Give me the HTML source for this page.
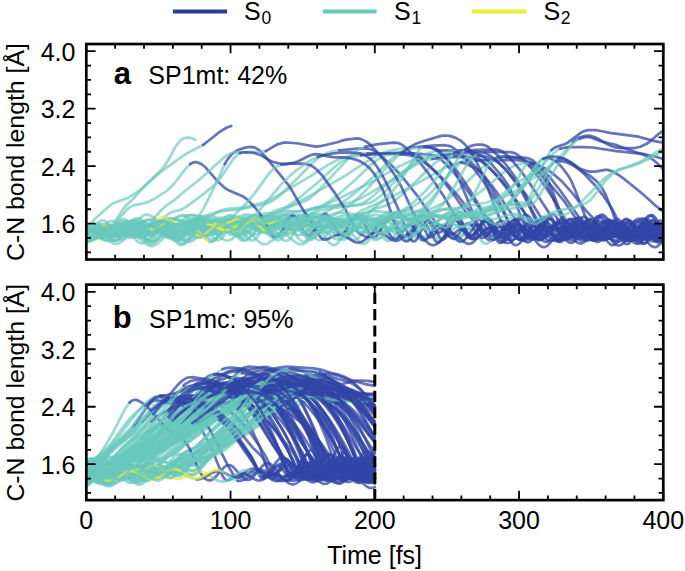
<!DOCTYPE html>
<html><head><meta charset="utf-8"><style>
html,body{margin:0;padding:0;background:#fff}
body{width:685px;height:571px;overflow:hidden}
svg{display:block}
text{font-family:"Liberation Sans",sans-serif;fill:#000}
.tl{font-size:25px}
.c0,.c1,.c2{fill:none;stroke-width:2.7;stroke-opacity:0.75;stroke-linejoin:round;stroke-linecap:round}
.c0{stroke:#3246a6}.c1{stroke:#68c8bc;stroke-opacity:.68}.c2{stroke:#e6ec3c}
</style></head><body>
<svg width="685" height="571" viewBox="0 0 685 571">
<defs>
<clipPath id="ca"><rect x="86.30" y="44.02" width="577.00" height="215.49"/></clipPath>
<clipPath id="cb"><rect x="86.30" y="284.62" width="577.00" height="215.49"/></clipPath>
</defs>
<g clip-path="url(#ca)">
<path class="c1" d="M86.3 237.2l2.2-1.2 2.1-1.9 6.5-7.2 2.2-1.5 2.1-.7 2.2 .4 2.2 1.4 6.5 7 2.1 2 2.2 1.3 2.2 .4 2.1-.6 2.2-1.5 6.5-6.1 2.1-1.3 2.2-.4 2.2 .6 2.1 1.5 6.5 7.7 2.2 2.2 2.1 1.5 2.2 .5 2.2-.4 2.1-1.4 6.5-6.1 2.2-1.4 2.2-.6 2.1 .4 2.2 1.3 8.6 9 2.2 1.3 2.2 .3 2.1-.7 2.2-1.7 8.7-11.2 2.1-2.1 2.2-1.1 2.1-.1 2.2 .8 6.5 4.2 2.2 .6 2.1-.2 2.2-1.1 2.2-1.9 6.4-7.5 2.2-2 2.2-1.2 2.1-.3 2.2 .6 8.7 6.1 2.1 .9 2.2 .1 2.1-.6 2.2-1.4 6.5-6 2.2-1.6 2.1-.9 2.2 0 2.2 .8 8.6 6.9 2.2 1.3 2.1 .5 2.2-.3 2.2-.9 6.5-4.9 2.1-1.3 2.2-.7 2.1 .1 2.2 .9 8.7 7 2.1 1.2 2.2 .6 2.2-.2 2.1-.9 6.5-4.8 4.3-2.2 2.2-.2 2.2 .5 8.6 4.3 2.2 .4 2.1-.4 4.4-2.8 6.5-6.2 4.3-3.3 17.3-7.7 17.3-8.5 21.7-11.3 25.9-14.7 6.5-2.8 8.7-2.6 8.6-1.9 8.7-.9"/>
<path class="c0" d="M475.8 160.4l41.1-.2 4.3 .5 2.2 .7 4.3 2.4 4.3 3.3 10.9 9.7 8.6 9.2 13 15.7 10.8 15.7 2.2 2.6 2.1 1.9 6.5 3.2 2.2 2.1 4.3 6 2.2 1.2 2.1-1.1 8.7-11 2.2-1.4 2.1-.3 2.2 .8 2.2 1.9 8.6 12.6 2.2 2.4 2.1 1.5 2.2 .4 2.2-.8 2.1-1.8 2.2-2.5 6.5-8.4 2.1-1.9 2.2-.8 2.2 .1 2.1 1.1 2.2 1.9 6.5 7.3 3.6 2.8"/>
<path class="c1" d="M86.3 237.7l8.7-10.7 2.1-1.4 2.2-.1 2.1 1 2.2 2.1 6.5 8.8 2.2 2.2 2.1 1.1 2.2-.1 2.2-1.3 2.1-2.3 6.5-8.8 2.2-2.1 2.1-1 2.2 .2 2.2 1.5 2.1 2.4 6.5 8.9 2.2 2 2.1 .9 2.2-.3 2.2-1.6 8.6-11.3 2.2-1.9 2.2-.7 2.1 .5 2.2 1.6 8.6 11.2 2.2 1.7 2.2 .5 2.1-.7 2.2-1.8 8.7-11.5 2.1-1.7 2.2-.5 2.1 .7 2.2 1.9 8.7 11.2 2.1 1.5 2.2 .3 2.2-.9 2.1-2.1 6.5-8.8 2.2-2.3 2.1-1.4 2.2-.1 2.2 1.1 2.1 2.2 6.5 9 2.2 2.3 2.1 1.3 2.2 .1 2.2-1.2 2.1-2.2 6.5-8.8 2.2-2.1 2.2-1 2.1 .1 2.2 1.4 2.1 2.3 6.5 8.9 2.2 2.1 2.2 .9 2.1-.3 2.2-1.5 8.6-11.4 2.2-2 2.2-.8 2.1 .3 2.2 1.6 8.7 11.1 2.1 1.8 2.2 .6 2.1-.6 2.2-1.7 8.7-11.5 2.1-1.7 2.2-.5 2.2 .7 2.1 1.8 8.7 11.4 2.1 1.6 2.2 .4 2.2-.8 2.1-1.9 6.5-8.7 2.2-2.4 2.2-1.4 2.1-.2 2.2 1 2.1 2.1 6.5 9.1 2.2 2.3 2.2 1.4 2.1 .1 2.2-1.1 2.2-2.1 6.4-8.9 2.2-2.3 2.2-1.2 2.1 .1 2.2 1.2 2.2 2.2 6.5 8.8 2.1 2.1 2.2 1 2.1-.2 2.2-1.4 2.2-2.5 6.5-9 2.1-2 2.2-1 2.2 .3 2.1 1.5 8.7 11.2 2.1 1.8 2.2 .8 2.2-.5 2.1-1.6 8.7-11.3 2.1-1.7"/>
<path class="c0" d="M471.4 225l2.2-.6 2.2 .6 2.1 1.8 8.7 11.6 2.2 1.7 2.1 .5 2.2-.7 2.1-1.8 8.7-11.2 2.2-1.5 2.1-.3 2.2 .9 2.2 2 6.4 8.9 2.2 2.4 2.2 1.4 2.1 .2 2.2-1.1 2.2-2.1 6.5-9 2.1-2.3 2.2-1.4 2.2-.1 2.1 1.2 2.2 2.1 6.5 8.8 2.1 2.1 2.2 1.1 2.2-.1 2.1-1.4 2.2-2.3 6.5-9 2.1-2.1 2.2-1 2.2 .3 2.1 1.4 2.2 2.4 6.5 8.9 2.2 2 2.1 .9 2.2-.3 2.1-1.6 8.7-11.1 2.2-1.8 2.1-.7 2.2 .6 2.2 1.7 8.6 11.5 2.2 1.8 2.1 .6 2.2-.6 2.2-1.8 8.6-11.3 2.2-1.6 2.1-.5 2.2 .8 2.2 1.9 8.6 11.2 2.2 1.6 3.6 1"/>
<path class="c1" d="M86.3 238.1l8.7-8.8 2.1-1.2 2.2-.1 2.1 1 2.2 1.9 6.5 7.5 2.2 1.6 2.1 .6 2.2-.4 2.2-1.5 8.6-9.6 2.2-1.3 2.1-.2 2.2 .9 2.2 1.8 6.5 7.4 2.1 1.7 2.2 .7 2.1-.3 2.2-1.4 8.7-9.7 2.1-1.4 2.2-.3 2.2 .8 2.1 1.8 6.5 7.5 2.2 1.7 2.1 .9 2.2-.3 2.2-1.3 8.6-9.5 2.2-1.4 2.2-.3 2.1 .7 2.2 1.7 6.5 7.6 2.1 1.9 2.2 1 2.2-.1 2.1-1.2 2.2-2 6.5-7.4 2.1-1.5 2.2-.4 2.2 .7 2.1 1.6 6.5 7.6 2.2 2 2.2 1.1 2.1-.1 2.2-1 2.1-2 6.5-7.5 2.2-1.5 2.2-.6 2.1 .5 2.2 1.6 8.6 9.4 2.2 1.2 2.2 0 2.1-1 2.2-2 6.5-7.5 2.2-1.7 2.1-.7 2.2 .4 2.1 1.4 8.7 9.4 2.2 1.2 2.1 .1 2.2-.9 2.2-1.9 6.4-7.6 2.2-1.7 2.2-.8 2.1 .3 2.2 1.3 8.7 9.6 2.1 1.3 2.2 .3 2.1-.9 2.2-1.7 6.5-7.5 2.2-1.8 2.1-.8 2.2 .2 2.2 1.3 8.6 9.7 2.2 1.4 2.1 .4 2.2-.7 2.2-1.7 6.5-7.4 2.1-1.8 2.2-1 2.2 .2 2.1 1.2 8.7 9.6 2.1 1.5 2.2 .5 2.2-.6 2.1-1.7 6.5-7.5 2.2-1.9 2.1-1.1 2.2 0 2.2 1.1 2.1 2 6.5 7.4 2.2 1.6 2.2 .5 2.1-.5 2.2-1.6 8.6-9.6 2.2-1.2 2.2-.1 2.1 1 2.2 1.8 6.5 7.5 2.1 1.6 2.2 .7 2.2-.5 2.1-1.4 8.7-9.6 2.2-1.2 2.1-.2 2.2 .9"/>
<path class="c0" d="M493.1 227.8l2.1 1.8 6.5 7.6 2.2 1.7 2.2 .8 2.1-.3 2.2-1.3 8.6-9.4 2.2-1.3 2.2-.3 2.1 .8 2.2 1.8 6.5 7.7 2.2 1.8 2.1 .9 2.2-.2 2.2-1.2 8.6-9.5 2.2-1.4 2.1-.3 2.2 .7 2.2 1.7 6.5 7.5 2.1 1.9 2.2 1 2.1-.1 2.2-1.2 8.7-9.6 2.1-1.5 2.2-.5 2.2 .6 2.1 1.5 6.5 7.5 2.2 1.9 2.1 1 2.2 0 2.2-1.1 2.1-2 6.5-7.6 2.2-1.6 2.1-.7 2.2 .5 2.2 1.5 6.5 7.4 2.1 2.1 2.2 1.1 2.2 .1 2.1-1 2.2-1.9 6.5-7.5 2.1-1.7 2.2-.7 2.2 .5 2.1 1.4 5.8 5.7"/>
<path class="c1" d="M86.3 237.2l2.2-1.7 2.1-2.6 6.5-9.3 2.2-2.1 2.1-1.1 2.2 .1 2.2 1.1 8.6 8.8 2.2 1 2.2 .1 2.1-1 2.2-1.8 6.5-6.6 2.1-1.2 2.2-.2 2.2 .8 2.1 1.7 6.5 7.3 2.2 1.8"/>
<path class="c2" d="M146.9 232.3l2.1 .9 2.2-.2 2.2-1 6.5-6.4 2.1-1.8 2.2-1.1"/>
<path class="c1" d="M164.2 222.7l2.2-.2 2.1 .7 2.2 1.5 6.5 6.1 2.1 1.2 2.2 .3 2.2-.7 2.1-1.6 6.5-7.4 2.2-2 2.2-1.2 2.1-.3 2.2 .5 8.6 6.3 2.2 .8 2.2-.1 2.1-.9 2.2-1.7 6.5-6.6 2.1-1.6 2.2-.7 2.2 .1 2.1 1 8.7 7 2.2 .8 2.1 .2 2.2-.7 8.6-5.1 2.2-.5 2.2 .4 2.1 1.2 2.2 2.1 6.5 8.4 2.1 2.1 2.2 1.1 2.2 .2 2.1-.9 8.7-8.1 2.2-1.2 2.1-.1 2.2 .8 2.1 1.7 6.5 6.6 2.2 1.3 2.2 .5 2.1-.7 2.2-1.5 6.5-7.5 2.1-2 2.2-1.3 2.2-.4 2.1 .4 8.7 5.7 2.2 .7 2.1-.2 2.2-1.1 2.1-1.7 6.5-6.9 2.2-1.7 2.2-1 2.1-.2 2.2 .6 6.5 3.7 2.2 1 2.1 .4 2.2-.2 2.1-.8 8.7-6 2.2-1 2.1-.5 4.4 .7 8.6 3.3 4.3-.2 13-5.4 8.7-1 4.3-.9 8.7-4.2 4.3-2.8 6.5-5.3 28.1-26.5 6.5-5.3 4.3-2.6 4.3-1.8 6.5-1.8 4.4-.4"/>
<path class="c0" d="M506.1 157.6l17.3-.1 4.3 .5 4.3 1.9 6.5 5.4 10.8 11.3 10.9 13.9 21.6 30.8 6.5 13.8 2.2 3.1 2.1 1.1 2.2-.4 2.1-.9 10.9-5.8 4.3-.9 4.3 .7 10.8 6.1 4.4 1.2 2.1-.2 4.4-1.6 8.6-6.3 4.3-2.1 2.2-.2 2.2 .3 2.1 .9 5.8 3.5"/>
<path class="c1" d="M86.3 232.3l8.7 6.1"/>
<path class="c2" d="M95 238.4l2.1 .7 2.2-.2 2.1-.9 2.2-1.7 8.7-9.1 2.1-1.4 2.2-.7 2.2 .2 2.1 1 8.7 7.9"/>
<path class="c1" d="M129.6 234.2l2.1 1.5 2.2 .7 2.2 0 2.1-.9 2.2-1.7 8.6-10.1 2.2-1.7 2.2-.9 2.1-.1 2.2 .8 8.7 5.6 2.1 .8 2.2 0 2.1-.6 2.2-1.3 10.8-9.6 4.4-1.8 4.3 .1 8.6 2.1 4.4-.2 4.3-1.6 8.7-4.5 4.3-1.5 4.3-.7 13-.7 19.5-4.8 8.6-3.5 8.7-4.6 30.3-18.1 19.4-12.4 8.7-4.5 6.5-2.5 8.6-2.2 8.7-1.6 6.5-.4"/>
<path class="c0" d="M367.6 153.3l21.6 .4 19.5 1.5 6.5 1.6 6.5 3.6 13 10.6 8.6 8.3 15.2 17.2 12.9 16.9 2.2 2.1 6.5 4.7 2.2 2.1 2.1 3 4.4 7.5 2.1 2.7 2.2 1 2.1-.6 6.5-5.2 2.2-1 2.2-.2 2.1 .7 2.2 1.6 6.5 6.4 2.1 1.5 2.2 .7 2.2-.2 2.1-1.1 6.5-5.1 2.2-1.1 2.2-.3 2.1 .5 2.2 1.4 6.5 5.5 2.1 .9 2.2 0 2.2-1.2 2.1-2.1 6.5-8.5 2.2-2.1 2.2-1 2.1 .2 2.2 1.2 6.5 7 2.1 1.8 2.2 1 2.2-.1 2.1-1.1 6.5-5.6 2.2-1.1 2.1-.1 2.2 1.2 2.2 2.2 6.5 9.3 2.1 2.2 2.2 1.1 2.2-.3 2.1-1.6 6.5-8.8 2.2-2.6 2.1-1.5 2.2-.4 2.2 .9 6.5 6 2.1 1.4 2.2 .5 2.1-.8 2.2-2 6.5-9.2 2.2-2.3 2.1-1.1 2.2 .1 3.6 2"/>
<path class="c1" d="M86.3 242l4.3-.5 2.2-1.1 2.2-1.8 10.8-14.4 2.1-2 2.2-1.1 2.2-.3 2.1 .5 8.7 5 2.1 .7 2.2 .1 2.2-.5 2.1-1.3 10.9-9.4 2.1-1 2.2-.3 2.1 .3 2.2 1 8.7 6.1 2.1 1 2.2 .4 2.2-.2 2.1-.7 8.7-5.6 2.1-1 2.2-.4 2.2 .2 2.1 .9 2.2 1.7 8.7 10.4 2.1 2.1 2.2 1.3 2.1 .3 2.2-.7 2.2-1.3 6.5-5.3 2.1-1.2 2.2-.4 2.2 .3 2.1 1 8.7 7.7 2.1 1.5 2.2 .7 2.2 0 2.1-.9 2.2-1.5 8.6-8.5 2.2-1.4 2.2-.8 2.1-.1 2.2 .5 8.7 4.4 2.1 .6 2.2-.1 2.1-.6 2.2-1.3 8.7-7.8 4.3-2.8 4.3-.7 10.8 2.2 2.2-.3 4.3-1.9 8.7-6.2 8.6-5.5 8.7-6.6 17.3-15 15.2-14.5 6.4-5.4 4.4-2.7 6.5-2.6 6.5-1.6 4.3-.3"/>
<path class="c0" d="M397.9 153.3l17.3 .3 15.1 1.1 4.4 1 2.1 1 4.4 3 4.3 4.1 8.6 9.1 8.7 11 17.3 25.1 4.3 7.6 6.5 13 2.2 3.4 2.1 2.5 2.2 1.2 2.2-.2 2.1-1.7 8.7-12.8 2.2-1.6 2.1-.2 2.2 1.4 2.1 2.7 6.5 10.3 2.2 2.2 2.2 .8 2.1-.8 2.2-2.3 8.7-14.9 2.1-2.2 2.2-.6 2.1 1 2.2 2.3 6.5 10.5 2.2 2.7 2.1 1.2 2.2-.2 2.2-1.7 8.6-13 2.2-1.8 2.1-.3 2.2 1.3 2.2 2.8 6.5 12.2 2.1 3.3 2.2 1.9 2.1 .4 2.2-1.2 2.2-2.6 6.5-10.1 2.1-2.1 2.2-.8 2.2 .8 2.1 2.2 6.5 10.8 2.2 2.8 2.1 1.6 2.2 0 2.2-1.7 2.1-3.1 6.5-12.3 2.2-3 2.1-1.6 2.2 0 2.2 1.5 8.6 12.4 2.2 1.9 3.6 1"/>
<path class="c1" d="M86.3 237.1l2.2-1.5 6.5-6 2.1-1.2 2.2-.5 2.1 .2 2.2 1 6.5 4.7 2.2 1.2 2.1 .6 2.2-.1 2.2-.9 2.1-1.5"/>
<path class="c2" d="M120.9 233.1l6.5-5.6 2.2-1.3 2.1-.6 2.2 .2 2.2 .9 6.5 5"/>
<path class="c1" d="M142.6 231.7l4.3 2.4 2.1 .2 2.2-.6 4.3-3 6.5-6.1 2.2-1.2 2.2-.4 2.1 .4 2.2 1 6.5 4.3 2.1 .9 2.2 .3 2.2-.4 2.1-1.1 8.7-6.7 2.2-.9 2.1-.4 2.2 .3 2.1 1 6.5 4.3 4.4 1.6 2.1-.1 2.2-.7 8.6-5.8 2.2-1.1 2.2-.5 2.1 0 2.2 .7 8.7 4.7 2.1 .5 2.2 .1 2.1-.6 2.2-1.1 6.5-4.6 4.3-2.3 4.4-.8 6.4-.3 4.4-1.4 15.1-10.1 21.7-11.6 28.1-15.9 26-17.1 8.6-4.9 6.5-2.6 6.5-1.7 8.6-1.6 10.9-1.3"/>
<path class="c0" d="M410.9 147.5l21.6-1.9 13-.4 4.3 .9 2.2 .9 4.3 3.1 4.3 4.1 10.8 11.6 6.5 8.1 6.5 9 17.3 26.2 4.4 8.2 6.5 14.5 2.1 3.9 2.2 2.6 2.1 .8 2.2-.8 2.2-2.1 8.6-10.9 2.2-1.7 2.2-.7 2.1 .5 2.2 1.7 2.2 2.5 6.4 9.5 2.2 2.3 2.2 1.3 2.1 .1 2.2-1.1 2.2-2.1 6.5-8.8 2.1-2.3 2.2-1.3 2.1-.2 2.2 1 2.2 2 6.5 8.6 2.1 2.3 2.2 1.2 2.2 0 2.1-1.2 2.2-2.5 8.6-13.8 2.2-2.2 2.2-.9 2.1 .3 2.2 1.6 8.6 11.5 2.2 1.9 2.2 .8 2.1-.5 2.2-1.6 8.7-12.2 2.1-2 2.2-.9 2.1 .6 2.2 1.8 2.2 3 6.5 11.4 2.1 3 2.2 2 3.6 1.4"/>
<path class="c1" d="M86.3 238.2l4.3-.5 2.2-.7 4.3-2.6 6.5-4.7 4.3-1.9 4.4-.3 10.8 2.7 4.3 0 4.3-1.8 10.9-7.3 4.3-1.4 4.3 .1 8.7 2.2 4.3 .3 4.3-.9 10.8-4.9 4.4-1.2 4.3-.1 10.8 1.2 4.3-.2 17.4-5.1 17.3-1.4 23.8-4.8 6.5-1.9 4.3-2 6.5-4.7 21.6-21.1 10.8-11.1 6.5-5.8 4.3-2.9 4.4-2 6.5-2 6.5-1.1"/>
<path class="c0" d="M339.5 150.3l17.3-1.6 10.8-.1 4.3 1 6.5 3.9 13 11.8 8.6 8.9 17.4 21.6 17.3 25.3 12.9 14.5 2.2 .7 2.2-.9 6.5-5.4 2.1-.6 2.2 .4 2.2 1.4 6.4 6.2 2.2 1.2 2.2 .1 2.1-1.1 8.7-8.6 2.2-.9 2.1 .2 2.2 1.3 6.5 6.2 2.1 1.2 2.2 .2 2.2-1 6.5-6.3 2.1-1.6 2.2-.5 2.1 .6 2.2 1.7 6.5 7.7 2.2 1.5 2.1 .4 2.2-.9 6.5-6.5 2.2-1.7 2.1-.8 2.2 .4 2.1 1.5 6.5 6.7 2.2 1.1 2.2-.1 2.1-1.4 6.5-7.9 2.2-2.1 2.1-1 2.2 .3 2.2 1.4 6.5 7.1 2.1 1.3 2.2 .2 2.2-1 6.4-6.8 2.2-1.6 2.2-.5 2.1 .8 2.2 2 6.5 8.3 2.2 1.6 2.1 .3 2.2-.9 6.5-7.3 2.1-1.9 2.2-.8 2.2 .5 2.1 1.6 6.5 7 2.2 1.1 2.1-.2 2.2-1.5 6.5-8.5 2.2-2.2 2.1-1 2.2 .1 3.6 2"/>
<path class="c1" d="M86.3 242.9l4.3-2.7 8.7-8.6 4.3-2.7 2.2-.5 2.1 .2 10.9 4.4 2.1 .3 2.2-.3 4.3-2.2 8.7-7.2 2.1-1.2 2.2-.6 2.2 .1 2.1 .7 2.2 1.4 8.6 7.7 4.4 2.3 2.1 .2 2.2-.3 10.8-5.3 2.2-.5 2.1 .1 4.4 1.8 8.6 6.4 2.2 1 2.2 .3 2.1-.3 2.2-.9 2.1-1.6 8.7-8.9 4.3-3 2.2-.7 2.2 0 10.8 3.5 4.3-.3 4.3-2.3 8.7-6.3 4.3-1.6 4.3 .1 10.9 3.6 4.3 .1 4.3-1.2 10.8-4.9 4.4-1.2 15.1-1.3 13-2.9 6.5-1.1 25.9-1 6.5-.9 4.4-1.6 6.5-4.3 12.9-11 19.5-15.6 8.7-6.2 4.3-2.3 4.3-1.7 6.5-1.8 6.5-1.1"/>
<path class="c0" d="M432.5 159l15.1-1.6 10.9-.4 4.3 .5 2.2 .7 4.3 2.7 4.3 3.8 8.7 9.1 8.6 10.5 8.7 11.9 17.3 25.6 6.5 11.3 2.1 2.9 2.2 1.1 2.2-.6 2.1-1.7 6.5-7.3 2.2-1.5 2.2-.7 2.1 .5 2.2 1.4 8.6 10 2.2 1.6 2.2 .8 2.1-.4 2.2-1.4 8.6-9.7 2.2-1.7 2.2-.6 2.1 .3 2.2 1.3 8.7 8.7 2.1 1.2 2.2 .2 2.1-.8 2.2-1.8 8.7-10.4 2.1-1.4 2.2-.4 2.2 .6 2.1 1.7 8.7 9.8 2.1 1.3 2.2 .4 2.2-.7 2.1-1.5 6.5-6.9 2.2-1.7 2.1-.8 2.2 .2 2.2 1.2 2.1 2.1 6.5 8.4 2.2 2.1 3.6 2.3"/>
<path class="c1" d="M86.3 229.9l6.5-1.8 4.3 .2 4.3 1.8 8.7 4.4 4.3 .8 2.2-.2 4.3-1.5 8.7-5 4.3-1.5 4.3-.2 10.8 2.4 4.4 0 2.1-.5 4.4-2 8.6-5.6 4.3-1.7 2.2-.3 4.3 .7 10.9 5.4 4.3 1.3 4.3 0 10.8-2.9 4.4-.3 4.3 .8 10.8 4.8 4.3 1 2.2-.1 4.3-1.2 10.8-6 4.4-1.6 4.3-.5 6.5 1"/>
<path class="c2" d="M265.9 221.6l4.3 .8 4.3 .1 4.4-.9 6.5-2.5"/>
<path class="c1" d="M285.4 219.1l4.3-1.2 2.2-.1 4.3 .9 4.3 2.2 8.7 6.1 4.3 2 2.2 .4 2.1 0 4.3-1.2 8.7-4.4 4.3-1.7 4.4-.9 8.6-.7 6.5-1.7 15.2-8 4.3-1.7 10.8-3.1 6.5-3 4.3-3 6.5-5.6 15.2-14.4 12.9-13 4.4-3.8 4.3-2.9 4.3-2.1 6.5-2.1 4.3-.6"/>
<path class="c0" d="M454.1 155.5l4.4 .1 6.5 .8 10.8 2.4 6.5 3.3 6.5 5.3 8.6 8.6 6.5 7.6 10.8 14.6 23.8 35.1 2.2 2.3 2.2 .8 2.1-.9 6.5-6.5 2.2-1.2 2.1-.1 2.2 1.1 6.5 6.5 2.2 1.5 2.1 .5 2.2-.6 2.1-1.8 6.5-6.9 2.2-1.2 2.2 .1 2.1 1.4 6.5 7.6 2.2 2 2.1 .8 2.2-.4 2.2-1.5 6.5-6.7 2.1-1.2 2.2 .1 2.2 1.3 6.4 7.1 2.2 1.7 2.2 .4 2.1-.8 2.2-2 6.5-8.2 2.2-1.5 2.1-.3 2.2 1 6.5 7 2.1 1.7 2.2 .6 2.2-.7 2.1-1.8 5.8-6.4"/>
<path class="c1" d="M86.3 229.9l4.3-2 2.2-.4 2.2 .5 2.1 1.2 6.5 5 2.2 1 2.1 .1 2.2-.7 2.2-1.4 6.5-5.8 2.1-1.2 2.2-.4 2.1 .4 2.2 1.3 6.5 5.6 2.2 1.3 2.1 .6 2.2-.4 2.2-1.2 6.4-5.7 2.2-1.5 2.2-.7 2.1 .1 2.2 1 6.5 5.3 2.2 1.4 2.1 .7 2.2-.2 2.1-1.1 8.7-7.6 2.2-1 2.1-.3 2.2 .7 2.2 1.3 6.5 5.1 2.1 .9 2.2 .1 2.1-.8 2.2-1.5 6.5-6 2.2-1.2 2.1-.4 2.2 .5 2.2 1.2 6.4 5.6 2.2 1.3 2.2 .4 2.1-.4 2.2-1.2 6.5-5.6 2.2-1.3 2.1-.6 2.2 .2 2.1 .9 6.5 4.9 2.2 1.2 2.2 .4 2.1-.3 2.2-1.1 6.5-5.4 4.3-2.6 2.2-.3 2.1 .3 8.7 3.5 2.2 .1 2.1-.4 2.2-1 6.5-4.9 4.3-2.6 4.3-.9 6.5 .4 4.3-.5 4.4-2 15.1-9 6.5-4.4 8.7-7 17.3-15.4 15.1-15 6.5-5.6 4.3-2.8 6.5-2.7 6.5-1.7 6.5-.7"/>
<path class="c0" d="M419.5 147.5l10.8 0 4.4 .8 4.3 2.4 6.5 6.3 8.6 10.1 6.5 8.8 10.8 16.6 13 22.1 6.5 8.1 6.5 10 2.2 2.2 2.1 .4 2.2-1.3 6.5-7.3 2.2-1.8 2.1-1.1 2.2 0 2.1 .8 2.2 1.8 8.7 10 2.1 1.6 2.2 .8 2.2-.2 2.1-1 2.2-1.9 6.5-6.8 2.1-1.6 2.2-.7 2.2 .2 2.1 1.2 2.2 2 8.7 10.8 2.1 1.6 2.2 .6 2.1-.5 2.2-1.5 2.2-2.4 6.5-9 2.1-2.3 2.2-1.5 2.2-.5 2.1 .6 2.2 1.5 8.6 9.2 2.2 1.3 2.2 .3 2.1-.9 2.2-1.8 8.6-12.1 2.2-2.3 2.2-1.3 2.1-.2 2.2 .9 2.2 2.1 8.6 11.9 2.2 2 2.1 1.1 2.2-.1 2.2-1.2 2.1-2 6.5-7.7 2.2-1.9 3.6-1.7"/>
<path class="c1" d="M86.3 236.4l4.3 .3 2.2-1 2.2-1.9 6.4-7.4 2.2-1.4 2.2-.2 2.1 1.1 2.2 2.2 6.5 8.7 2.2 1.9 2.1 .7 2.2-.5 2.1-1.6 6.5-6.8 2.2-1.3 2.2-.1 2.1 1.1 2.2 2.3 6.5 8.7 2.1 2 2.2 .7 2.2-.5 2.1-1.6 6.5-7.4 2.2-1.5 2.2-.4 2.1 .8 2.2 1.9 6.5 7.8 2.1 1.7 2.2 .4 2.2-.8 2.1-1.9 6.5-8.4 2.2-2 2.2-.8 2.1 .4 2.2 1.4 6.5 7 2.1 1.4 2.2 .3 2.2-.9 2.1-2.1 6.5-8.9 2.2-2.1 2.1-1 2.2 .3 2.2 1.4 6.5 7.1 2.1 1.6 2.2 .5 2.2-.7 2.1-1.8 6.5-8.2 2.2-1.9 2.1-.7 2.2 .5 2.2 1.7 6.5 8.1 2.1 2 2.2 1 2.1-.3 2.2-1.4 6.5-7.1 2.2-1.6 2.1-.6 2.2 .8 2.2 1.9 6.4 8.8 2.2 2.3 2.2 1.2 2.1-.1 2.2-1.2 6.5-6.9 2.2-1.7 2.1-.6 2.2 .6 2.1 1.8 6.5 8.4 2.2 2.1 2.2 1.1 2.1-.2 2.2-1.5 6.5-7.7 2.1-2.1 2.2-1 2.2 .2 2.1 1.3 6.5 7.3 2.2 1.8 2.2 .8 2.1-.5 2.2-1.7 8.6-11.1 2.2-1.4 2.2-.1 2.1 1.1 6.5 6.7 2.2 1.8 2.2 .7 2.1-.4 2.2-1.7 8.6-10.9 2.2-1.3 2.2-.1 2.1 1.2 6.5 7.4 2.2 2 2.1 1.1 2.2-.1 2.2-1.2 8.6-9.6 2.2-1 2.2 .2 2.1 1.5 2.2 2.4 6.5 8.5 2.1 1.5 2.2 .2 2.2-.9 2.1-1.8 4.4-4.8 2.1-1.9 2.2-.9 2.1 .3 2.2 1.5 2.2 2.5 6.5 8.7 2.1 1.5 2.2 .3 2.2-.9 2.1-1.9 6.5-7.2 2.2-1.1 2.1 0"/>
<path class="c0" d="M501.7 232.6l2.2 1.2 2.2 2.2 6.5 7.7 2.1 1.3 2.2 .1 2.1-1.2 2.2-2.2 6.5-8.3 2.2-1.6 2.1-.5 2.2 .8 2.2 1.8 6.5 6.9 2.1 1.1 2.2-.1 2.1-1.4 2.2-2.4 6.5-8.8 2.2-1.7 2.1-.6 2.2 .7 2.2 1.7 6.4 7 2.2 1.3 2.2 0 2.1-1.1 2.2-2.1 6.5-8.2 2.2-1.5 2.1-.4 2.2 .9 2.1 2 6.5 8.1 2.2 1.7 2.2 .5 2.1-.7 2.2-1.7 6.5-7.2 2.1-1.2 2.2-.2 2.2 1.2 2.1 2.2 6.5 8.9 2.2 1.9 2.2 .8 2.1-.5 2.2-1.5 6.5-6.9 2.1-1.4 2.2-.2 2.2 1 2.1 2.1 5.8 7"/>
<path class="c1" d="M86.3 240.4l2.2-1.8 6.5-7.6 2.1-1.7 2.2-.8 2.1 .3"/>
<path class="c2" d="M101.4 228.8l2.2 1.2 6.5 5 2.2 .8 2.1-.2 2.2-1.2 6.5-7"/>
<path class="c1" d="M123.1 227.4l2.1-2.1 2.2-1.3 2.2-.2 2.1 .7 8.7 6.9 2.2 .6 2.1-.3 2.2-1.4 6.5-6.6 2.1-1.7 2.2-.8 2.2 .3 2.1 1.2 6.5 6.2 2.2 1.4 2.1 .6 2.2-.5 2.2-1.4 6.5-6 2.1-1.2 2.2-.3 2.2 .7 2.1 1.6 6.5 6.5 2.2 1.3 2.1 .3 2.2-.7 2.2-1.5 6.5-5.8 2.1-1 2.2 .1 2.2 1 8.6 8 2.2 .9 2.1-.1 2.2-1.1 6.5-6 2.2-1.5 2.1-.8 2.2 .2 2.1 1.1 6.5 5.6 2.2 1.3 2.2 .4 2.1-.5 2.2-1.4 6.5-6.4 2.1-1.4 2.2-.6 2.2 .4 2.1 1.1 6.5 5.1 2.2 .9 2.2 .1 2.1-.9 8.7-7.7 2.1-1.2 2.2-.2 2.2 .6 6.5 4.9 2.1 1.5 2.2 .7 2.1-.1 2.2-1 6.5-5.4 2.2-1.2 2.1-.5 2.2 .5 2.2 1.4 6.4 6.7 2.2 1.7 2.2 .7 2.1-.3 2.2-1.3 6.5-6.3 2.2-1.6 2.1-.7 2.2 .1 6.5 2.9 2.1 .7 2.2 .1 2.2-.5 2.1-1.3 6.5-5.6 4.4-2.8 4.3-1.3 6.5-1 6.5-3 10.8-7 6.5-5.5 17.3-17 13-13.9 6.5-5.8 4.3-2.8 4.3-1.9 6.5-1.8 4.3-.4"/>
<path class="c0" d="M484.4 151.8l26 .3 4.3 1 2.2 1.1 4.3 3.4 10.8 11.5 8.7 10.9 10.8 15.9 13 22 6.5 8.2 6.5 9.8 2.1 1.3 2.2-.1 2.2-1 8.6-5.3 2.2-.6 2.1 0 2.2 .5 2.2 1.1 10.8 8.7 2.2 1 2.1 .4 2.2-.2 2.1-.8 10.9-7.9 2.1-.9 2.2-.3 2.2 .3 2.1 .9 8.7 6.6 2.1 1.2 2.2 .6 2.2 0 2.1-.8 5.8-4"/>
<path class="c1" d="M86.3 231.9l8.7-6.5 2.1-1 2.2-.5 2.1 0 2.2 .6 8.7 4.4 4.3 1.3 4.3-.5 10.8-5.2 4.4-1 4.3 .5 10.8 4 4.3 .2 4.4-1.3 8.6-5 4.3-1.7 4.4-.4 10.8 2.9 4.3 .3 4.4-1.1 10.8-5.2 4.3-.7 2.2 .5 2.1 .9 10.8 8.4 2.2 1 2.2 .5 4.3-.6 8.7-3.8 4.3-.7 4.3 .8 10.8 5 4.4 .2 4.3-1.4 8.6-5.2 4.4-2 4.3-1 8.6-.1 4.4-.5 4.3-1.3 10.8-5.2 4.3-1.5 4.4-1 36.8-4.7 4.3-.9 4.3-1.5 4.3-2.5 4.4-3.5 32.4-32.5 6.5-5.7 4.3-2.7 4.4-1.9 8.6-2.4"/>
<path class="c0" d="M436.8 150.7l6.5-.3 10.8 .2 23.8 1.3 6.5 1.1 2.2 .7 4.3 2.5 4.3 3.4 8.7 8.3 10.8 12 15.2 20.2 10.8 16.9 10.8 15.7 2.2 2.5 2.1 1 2.2-1 2.2-2.9 4.3-8 2.2-3.2 2.1-1.6 2.2 .4 2.1 2.1 6.5 10.9 2.2 2.3 2.2 .5 2.1-1.5 2.2-3.2 6.5-12.3 2.1-2.2 2.2-.2 2.2 1.7 2.1 3.3 4.4 8 2.1 3.1 2.2 1.4 2.2-.5 2.1-2.2 6.5-10.3 2.2-1.8 2.1-.1 2.2 2 8.7 16.2 2.1 2.1 2.2 .2 2.1-1.7 6.5-10.6 2.2-2.6 2.2-1 2.1 .9 2.2 2.2 3.6 5"/>
<path class="c1" d="M86.3 228.5l4.3 .6 2.2 .9 8.6 4.8 4.4 1.1 4.3-1 10.8-6.5 4.3-1.1 4.4 1.1 10.8 6.2 2.2 .6 2.1 .1 4.3-1.5 8.7-6.1 4.3-1.9 2.2-.3 2.2 .3 2.1 .7 8.7 4.6 4.3 .9 2.2-.3 2.1-.8 10.9-7.8 4.3-1.7 2.1 0 2.2 .4 10.8 5.7 4.4 .8 4.3-1.1 8.6-5.3 4.4-1.7 4.3-.1 8.6 2.6 2.2 .3 4.3-.6 4.4-2.4 8.6-6.6 4.3-2.5 4.4-1.7 19.4-5.2 6.5-2.7 4.4-2.7 4.3-3.4 6.5-6.4 32.4-34.7 6.5-4.8 6.5-2.6"/>
<path class="c0" d="M365.4 146.7l6.5-1.6 6.5-1 15.2-1.5 4.3 .4 2.1 .8 2.2 1.1 4.3 3.3 13 13.9 8.7 11 15.1 22.4 15.2 26.6 8.6 12 2.2 1.9 2.1 .2 2.2-1.5 8.7-12.4 2.1-2.1 2.2-1.1 2.2 .1 2.1 1.4 2.2 2.4 8.6 12.8 2.2 1.8 2.2 .6 2.1-.8 2.2-2 2.2-3.1 6.4-11.6 2.2-3.1 2.2-2.1 2.1-.7 2.2 .6 2.2 1.9 2.1 3 6.5 11.4 2.2 3.1 2.2 2 2.1 .8 2.2-.5 2.1-1.7 8.7-11.9 2.2-2.1 2.1-1.1 2.2 .3 2.2 1.4 2.1 2.6 8.7 13.4 2.1 1.9 2.2 .7 2.2-.8 2.1-2.1 2.2-3.3 8.6-16.1 2.2-2.5 2.2-1.2 2.1 .3 2.2 1.6 2.2 2.7 6.5 10.9 2.1 3 2.2 2 2.1 .7 2.2-.5 2.2-1.7 8.6-11.9 2.2-2 2.2-.9 2.1 .4 2.2 1.7 2.1 2.8 6.5 11.7 2.2 3.4 2.2 2.3 2.1 1.2 2.2-.1 3.6-1.9"/>
<path class="c1" d="M86.3 238l4.3 1.1 2.2-.4 2.2-1.5 8.6-9.7 2.2-1.2 2.1 0 2.2 1 6.5 6.5 2.2 1.7 2.1 .6 2.2-.4 2.1-1.5 6.5-7.2 2.2-1.7 2.2-.7 2.1 .4 2.2 1.5 6.5 6.9 2.1 1.4 2.2 .4 2.2-.7 2.1-1.7 6.5-7.1 2.2-1.4 2.2-.3 2.1 .9 2.2 1.8 6.5 6.8 2.1 1.2 2.2 .1 2.2-1.1 6.5-6.9 2.1-2 2.2-1.1 2.2 .1 2.1 1.1 6.5 6.8 2.2 1.7 2.1 .7 2.2-.5 2.2-1.6 6.5-7.8 2.1-1.9 2.2-1 2.1 .2 2.2 1.2 6.5 5.6 2.2 1.1 2.1 .1 2.2-.9 2.2-1.7 6.4-6.7 2.2-1.4 2.2-.5 2.1 .3 2.2 1.1 6.5 4.1 2.2 .5 2.1-.3 2.2-1.1 8.6-7 2.2-1 2.2-.4 2.1 .2 6.5 1.9 4.3-.2 4.4-2 8.6-5.3 13-4.1 10.8-4.5 39-19.8 23.8-13.7 10.8-5.3 6.5-2.2 6.5-1.5 19.5-2.8"/>
<path class="c0" d="M441.2 155.2l17.3-2.1 8.6-.3 4.3 .7 2.2 .9 6.5 4.6 10.8 10.5 6.5 7 8.7 10.9 15.1 20.3 4.3 6.6 8.7 19.4 2.2 3.7 2.1 2.2 2.2 .4 2.2-1.1 2.1-2 8.7-10.6 2.1-2.1 2.2-1.3 2.2-.3 2.1 .7 2.2 1.6 8.6 10.6 2.2 2 2.2 1.2 2.1 .2 2.2-.8 2.2-1.8 8.6-11.5 2.2-2.2 2.1-1.4 2.2-.3 2.2 .8 2.1 1.7 8.7 10.8 2.2 1.9 2.1 1.1 2.2 .1 2.1-.9 2.2-1.9 8.7-10.7 2.1-1.7 2.2-.8 2.2 .3 2.1 1.3 2.2 2.3 8.6 12.1 2.2 1.9 2.2 1 2.1 0 2.2-.9 3.6-2.6"/>
<path class="c1" d="M86.3 235.5l6.5-8.6 2.2-2.1 2.1-.9 2.2 .4 2.1 1.5 6.5 6.6 2.2 1.1 2.2-.2 2.1-1.3 6.5-7.8 2.2-2.1 2.1-1 2.2 .3 2.2 1.5 6.5 8.2 2.1 2 2.2 1 2.2-.4 2.1-1.4 6.5-7.1 2.2-1.5 2.1-.2 2.2 1 2.2 2 6.5 8.1 2.1 1.5 2.2 .3 2.1-1.1 8.7-9.7 2.2-1.2 2.1 0 2.2 1.2 6.5 7.1 2.2 1.7 2.1 .6 2.2-.7 2.1-1.9 6.5-8.6 2.2-2 2.2-.9 2.1 .4 2.2 1.5 6.5 7 2.1 1.2 2.2 .1 2.2-1.2 2.1-2.2 6.5-7.9 2.2-1.3 2.2 0 2.1 1.3 8.7 9.7 2.1 1.1 2.2-.1 2.2-1.3 6.5-7 2.1-1.6 2.2-.4 2.1 .8 2.2 1.9 6.5 8.3 2.2 1.8 2.1 .6"/>
<path class="c2" d="M287.5 233.6l2.2-.7 2.2-1.7 6.4-6.9 2.2-1.2 2.2 0 2.1 1.2 8.7 9.3 2.2 .9 2.1-.2"/>
<path class="c1" d="M317.8 234.3l2.2-1.5 6.5-7.7 2.1-2 2.2-.9 2.2 .2 2.1 1.4 6.5 6.7 2.2 1.4 2.1 .2 2.2-1 2.2-2.1 6.5-8.3 2.1-1.6 2.2-.5 2.2 .7 8.6 8.1 2.2 .9 2.1-.2 2.2-1.4 6.5-7.1 2.2-1.8 2.1-.8 2.2 .2 2.2 1.3 6.4 6.3 2.2 1.3 2.2 .4 2.1-.6 2.2-1.4 6.5-6 2.2-1.2 2.1-.3 2.2 .5 8.6 5.3 2.2 .4 2.2-.4 2.1-1.1 8.7-7.4 2.1-1.4 10.9-4.6 8.6-6 19.5-15.4 15.1-13 6.5-4.9 4.4-2.4 6.4-2.5 4.4-1.1 4.3-.2"/>
<path class="c0" d="M527.7 162.8l4.3 .6 4.4 1.2 8.6 3.6 8.7 6 8.6 7.6 10.8 12.1 13 17 8.7 8.8 2.1 3.3 6.5 13.8 2.2 2.2 2.2-.4 8.6-10.4 2.2-1.6 2.1-.5 2.2 .7 2.2 1.8 6.5 7.4 2.1 1.4 2.2 .2 2.2-1 2.1-2.2 6.5-8.2 2.2-1.6 2.1-.3 2.2 1 2.2 2.1 4.3 5.5 3.6 3.8"/>
<path class="c1" d="M86.3 229.9l4.3 .7 2.2 1.2 8.6 7.2 2.2 1.1 2.2 .3 2.1-.6 2.2-1.3 8.7-8.6 2.1-1.6 2.2-.8 2.1 0 2.2 .9 2.2 1.5 6.5 5.8 2.1 1.4 2.2 .7 2.2-.2 2.1-.9 2.2-1.6 6.5-6.1 2.1-1.5 2.2-.7 2.2 0 2.1 .9 2.2 1.6 8.6 8.5 2.2 1.1 2.2 .2 2.1-.8 2.2-1.8 8.7-11 2.1-1.7 2.2-.9 2.2 .1 2.1 .8 6.5 4.5 2.2 1.2 2.1 .7 2.2-.1 2.2-.7 2.1-1.3 8.7-7.4 2.1-1.2 2.2-.7 2.2 0 2.1 .5 6.5 3.3 4.4 1.5 2.1-.1 2.2-.5 4.3-2.7 6.5-5.1 4.3-2.1 4.4-.6 6.4-.1 2.2-.4 4.3-2 13-8.8 8.7-6.7 17.3-14.5 13-12.1 6.5-5.4 4.3-2.7 4.3-1.9 6.5-1.9 6.5-1.2"/>
<path class="c0" d="M361.1 155.3l23.8-1.9 21.6-.7 6.5 .7 4.4 1.9 4.3 3.1 4.3 4 8.7 8.6 6.5 7.3 12.9 16.8 10.9 15.7 8.6 9.6 2.2 2.9 6.5 10.9 2.1 1.8 2.2-.2 2.2-1.8 6.4-8.9 2.2-2.3 2.2-1.5 2.1-.3 2.2 .8 2.2 1.9 8.6 12.3 2.2 2.2 2.1 1.3 2.2 0 2.2-1 2.1-2.1 8.7-11.7 2.2-1.8 2.1-.7 2.2 .4 2.2 1.5 8.6 10.7 2.2 1.9 2.1 1 2.2-.1 2.2-1.3 2.1-2.3 8.7-12.7 2.1-2 2.2-.9 2.2 .3 2.1 1.4 2.2 2.3 6.5 9.2 2.2 2.5 2.1 1.5 2.2 .4 2.1-.7 2.2-1.7 8.7-10.6 2.1-1.7 2.2-.6 2.2 .6 2.1 1.6 2.2 2.6 6.5 10 2.1 2.7 2.2 1.8 2.2 .6 2.1-.6 2.2-1.7 8.6-11.7 2.2-2.2 2.2-1.2 2.1-.1 2.2 1 2.2 2 7.9 9.5"/>
<path class="c1" d="M86.3 232.1l6.5-2.5 2.2-.2 2.1 .4 4.3 2.6 8.7 7.1 2.2 1 2.1 .3 2.2-.2 2.2-.9 8.6-5.9 2.2-1.1 2.1-.5 2.2 .1 4.3 1.9 8.7 6.5 2.1 1 2.2 .4 2.2-.2 2.1-.8 10.9-8 2.1-.9 2.2-.4 2.1 .3 2.2 .9 8.7 5.9 2.1 1 2.2 .4 2.2-.6 2.1-1.5 2.2-2.4 8.6-11.6 2.2-2 2.2-1.3 2.1-.5 2.2 .1 8.7 3.2 4.3 .6 4.3-1.1 10.8-6.8 4.4-1.7 4.3-.2 10.8 2.4 4.3 .1 4.4-.9 8.6-3.5 4.3-1.2 4.4-.4 10.8 .5 4.3-.3 15.2-3.6 23.8-2.9 6.4-1.2 6.5-1.8 6.5-2.6 8.7-4.5 32.4-19.6 19.5-12.5 8.7-4.7 6.5-2.6 8.6-2.3 10.8-1.9 8.7-.7"/>
<path class="c0" d="M462.8 150.3l32.4-.9 4.4 .8 2.1 1 4.4 3.1 4.3 4.4 8.6 9.9 8.7 11.7 21.6 32.9 4.4 8.3 6.5 14.8 2.1 2.9 2.2 .9 2.2-.4 2.1-.9 8.7-4.7 4.3-1.2 2.2 0 4.3 1.3 6.5 3.8 4.3 2 4.3 .4 4.4-1.6 8.6-5.6 4.3-1.3 2.2 .2 2.2 .7 4.3 3 6.5 5.5 4.3 2.1 2.2 .2 2.1-.5 2.2-1.1 10.8-8.9 2.2-1 3.6-.8"/>
<path class="c1" d="M86.3 237.2l2.2-1.3 6.5-5.9 4.3-3.3 4.3-1.5 6.5-.2 2.2-.8 2.1-1.9 8.7-13.2 2.1-2.7 8.7-8.2 13-14.6 13-12.3 4.3-5 4.3-6.6 6.5-12.1 4.3-6.2 2.2-1.9 2.2-1.2 2.1-.6 4.4 .1 4.3 1.4 .6 .6"/>
<path class="c1" d="M86.3 229.1l2.2-2.2 6.5-8.2 15.1-13.3 4.3-2.7 13-4.7 6.5-3.6 8.7-6.3 17.3-15.4 21.6-15.9 6.5-4.1 15.1-7.7"/>
<path class="c0" d="M203.1 145l17.4-13.7 6.4-3.8 4.4-1.6"/>
<path class="c1" d="M86.3 233.7l4.3 .1 2.2 .6 8.6 3.8 2.2 0 2.2-.8 2.1-1.8 2.2-2.7 6.5-10.4 4.3-6 6.5-7.3 2.2-1.8 4.3-2.2 8.7-1.6 6.4-2.1 6.5-3.4 8.7-5.4 4.3-3.4 4.3-4.2 4.4-5.2 8.6-11.5 4.4-4.3"/>
<path class="c0" d="M190.2 164.1l2.1-1.2 2.2-.7 2.2 0 4.3 1.6 4.3 3.4 13 14.9 6.5 5.9 4.3 2.6 13 5.3 4.3 2.9 6.5 6.4 6.5 7.7 4.3 7.1 6.5 12 2.2 2.9 2.1 1.8 2.2 .3 2.2-1.3 2.1-2.8 6.5-12.6 2.2-3.2 2.2-1.5 2.1 .2 2.2 2 8.6 15.3 2.2 2.2 2.2 .5 2.1-1.4 2.2-3 6.5-12.7 2.1-3.1 2.2-1.6 2.2 .2 2.1 1.9 8.7 15.2 2.2 2.3 2.1 .7 2.2-1 2.1-2.6 6.5-11.2 2.2-2.7 2.2-1.2 2.1 .6 2.2 2.2 2.2 3.5 6.5 12.3 2.1 2.4 2.2 .8 2.1-1 2.2-2.5 6.5-11.3 2.2-2.8 2.1-1.4 2.2 .3 2.2 1.8 8.6 13.9 2.2 1.9 2.1 .3 2.2-1.4 2.2-2.9 6.5-12.3 2.1-3 2.2-1.6 2.1 0 2.2 1.7 8.7 13.5 2.1 1.9 2.2 .4 2.2-1.2 2.1-2.6 6.5-11.1 2.2-2.6 2.1-1.1 2.2 .5 2.2 2.1 8.6 15.2 2.2 2.3 2.1 .8 2.2-.9 2.2-2.3 6.5-10.3 2.1-2.4 2.2-1 2.2 .5 2.1 2.1 6.5 11.1 2.2 3.2 2.1 2 2.2 .4 2.2-1.3 2.1-2.7 6.5-11.5 2.2-2.9 2.1-1.5 2.2 .1 2.2 1.7 8.6 12.6 2.2 1.7 2.2 .1 2.1-1.4 2.2-2.8 6.5-11.6 2.1-2.7 2.2-1.3 2.2 .3 2.1 1.9 8.7 14.1 2.2 2.1 2.1 .6 2.2-1 2.1-2.4 6.5-10.1 2.2-2.2 2.2-.9 2.1 .7 2.2 2.3 6.5 11.4 2.1 3.4 2.2 2.1 2.2 .6 2.1-1.1 2.2-2.4 6.5-10.7 2.2-2.5 2.1-1.2 2.2 .3 2.1 1.9 8.7 12.9 2.2 1.6 2.1 .1 2.2-1.5 2.2-2.9 6.4-11.7 2.2-2.8 2.2-1.5 2.1 .2 2.2 1.7 6.5 10 3.6 4.7"/>
<path class="c1" d="M86.3 232.7l4.3 .8 6.5 1.9 4.3 .3 4.4-1.4 10.8-7.8 4.3-1.9 4.3-.1 10.9 3.9 4.3 .6 4.3-1 8.7-3.9 4.3-.8 4.3 .9 8.7 5.1 4.3 1.9 2.2 .4 2.1-.2 2.2-.7 4.3-2.7 8.7-7 4.3-4.6 4.3-7.3 10.9-21.4 10.8-23.6"/>
<path class="c0" d="M224.8 164.1l2.1-3.8 4.4-5.6 4.3-3.4 4.3-2.1 6.5-1.8 4.3-.5 4.4 .8 4.3 2.6 6.5 6.8 21.6 26.7 4.4 6.5 10.8 19 8.6 12.7 8.7 14.5 2.1 2.2 2.2 1 2.2-.2 8.6-4 4.4-.9 4.3 1 10.8 6.4 2.2 .5 2.1 .1 2.2-.6 2.2-1.1 8.6-6.8 2.2-1.3 2.1-.7 2.2-.1 2.2 .5 2.1 1.1 8.7 6.2 2.2 .8 2.1 .3 2.2-.4 2.1-1 8.7-6.6 2.2-1.1 2.1-.4 2.2 .3 2.2 1.1 2.1 1.7 8.7 8.7 2.1 1.4 2.2 .6 2.2-.2 2.1-1 10.8-9.5 2.2-1 2.2-.2 2.1 .6 2.2 1.3 8.7 7.4 2.1 1 2.2 .3 2.1-.6 2.2-1.4 8.7-9.8 2.1-1.9 2.2-1.2 2.2-.3 2.1 .6 2.2 1.5 8.6 9.5 2.2 1.7 2.2 .9 2.1 .1 2.2-.8 2.2-1.6 6.4-6.5 2.2-1.6 2.2-.9 2.1-.1 2.2 .9 2.2 1.7 8.6 10.3 2.2 1.8 2.2 .9 2.1-.1 2.2-1.1 2.1-1.9 8.7-10.7 2.2-1.6 2.1-.8 2.2 .2 2.2 1.1 8.6 8.8 2.2 1.6 2.1 .8 2.2-.1 2.2-1.1 2.1-2 8.7-10.4 2.1-1.5 2.2-.6 2.2 .5 2.1 1.6 10.9 13.6 2.1 1.6 2.2 .5 2.1-.5 2.2-1.4 8.7-9.5 2.1-1.6 2.2-.7 2.2 .3 2.1 1.3 2.2 2.2 6.5 8.1 2.1 2.1 2.2 1.2 2.2 .2 2.1-.9 5.8-5.1"/>
<path class="c1" d="M86.3 231.2l2.2 1.3"/>
<path class="c2" d="M88.5 232.5l4.3 3.1 2.2 .9 2.1 0 2.2-.9 2.1-1.6"/>
<path class="c1" d="M101.4 234l6.5-6.6 2.2-1.5 2.2-.5 2.1 .4 2.2 1.3 6.5 6.3 2.1 1.5 2.2 .7 2.2-.3 2.1-1.2 2.2-2 6.5-7.8 2.2-1.9 2.1-1.2 6.5-1.5 2.2-1.2 10.8-11.3 10.8-7.6 10.8-9.4 13-9.9 26-23.5 4.3-2.9 2.2-.9 4.3-.6 17.3-.5 8.7 .1 4.3-.8"/>
<path class="c0" d="M265.9 151.2l10.8-6.6 6.5-1.9 4.3-.2 10.8 1 17.4 3.1 4.3-.4 17.3-4 6.5-2.1 4.3-.8 8.7-.9 2.1 .2 2.2 .5 4.3 2 4.4 3.1 6.4 6.7 8.7 10.4 8.7 12.1 4.3 7 4.3 8 10.8 23.8 2.2 3.9 6.5 8.6 6.5 11.4 2.1 1.4 2.2-.9 6.5-8 2.2-2 2.1-1 2.2 .3 2.1 1.5 8.7 11.7 2.2 2 2.1 .7 2.2-.5 2.2-1.7 2.1-2.7 6.5-9.2 2.2-1.8 2.1-.5 2.2 .7 2.2 1.9 6.5 8.6 2.1 2.2 2.2 1 2.1-.3 2.2-1.5 2.2-2.6 6.5-9.5 2.1-2 2.2-.7 2.2 .7 2.1 2 6.5 10.5 2.2 3.1 2.1 2.1 2.2 .8 2.2-.7 2.1-2 6.5-9.5 2.2-2.5 2.2-1.4 2.1-.1 2.2 1.3 2.1 2.5 6.5 9.4 2.2 2 2.2 .7 2.1-.8 2.2-2.2 8.6-14.2 2.2-2.1 2.2-.8 2.1 .8 2.2 2.3 6.5 10.6 2.2 3 2.1 1.8 2.2 .4 2.1-1 2.2-2.3 6.5-9.6 2.2-2.2 2.1-.8 2.2 .6 2.2 2 8.6 13.9 2.2 2.1 2.1 .6 2.2-1 2.2-2.5 8.6-14.9 2.2-2.1 2.1-.6 2.2 1 2.2 2.3 6.5 10.2 2.1 2.6 2.2 1.5 3.6 .3"/>
<path class="c1" d="M86.3 242.6l2.2-1.7 2.1-2.4 6.5-8.8 2.2-2.2 2.1-1.5"/>
<path class="c2" d="M101.4 226l2.2-.5 2.2 .3 2.1 1.1 6.5 4.8 2.2 .9"/>
<path class="c1" d="M116.6 232.6l2.2 .1 2.1-.7 2.2-1.5 8.6-9.5 2.2-1.7 2.2-.9 2.1-.1 2.2 .7 8.6 6.8 2.2 1.1 2.2 .3 2.1-.6 2.2-1.7 6.5-7.4 4.3-3.8 4.3-1.9 8.7-2.2 4.3-2.5 15.2-11.2 10.8-8.7 4.3-4 4.4-5.2 12.9-19 4.4-4.7 2.1-1.2"/>
<path class="c0" d="M239.9 153.1l2.2-.6 4.3-.2 4.3 .2 4.4 .7 6.5 2.4 6.5 4 4.3 2.1 6.5 1.7 4.3 .5 4.3-.1 6.5-1 4.3-1.6 10.9-5.4 4.3-1.5 2.2-.2 4.3 .4 6.5 1.6 6.5 1.1 12.9 .5 4.4 .5 6.5 1.7 4.3 1.9 4.3 2.8 4.4 3.8 4.3 5.2 2.1 3.4 6.5 12.7 4.4 10.6 8.6 26.7 2.2 5.6 2.1 4 2.2 2.6 2.2 1.7 2.1 .5 2.2-.9 2.2-2.7 6.5-12.5 2.1-3.1 2.2-1.3 2.1 .5 2.2 2.4 8.7 16.2 2.1 2.1 2.2 .3 2.2-1.6 2.1-3.2 6.5-13 2.2-3 2.1-1.4 2.2 .5 2.2 2.1 6.5 10.9 2.1 2.9 2.2 1.5 2.1-.2 2.2-1.8 8.7-13.8 2.1-1.9 2.2-.1 2.2 1.6 2.1 3.1 6.5 12.6 2.2 3 2.1 1.5 2.2-.2 2.2-1.8 8.6-13.8 2.2-1.8 2.1-.4 2.2 1.2 2.2 2.5 6.5 9.5 2.1 1.7 2.2 .2 2.2-1.4 2.1-2.7 6.5-11.8 2.2-2.8 2.1-1.5 2.2 .3 2.2 1.8 8.6 14.2 2.2 2.3 2.2 .7 2.1-.8 2.2-2 6.5-8.9 2.1-1.8 2.2-.5 2.2 1 2.1 2.4 6.5 10.4 2.2 2.6 2.1 1.3 2.2-.3 2.2-1.9 2.1-3.1 6.5-11.5 2.2-2.4 2.2-1 2.1 .5 2.2 1.9 6.5 8.9 2.1 2.1 2.2 .9 2.2-.5 2.1-1.8 6.5-9.3 2.2-2.3 2.1-1.2 2.2 .4 2.2 1.8 2.1 3.1 6.5 11.4 2.2 2.6 3.6 2.2"/>
<path class="c1" d="M86.3 234.3l6.5-5 2.2-.7 2.1 .3 2.2 1.3 6.5 5.9 2.1 1.3 2.2 .5 2.2-.6 2.1-1.4 6.5-6.5 2.2-1.5 2.1-.6 2.2 .5 2.2 1.3 6.5 6.5 2.1 1.6 2.2 .6 2.2-.3 2.1-1.3 6.5-6.1 2.2-1.4 2.1-.6 2.2 .5 2.2 1.3 6.5 6.5 2.1 1.6 2.2 .6 2.1-.3 2.2-1.3 6.5-6.4 2.2-1.6 2.1-.8 2.2 .3 2.2 1.2 6.5 6 2.1 1.5 2.2 .6 2.1-.4 2.2-1.4 2.2-2.1 6.5-7.4 4.3-3.7 2.2-.9 6.4-1.3 2.2-1.1 4.3-3.6 13-12.8 4.3-4.9 6.5-8.3 8.7-12.3 4.3-5.5 4.3-4.2 2.2-1.4 4.3-1.8"/>
<path class="c0" d="M281 164.7l10.9-1.3 12.9 .5 4.4 .9 2.1 .9 4.4 2.9 6.4 6.8 13 18 10.8 17 8.7 17.4 2.2 3.2 2.1 2.1 2.2 1.2 4.3 2.3 2.2 .6 2.2-1 2.1-2.6 4.3-6.8 2.2-2.3 2.2-.9 2.1 .8 2.2 2.3 6.5 10 2.2 2 2.1 .5 2.2-1.2 2.1-2.4 6.5-9.3 2.2-1.4 2.2 .1 2.1 1.8 6.5 9.8 2.2 2.6 2.1 1.1 2.2-.5 2.2-1.9 6.5-9.9 2.1-2.2 2.2-.9 2.2 .8 2.1 2.1 6.5 9.1 2.2 1.6 2.1 .1 2.2-1.4 2.2-2.7 4.3-7 2.2-2.7 2.1-1.5 2.2 0 2.1 1.7 6.5 9.4 2.2 2.5 2.2 1 2.1-.4 2.2-1.9 6.5-8.9 2.1-1.9 2.2-.4 2.2 1.2 2.1 2.5 6.5 9.8 2.2 1.9 2.2 .3 2.1-1.3 2.2-2.5 4.3-6.5 2.2-2.5 2.1-1.3 2.2 .2 2.2 1.6 6.5 8.9 2.1 2.1 2.2 .7 2.2-.8 2.1-2.2 6.5-9.9 2.2-2.1 2.1-.7 2.2 .9 2.2 2.2 6.5 8.9 2.1 1.5 2.2 0 2.1-1.4 6.5-8.9 2.2-2.3 2.2-1.1 2.1 .5 2.2 1.9 6.5 9.8 2.1 2.4 2.2 1 2.2-.6 2.1-1.9 6.5-8.7 2.2-1.7 2.2-.3 2.1 1.2 2.2 2.4 6.5 9 2.1 1.4 2.2-.1 2.2-1.6 6.5-9.5 2.1-2.5 2.2-1.3 2.1 .2 2.2 1.6 6.5 8.6 2.2 1.9 2.1 .6 2.2-.6 3.6-2.8"/>
<path class="c1" d="M86.3 229.2l4.3-.8 4.4 .5 10.8 6.1 4.3 1 4.3-1 10.8-6.8 4.4-1 4.3 .8 8.7 4.5 4.3 .9 2.1-.2 2.2-.8 2.2-1.3 8.6-6.8 4.4-1.9"/>
<path class="c2" d="M166.4 222.4l2.1-.2 4.3 1.1 8.7 4.7"/>
<path class="c1" d="M181.5 228l4.3 1 2.2-.2 4.3-1.9 8.7-5.1 2.1-.6 2.2-.1 4.3 1.4 8.7 6 4.3 1.9 2.2 .3 2.1-.3 4.4-1.7 10.8-7.6 8.6-3.9 4.4-2.7 4.3-4.2 21.6-25.6 8.7-8.6 6.5-5.6 8.6-6.5 6.5-4.2 6.5-2.9"/>
<path class="c0" d="M317.8 156.9l6.5-1.9 8.7-1.5 8.6-.9 8.7-.2 10.8 1.3 4.3 1.7 4.4 2.9 4.3 4.3 2.1 2.9 4.4 6.8 4.3 7.8 4.3 8.7 8.7 19.3 10.8 27.8 2.2 3.8 2.1 1.8 2.2-.5 2.2-2.5 6.4-13.2 2.2-3.4 2.2-1.6 2.1 .5 2.2 2.7 6.5 12.8 2.2 2.7 2.1 .5 2.2-1.8 2.1-3.7 6.5-14.1 2.2-2.5 2.2-.1 2.1 2.2 2.2 3.9 4.3 9.8 2.2 3.8 2.1 1.9 2.2-.3 2.2-2.4 6.5-12 2.1-2.3 2.2-.3 2.2 1.9 2.1 3.8 4.3 9.7 2.2 3.9 2.2 2 2.1-.3 2.2-2.6 6.5-14.8 2.2-3.9 2.1-2 2.2 .4 2.1 2.4 6.5 12 2.2 2.3 2.2 .3 2.1-1.8 2.2-3.6 4.3-9.2 2.2-3.4 2.2-1.6 2.1 .8 2.2 3 6.5 15.3 2.1 3.9 2.2 1.7 2.2-.5 2.1-2.6 6.5-12.7 2.2-2.5 2.1-.5 2.2 1.7 2.2 3.4 4.3 8.6 2.2 3.1 2.1 1.2 2.2-1 2.2-3.3 6.4-15.3 2.2-3.6 2.2-1.5 2.1 1 2.2 3 6.5 13.5 2.2 2.7 2.1 .6 2.2-1.5 2.1-3.3 4.4-8.2 2.1-2.9 2.2-1 2.2 1.2 2.1 3.3 6.5 14.9 2.2 3.2 2.1 1 2.2-1.4 2.2-3.5 6.5-14.4 2.1-2.9 2.2-1 2.2 .4 1.4 .9"/>
<path class="c1" d="M86.3 225.5l4.3 .6 8.7 4.6 2.1 .7 2.2 .3 2.2-.3 2.1-1 10.9-9.3 2.1-1.1 2.2-.6 2.1 .2 2.2 .9 2.2 1.5 8.6 7.7 2.2 1.2 2.2 .6 2.1-.1 2.2-.7 8.6-5.9 2.2-1.1 2.2-.5 2.1 .1 2.2 .8 2.2 1.4 6.4 5.8 4.4 3.2 2.1 .7 2.2 .1 2.2-.7 2.1-1.2 8.7-7 2.2-1.2 2.1-.6 2.2 .1 2.1 .6 10.9 6.5 2.1 .5 2.2 0 2.2-.8 2.1-1.3 8.7-7.9 4.3-2.6 2.2-.4 2.1 .2 4.4 1.9 6.4 4 2.2 .8 2.2 .2 2.1-.3 2.2-.9 10.8-7.9 2.2-.9 2.1-.4 2.2 .3 2.2 .8 10.8 7.6 2.2 .9 2.1 .3 2.2-.2 2.1-.8 8.7-5.1 4.3-2 4.4-.6 8.6 .7 2.2-.1 4.3-1.1 4.3-2.1 13-7.9 6.5-5.4 13-12.7 23.8-26.5 8.6-8.3"/>
<path class="c0" d="M400 153.8l8.7-6.2 6.5-3.5 8.6-3.1 17.4-5.1 4.3-.4 4.3 .4 6.5 2.2 4.3 2.5 4.4 3.9 4.3 5.3 6.5 10.4 6.5 13.9 12.9 33.7 4.4 10.3 4.3 7.9 2.2 2.3 2.1 .8 2.2-.6 4.3-2.3 2.2-.7 2.1 0 2.2 .8 6.5 4.8 2.2 .9 2.1 .1 2.2-.9 8.7-7.8 2.1-.8 2.2 .3 2.1 1.1 4.4 3.4 2.1 1.2 2.2 .3 2.2-.9 2.1-1.8 4.4-4.8 2.1-1.8 2.2-.7 2.1 .5 2.2 1.7 6.5 7.6 2.2 1.4 2.1 .1 2.2-1.1 6.5-5.7 2.1-.7 2.2 .7 2.2 2.1 6.5 9.1 2.1 1.8 2.2 .3 2.2-1.1 6.4-7.6 2.2-1.7 2.2-.2 2.1 1.1 6.5 7.5 2.2 1.5 2.2-.1 2.1-1.6 6.5-10.3 2.2-2.7 2.1-1.3 2.2 .4 2.2 1.9 4.3 5.4 3.6 3.5"/>
<path class="c1" d="M86.3 230.8l4.3-2.6 2.2-.9 2.2-.1 2.1 .7 2.2 1.3 6.5 4.9 2.1 1 2.2 .3 2.2-.6 2.1-1.3 8.7-8.8 2.1-1.8 2.2-1 2.2-.4 2.1 .4 2.2 .9 6.5 4.1 2.2 .9 2.1 .4 2.2-.2"/>
<path class="c2" d="M146.9 228l4.3-2.4 8.7-7.4 2.1-1.1 2.2-.3 2.2 .3 2.1 .9 8.7 6.2 2.1 1 2.2 .4"/>
<path class="c1" d="M181.5 225.6l2.2-.1 2.1-.8 8.7-5.5 2.2-.8 2.1-.3 2.2 .4 2.1 1 8.7 6.8 2.2 1.3 2.1 .7 2.2 0 2.2-.6 10.8-6.9 2.1-.8 2.2-.1 4.3 1.4 8.7 5.1 2.1 .5 2.2-.1 2.2-.7 2.1-1.2 8.7-6.8 2.2-1.1 2.1-.5 2.2 .1 2.1 .7 8.7 5.4 4.3 1.2 2.2-.2 2.2-.7 8.6-5.4 2.2-.9 2.1-.3 2.2 .2 2.2 .9 8.6 6.4 4.3 2.1 2.2 .2 2.2-.4 2.1-.9 6.5-4.1 4.4-1.7 2.1-.1 2.2 .4 8.6 4 2.2 .5 2.2-.1 2.1-.7 4.4-3.3 8.6-9.9 10.8-9 10.9-11.2 4.3-5.3 4.3-6.2 15.2-25.9 2.1-2.9 2.2-2 2.1-.8"/>
<path class="c0" d="M423.8 146.6l2.2-.1 4.3 1.1 6.5 3 6.5 4.9 6.5 7.3 4.3 6.9 4.4 8.6 8.6 20.1 6.5 16.3 4.3 9.2 4.4 6.7 2.1 2.2 2.2 1 2.2-.5 8.6-5.5 2.2-.8 2.1-.2 2.2 .4 2.2 1 10.8 9.6 2.1 1.2 2.2 .6 2.2-.1 2.1-.8 2.2-1.5 8.7-7.5 2.1-1.1 2.2-.5 2.2 .3 2.1 1 8.7 7.1 2.1 1.4 2.2 .6 2.2-.2 2.1-1 2.2-1.9 8.6-10.7 2.2-2.1 2.2-1.3 2.1-.5 2.2 .6 2.2 1.4 8.6 9.7 2.2 1.9 2.1 1.1 2.2 .3 2.2-.6 2.1-1.4 6.5-6.6 2.2-2 2.2-1.3 2.1-.4 2.2 .5 2.1 1.5 2.2 2.4 8.7 12.4 2.1 2.2 2.2 1.1 2.2 .1 2.1-1 2.2-1.9 6.5-8.5 4.3-4.5 2.2-1 2.1 0 2.2 .7 3.6 2.3"/>
<path class="c1" d="M86.3 231.1l4.3-.6 2.2 .2 6.5 2.3 4.3 .5 2.2-.6 2.1-1.2 6.5-4.9 2.2-1.2 2.2-.7 2.1-.1 2.2 .5 6.5 3.6 4.3 1.3 2.2-.2 2.1-.7 8.7-4.8 2.1-.4 2.2 .2 2.2 .8 8.6 5.3 2.2 .6 2.2 0 2.1-.6 8.7-4.6 2.1-.5 2.2 .1 2.2 .8 6.5 3.7 2.1 1 2.2 .4 2.2-.3 2.1-.8 6.5-4.3 4.3-1.9 2.2-.2 2.2 .5 6.5 3 4.3 1.1 2.1-.3 2.2-.8 6.5-4.2 4.3-1.8 2.2 0 2.2 .4 6.4 3.2 4.4 1.2 2.1 0 2.2-.7 8.7-4.3 2.1-.4 2.2 0 2.1 .6 8.7 4.2 2.2 .6 2.1 0 4.4-1.4 6.4-3.1 2.2-.5 4.3 .5 6.5 2.9 4.4 1.1 4.3-.7 6.5-3.3 4.3-1.6 4.3 .1 6.5 2.3 4.3 .9 4.4-.8 6.5-3.2 4.3-1.5 4.3 .1 8.7 2.6 4.3-.2 4.3-1.7 8.7-4.6 10.8-3.5 4.3-2.6 8.7-7.2 10.8-10.3 8.7-9.9 8.6-11.7 6.5-10.4 2.2-3.1 2.1-2.2"/>
<path class="c0" d="M454.1 153.1l2.2-1.4 4.3-1.4 4.4-.3 4.3 .7 6.5 2.3 6.5 3.3 4.3 3.1 4.3 4.1 10.8 12.6 6.5 9.1 4.4 8.7 8.6 23.9 4.3 10.8 2.2 3.6 2.2 1.8 2.1 .3 2.2-.6 10.8-5.6 4.3-.8 4.4 .8 8.6 4.8 4.4 1.9 4.3 .5 4.3-1.3 8.7-4.7 4.3-1 2.2 .1 4.3 1.9 8.6 6.5 2.2 1.2 2.2 .6 2.1 .1 2.2-.6 4.3-3 6.5-6.9 4.3-3.8 2.2-1 2.2-.4 2.1 .5 2.2 1.2 2.2 1.7 8.6 9.4 2.2 1.7 2.1 1.1 2.2 .4 2.2-.3 2.1-.9 5.8-3.9"/>
<path class="c1" d="M86.3 233.7l8.7-6.5 2.1-.7 2.2 0 2.1 .8 6.5 4.8 2.2 1.4 2.2 .9 2.1 .2 2.2-.6 6.5-4 2.1-1.2 2.2-.6 2.2 .1 2.1 .7 8.7 5.7 2.2 .5 2.1-.1 2.2-1 8.6-7.1 2.2-1.2 2.2-.4 2.1 .2 8.7 4.3 2.1 .5 2.2-.2 4.3-2.4 6.5-5.1 2.2-1 2.2-.2 2.1 .6 2.2 1.2 6.5 4.9 2.1 1 2.2 .4 2.2-.3 2.1-.9 6.5-3.8 2.2-.6 2.2 .1 2.1 .8 2.2 1.4 6.5 5.1 2.1 1 2.2 .3 2.2-.5 2.1-1.1 6.5-4.8 2.2-1.1 2.1-.5 2.2 .2 2.2 .7 6.5 3.2 2.1 .5 2.2-.1 2.2-.9 2.1-1.4 6.5-5.3 2.2-1.3 2.1-.6 2.2 0 2.2 .7 6.5 3.6 2.1 .8 2.2 .2 2.1-.3 2.2-.8 6.5-3.7 2.2-.7 2.1-.2 2.2 .5 2.2 1.1 6.4 4.5 2.2 1.1 2.2 .6 2.1 0 2.2-.7 6.5-3.3 4.3-1.2 4.3 .9 6.5 3.2 2.2 .7 2.2 .2 2.1-.5 2.2-1 6.5-4.4 4.3-2 2.2-.2 2.1 .3 6.5 2 4.4 .1 4.3-1.8 8.6-5.1 4.4-.8 8.6 .9 2.2-.5 4.3-2.5 10.8-11.1 8.7-10.4 4.3-6.8 6.5-11.5 4.3-6.1 2.2-1.9 2.2-1.1 2.1-.2"/>
<path class="c0" d="M460.6 162.3l4.4 1.1 10.8 5.2 4.3 3.1 4.3 4.8 15.2 25.5 4.3 9.1 6.5 15.3 2.2 3.5 2.1 1.7 2.2 0 2.1-1.2 6.5-5.9 2.2-1.1 2.2-.2 2.1 .9 2.2 1.8 6.5 7.3 2.2 1.4 2.1 .3 2.2-1 2.1-2.2 6.5-9.2 2.2-2.3 2.2-1 2.1 .3 2.2 1.5 6.5 7.9 2.1 1.9 2.2 .8 2.2-.5 2.1-1.7 6.5-7.8 2.2-1.6 2.2-.2 2.1 1.1 2.2 2.6 6.5 11 2.1 2.8 2.2 1.3 2.2-.2 2.1-1.8 8.7-12.7 2.1-1.5 2.2-.1 2.2 1.4 6.5 8 2.1 2 2.2 .6 2.2-.9 2.1-2.4 6.5-11.4 2.2-2.9 2.1-1.5 2.2 .2 2.2 2 7.9 13.2"/>
<path class="c1" d="M86.3 232.8l8.7 3.8 4.3 .8 4.3-1.1 8.7-4.8 2.1-.8 4.4-.3 4.3 1.4 6.5 3.4 4.3 1 4.3-.6 10.8-5.3 4.4-.4 4.3 1.5 8.7 4.5 4.3 .6 4.3-1.2 8.7-4.3 4.3-.6 4.3 1.1 8.7 4.3 4.3 .6 4.3-1.1 8.7-4.8 4.3-1 4.3 .7 8.7 4.2 4.3 .9 4.4-1 8.6-4.6 2.2-.7 4.3-.3 4.3 1.5 6.5 3.5 4.3 1.2 4.4-.6 10.8-5.2 4.3-.4 4.3 1.2 8.7 4.3 4.3 .5 4.4-1.3 6.4-3.7 4.4-1.7 4.3 .1 2.2 .7 8.6 4.1 4.3 .7 4.4-1.1 8.6-4.7 4.4-1 4.3 .9 8.6 4.4 2.2 .7 4.3 .2 2.2-.6 4.3-2.2 10.8-7.2 10.9-3.4 4.3-2.1 4.3-2.9 6.5-5.8 4.3-4.9 4.4-6.1 23.8-40.1 4.3-6 2.2-2.1"/>
<path class="c0" d="M465 149.6l4.3-2.9 4.3-1.6 4.3-.6 4.4 .1 4.3 1.4 2.2 1.4 8.6 7.6 8.7 9.7 8.6 11.8 8.7 15.3 8.6 18.4 4.4 8.2 6.5 10.5 2.1 1.8 2.2 .2 2.1-1.2 6.5-5.5 2.2-.9 2.2 0 2.1 .9 8.7 7.2 2.1 .7 2.2-.2 2.2-1.2 2.1-2.2 6.5-7.6 2.2-1.5 2.2-.3 2.1 .8 2.2 1.9 6.5 8.4 2.1 2.2 2.2 1.2 2.2 0 2.1-1.1 6.5-6.3 2.2-1.6 2.1-.6 2.2 .6 2.2 1.7 6.5 8.6 2.1 2.3 2.2 1.3 2.2-.1 2.1-1.5 2.2-2.6 6.5-10.1 2.1-2.3 2.2-1.1 2.2 .2 2.1 1.5 5.8 6"/>
<path class="c1" d="M86.3 231.7l6.5-2.6 2.2-.1 2.1 .5 4.3 3.1 8.7 9 2.2 1.5 2.1 .8 2.2 0 2.2-.6 10.8-7.4 2.1-.7 2.2 0 2.2 .6 2.1 1.3 8.7 7.3 2.1 1.2 2.2 .5 2.2-.2 2.1-1 2.2-1.5 8.7-8.2 2.1-1.2 2.2-.7 2.1 .1 2.2 .8 8.7 6.1 2.1 1.2 2.2 .5 2.2-.2 2.1-.8 2.2-1.5 8.6-8.1 2.2-1.3 2.2-.7 2.1 .1 2.2 .8 2.2 1.4 8.6 7.3 2.2 1.1 2.1 .4 2.2-.2 2.2-1 8.6-6.4 2.2-1.1 2.2-.6 2.1 .2 2.2 1 2.1 1.5 8.7 8.3 2.2 1.3 2.1 .8 2.2-.1 2.2-.7 10.8-8.1 2.1-.8 2.2-.3 2.2 .5 2.1 1.1 8.7 6.9 2.1 1.1 2.2 .6 2.2-.3 2.1-.9 2.2-1.6 8.7-8.4 2.1-1.4 2.2-.8 2.1 0 2.2 .6 10.8 7.1 2.2 .7 2.2-.1 2.1-.8 2.2-1.4 8.6-8 2.2-1.4 2.2-.7 2.1 0 2.2 .7 2.2 1.4 8.6 7.5 2.2 1.2 2.1 .5 2.2-.1 2.2-.9 8.6-6.3 2.2-1.2 2.2-.6 2.1 .1 2.2 .8 8.6 6.8 2.2 .7 2.2-.5 2.1-1.4 2.2-2.4 8.6-13 4.4-4.9 10.8-7 4.3-4.6 4.3-6.1 6.5-10.5 13-23.3 4.3-5.4 2.2-1.8 2.2-1 2.1-.4"/>
<path class="c0" d="M477.9 155.4l6.5 .9 4.4 1.3 4.3 1.8 6.5 4.1 6.5 6.3 10.8 14.6 6.5 10.4 4.3 8.3 10.8 23.2 2.2 4.1 2.2 2.6 2.1 .8 2.2-.3 10.8-4.6 4.3-.4 4.4 1.2 10.8 7 4.3 1.2 2.2-.3 2.1-.8 2.2-1.4 10.8-10.7 2.2-1.6 2.1-.9 2.2-.2 2.2 .6 2.1 1.2 2.2 1.8 8.6 9 2.2 1.6 2.2 1.1 2.1 .3 2.2-.3 2.2-1 10.8-8.4 2.1-.9 2.2-.2 2.2 .5 2.1 1.2 2.2 1.8 6.5 6.9 3.6 3.1"/>
<path class="c1" d="M86.3 227.7l4.3-.6 2.2 .6 2.2 1.4 2.1 2.1 6.5 7.6 2.2 1.6 2.1 .8 2.2-.1 2.2-1.1 8.6-7.9 2.2-1.1 2.1-.3 2.2 .7 2.2 1.6 8.6 9 2.2 1.1 2.2 .3 2.1-.8 2.2-1.6 6.5-7.4 2.1-2 2.2-1.2 2.2-.4 2.1 .7 2.2 1.5 6.5 6.4 2.1 1.7 2.2 .8 2.2 0 2.1-1 2.2-1.8 6.5-6.9 2.2-1.6 2.1-.8 2.2 .1 2.2 1.2"/>
<path class="c2" d="M196.7 230.3l2.1 1.9 6.5 7.2 2.2 1.6 2.1 .8"/>
<path class="c1" d="M209.6 241.8l2.2-.2 2.2-1.1 8.6-8.7 2.2-1.4 2.1-.7 2.2 .3 2.2 1.2 8.6 8.2 2.2 1.1 2.2 .2 2.1-.8 2.2-1.7 8.6-9.9 2.2-1.5 2.2-.6 2.1 .4 2.2 1.3 8.6 8.2 2.2 1 2.2 .1 2.1-.8 2.2-1.7 6.5-6.8 2.2-1.7 2.1-.9 2.2 0 2.1 1 2.2 1.8 6.5 7.2 2.2 1.8 2.1 .9 2.2-.1 2.2-1.1 2.1-1.8 6.5-7.2 2.2-1.7 2.1-.9 2.2 .1 2.2 .9 8.6 7.8 2.2 1.2 2.1 .3 2.2-.6 2.2-1.6 2.1-2.2 6.5-7.6 2.2-1.5 2.2-.7 2.1 .4 2.2 1.3 8.6 8.5 2.2 1.3 2.2 .4 2.1-.6 2.2-1.4 6.5-6.7 2.2-1.8 2.1-1 2.2-.1 2.1 .8 2.2 1.7 6.5 6.8 2.2 1.7 2.1 1 2.2-.1 2.2-1 2.1-1.7 6.5-7.2 2.2-1.8 2.1-1 2.2-.2 2.2 .7 8.6 6 2.2 .4 2.1-.6 2.2-1.5 2.2-2.3 8.6-11.1 6.5-7 4.3-6 6.5-12.2 8.7-19.2 2.2-3.9 2.1-2.9 2.2-1.9"/>
<path class="c0" d="M493.1 159.1l4.3-1.8 6.5-.9 6.5 .2 6.5 .8 4.3 1.1 4.3 1.7 4.4 2.3 4.3 3.4 4.3 4.6 2.2 2.9 4.3 7.1 4.3 8.8 10.9 25.8 6.5 13.6 2.1 2.7 2.2 .6 6.5-3.3 2.1-.5 2.2 .2 2.2 .8 6.5 4 2.1 .9 2.2 .1 2.1-.7 2.2-1.2 6.5-4.9 2.2-.8 2.1 0 2.2 .9 8.6 6.7 2.2 .8 2.2-.1 2.1-1 6.5-4.8 2.2-1 2.2-.2 2.1 .8 2.2 1.7 6.5 6.1 2.1 1.2 2.2 .1 2.2-.8 2.1-1.6 5.8-5.2"/>
<path class="c1" d="M86.3 233.1l6.5-3.1 2.2-.4 2.1 .2 4.3 1.9 6.5 3.9 2.2 .8 2.2 .2 2.1-.4 2.2-.9 8.6-5.9 2.2-1 2.2-.5 2.1 .2 2.2 .7 10.8 6.7 2.2 .6 2.1 0 4.4-1.7 8.6-5.5 2.2-.7 2.2 0 4.3 1.5 8.6 5.6 2.2 .7 2.2 .1 2.1-.4 2.2-1.1 8.7-6 2.1-.9 2.2-.4 2.1 .3 2.2 .7 8.7 5.4 2.1 .8 2.2 .4 2.2-.2 2.1-.8 8.7-5.8 4.3-1.5 2.2 .1 2.1 .6 10.8 6.6 2.2 .7 2.2 0 4.3-1.7 8.7-5.7 2.1-.8 2.2-.2 4.3 1.3 8.7 5.3 2.1 .8 2.2 .1 2.2-.4 2.1-.9 8.7-6 2.1-1 2.2-.5 2.2 .2 2.1 .7 8.7 5.4 4.3 1.4 2.2-.1 2.1-.7 10.9-6.7 2.1-.6 2.2 0 4.3 1.6 8.7 5.6 2.1 .6 2.2 .1 4.3-1.5 8.7-5.9 2.1-.8 2.2-.4 2.2 .3 2.1 .8 6.5 4.1 4.4 2 2.1 .3 2.2-.3 4.3-2.2 6.5-4.6 4.3-1.5 2.2 0 2.2 .7 8.6 5.4 4.3 1.5 2.2 0 2.2-.6 8.6-5.3 4.3-1.8 2.2-.1 2.2 .5 6.5 3.1 2.1 .7 2.2 .2 2.2-.4 4.3-2.4 10.8-9.7 13-7.7 8.6-7.6 6.5-6.8 6.5-8.3 8.7-15.6 2.1-3.2 2.2-2 2.2-.8"/>
<path class="c0" d="M529.9 162.5l2.1 .1 4.4 2 4.3 4.1 4.3 6.2 4.3 8.3 2.2 5 13 35.6 2.2 3.8 2.1 1.8 2.2 .2 2.1-.7 8.7-5 4.3-1.5 4.4 .2 4.3 1.7 8.6 4.4 4.4 .6 4.3-1.1 8.6-4.5 4.4-.9 2.1 .3 2.2 .8 4.3 2.9 8.7 7.2 2.1 1 2.2 .5 2.2-.1 2.1-.6 12.3-7.9"/>
<path class="c1" d="M86.3 234.1l6.5-5.4 2.2-1.1 2.1-.2 2.2 .5 2.1 1.2 6.5 4.5 2.2 .8 2.2 0 2.1-.7 2.2-1.5 8.6-7.8 2.2-1 2.2-.2 2.1 .7 2.2 1.3 6.5 5.3 2.2 1.3 2.1 .5 2.2-.3 2.1-1 8.7-7.2 2.2-1.1 2.1-.3 2.2 .6 2.2 1.2 8.6 7.1 2.2 .8 2.1 0 2.2-.8 2.2-1.4 6.5-5.7 2.1-1.4 2.2-.6 2.2 .2 2.1 .9 8.7 6.3 2.1 .8 2.2 .1 2.2-.7 2.1-1.3 6.5-5.6 2.2-1.4 2.1-.8 2.2-.1 2.2 .6 8.6 5.9 2.2 1 2.2 .3 2.1-.4 2.2-1 8.6-6.4 2.2-.9 2.2-.2 2.1 .4 2.2 1 6.5 4.5 2.1 1 2.2 .5 2.2-.1 2.1-.8 8.7-5.9 2.2-1 2.1-.4 2.2 .2 2.1 .8 8.7 4.9 2.2 .6 2.1 0 4.4-1.7 6.4-4.4 4.4-1.7 2.1 0 2.2 .5 8.7 4.4 4.3 .9 4.3-1.3 6.5-3.9 4.3-1.8 2.2-.1 2.2 .3 8.6 4.1 4.3 1 4.4-.8 8.6-4.5 4.4-.9 4.3 .7 8.6 3.6 4.4 .3 4.3-1.3 6.5-3.3 4.3-1.2 4.3 .4 8.7 3 4.3 .5 4.3-1.1 8.7-3.6 4.3-.5 2.2 .2 4.3 1.3 8.7 4.1 2.1 .6 2.2 0 2.2-.5 8.6-3.8 8.7-3.2 2.1-1.2 4.4-3.3 8.6-8.9 10.8-13.2 4.4-6.2 8.6-14.9 2.2-2.7 2.2-1.9 2.1-.9"/>
<path class="c0" d="M545 158.3l4.3 .2 4.4 1.6 2.1 1.3 2.2 1.7 4.3 4.6 6.5 8.8 2.2 3.9 4.3 9.9 15.2 40.3 2.1 3.5 2.2 1 2.1-.7 6.5-4.1 2.2-.8 2.2-.3 2.1 .5 2.2 1.1 8.6 6.8 2.2 1 2.2 .2 2.1-.5 2.2-1.3 6.5-5.8 2.2-1.5 2.1-.7 2.2 .1 2.1 1.1 2.2 1.8 6.5 7 2.2 1.5 2.1 .7 2.2-.1 3.6-1.6"/>
<path class="c1" d="M86.3 228.7l4.3-1.7 4.4-.6 10.8 3.3 4.3-.1 4.3-1.8 8.7-4.6 4.3-.7 4.3 .9 6.5 2.8 4.4 1 4.3-.3 10.8-5 4.3-1 4.4 .4 8.6 2.7 4.3 .4 4.4-1 10.8-5.2 4.3-.7 4.3 .6 6.5 2 4.4 .7 4.3-.6 10.8-3.9 4.3-.4 4.4 .8 6.5 2.3 4.3 1.1 4.3 0 10.8-3 4.4-.5 4.3 .5 8.6 2.4 4.4 .4 4.3-.6 8.6-2.8 4.4-1 4.3-.1 8.7 1.4 4.3 .3 4.3-.6 13-3.8 4.3-.2 10.8 1.4 4.4 .2 4.3-.6 8.7-1.9 4.3-.5 4.3 .2 13 1.7 4.3-.2 13-1.9 17.3 1 4.3-.3 13-1.9 8.7-.2 4.3 .7 2.2 1 6.5 4.7 2.1 .9 4.3 .2 6.5-2.3 6.5-4 6.5-5.2 13-12.5 8.7-7.1 6.4-4.4 15.2-8.5 4.3-2.9 2.2-2.3 2.2-3.1 6.4-11.9 2.2-2.7"/>
<path class="c0" d="M551.5 150.1l2.2-1.9 2.1-1.1 8.7-2.8 2.2-1 15.1-11.1 2.2-1.1 4.3-1 8.6 .1 13 2.7 28.2 3.7 15.1 4.2 10.1 1.9"/>
<path class="c1" d="M86.3 238.5l4.3 1.3 2.2 0 2.2-.9 2.1-1.5 6.5-6.1 2.2-1.3 2.1-.4 2.2 .3 2.2 1.1 6.5 4.3 2.1 .7 2.2-.2 2.1-1.2 2.2-1.9 6.5-7.4 2.2-1.8 2.1-.9 2.2 0 2.2 .8 6.4 4.7 2.2 1.1"/>
<path class="c2" d="M151.2 229.2l2.2 .4 2.1-.5 2.2-1.2 6.5-5.3 2.2-1.1 2.1-.3 2.2 .6"/>
<path class="c1" d="M170.7 221.8l2.1 1.5 6.5 7 2.2 1.9 2.2 1.2 2.1 .2 2.2-.6 6.5-4.7 2.2-1.4 2.1-.6 2.2 .2 2.1 .9 6.5 5.2 2.2 1.4 2.2 .5 2.1-.3 2.2-1.3 8.6-9 2.2-1.5 2.2-.6 2.1 .2 2.2 1 6.5 4.1 2.2 .7 2.1-.1 2.2-.9 2.1-1.5 6.5-5.5 2.2-1 2.2-.2 2.1 .8 2.2 1.5 6.5 6.2 2.1 1.4 2.2 .8 2.2-.1 2.1-.8 6.5-4.2 2.2-.8 2.2-.2 2.1 .5 2.2 1.2 6.5 5.1 2.1 1.1 2.2 .4 2.2-.5 2.1-1.2 6.5-6 2.2-1.6 2.1-1 2.2-.3 2.2 .4 6.5 3.4 2.1 .9 2.2 .2 2.2-.4 2.1-1.2 6.5-5.3 2.2-1.4 2.1-.8 2.2 0 2.2 .8 8.6 6.4 2.2 1 2.2 .3 2.1-.3 8.7-4.4 2.1-.5 2.2 .1 4.3 2.1 6.5 4.8 2.2 .8 2.1 .2 2.2-.5 2.2-1.3 8.6-7.7 4.4-2 10.8-.6 4.3-1.5 8.7-4.4 4.3-1.3 15.1-.8 23.8-4.9 15.2-4.3 10.8-4.6 6.5-3.9 10.8-8.5 13-8.1 8.6-6.5 8.7-8 15.1-17.2"/>
<path class="c0" d="M573.1 141.9l2.2-1.9 4.3-2.5 4.4-1.5 4.3-.4 2.2 .2 4.3 1.4 4.3 2.1 8.7 5.3 6.5 2.6 6.4 1 13 0 6.5-1.4 6.5-3 4.3-3.2 8.7-7.5 3.6-2.4"/>
<path class="c1" d="M86.3 230.5l4.3-1.1 4.4 0 10.8 4.1 4.3 .5 4.3-1.1 10.8-5.9 4.4-.9 4.3 .9 10.8 5.3 4.3 .5 4.4-1.1 10.8-5.8 4.3-.6 4.3 1 8.7 4.4 4.3 1 4.4-.7 10.8-5.9 2.1-.9 4.4-.4"/>
<path class="c2" d="M207.5 223.8l4.3 1.3 8.7 4.4 4.3 .9 4.3-.8 8.7-4.5"/>
<path class="c1" d="M237.8 225.1l4.3-1.6 4.3-.1 4.3 1.5 8.7 3.9 4.3 .4 4.4-1.1 10.8-5.6 4.3-.7 4.3 .7 8.7 3.6 4.3 .9 4.3-.6 10.9-5 4.3-1.1 4.3 .4 10.8 4.3 4.4 .7 4.3-.6 10.8-4.5 4.3-.8 4.4 .5 8.6 3 4.3 1 2.2 0 4.3-.9 10.9-4.5 4.3-.7 4.3 .5 10.8 3.3 4.4 .1 4.3-1.1 8.6-3.7 4.4-1.2 4.3-.2 10.8 1.7 4.3 0 4.4-.8 12.9-4.2 4.4-.6 10.8-.5 4.3-.8 13-4.6 4.3-2.4 2.2-1.7 4.3-4.7 17.3-21.3 21.7-22.9 4.3-3.4 2.2-1"/>
<path class="c0" d="M560.2 148.7l4.3-1 6.5-.6 13 0 8.6 .4 23.8 3.6 28.1 3.1 8.7 1.8 10.1 3"/>
<path class="c1" d="M86.3 235.2l8.7-6.8 2.1-1.1 2.2-.5 2.1 .2 8.7 3.6 2.2 .3 2.1-.2 4.4-2 6.4-4 4.4-1.1 4.3 .8 6.5 2.7 4.3 .5 4.3-1.5 6.5-3.7 4.4-1.3 4.3 .5 6.5 2.4 4.3 .6 4.3-1.2 6.5-3.5 4.4-1.4 4.3 .4 6.5 2.6 4.3 .9 4.3-.7 6.5-2.9 4.4-1.2 4.3 .5 8.6 3.7 4.4 .6 2.1-.3 8.7-3 2.1-.4"/>
<path class="c2" d="M250.7 218.7l4.4 .4 8.6 3.5 4.4 .7 4.3-.8 6.5-2.6 4.3-.8"/>
<path class="c1" d="M283.2 219.1l4.3 .6 6.5 2.2 4.3 .6 4.4-1 6.5-2.8 4.3-1.2 4.3 .2 6.5 1.8 4.3 .6 4.4-.8 6.5-2.7 4.3-1.2 4.3 .1 8.7 2.5 4.3 .2 4.3-.9 6.5-2.2 4.3-.4 4.4 .9 6.5 2.2 4.3 .6 4.3-.6 6.5-1.9 4.3-.5 4.4 .7 6.5 2 4.3 .7 4.3-.6 6.5-2 4.3-.6 4.4 .7 8.6 3.6 4.3 .4 4.4-1.2 8.6-3.6 4.3-.7 6.5-.3 4.4-.9 12.9-5.5 17.4-4.4 8.6-1.1 2.2 .3 4.3 1.8 2.2 .5 2.1-.6 2.2-1.8 2.2-2.6 23.8-39.3 8.6-12.4 4.3-5.1 2.2-2 4.3-2.6"/>
<path class="c0" d="M579.6 138.8l6.5-1.8 4.4 .2 10.8 4.2 15.1 3.6 10.8 4.3 15.2 4.9 6.5 2.9 4.3 2.7 4.3 3.7 5.8 5.9"/>
<path class="c1" d="M86.3 238.2l4.3 1.2 2.2-.3 2.2-1.5 8.6-10.2 2.2-1.3 2.1-.1 2.2 1.1 6.5 6.3 2.2 1.5 2.1 .4 2.2-.8 2.1-1.8 6.5-7.6 2.2-1.6 2.2-.4 2.1 .7 8.7 8.4 2.1 1 2.2-.2 2.2-1.3 6.5-7.2 2.1-1.8 2.2-.7 2.2 .4 2.1 1.5 6.5 7.2 2.2 1.5 2.1 .5 2.2-.8 2.2-1.7 6.5-7 2.1-1.1 2.2 0 2.2 1.1 6.4 7 2.2 1.9 2.2 .8 2.1-.3 2.2-1.4 6.5-7.2 2.2-1.6 2.1-.6 2.2 .6 2.1 1.7 6.5 6.7"/>
<path class="c2" d="M233.4 231.2l2.2 1.1 2.2 .1 2.1-1.1 6.5-7 2.2-2 2.1-1.1 2.2 .1 2.2 1.1 6.5 6.4 2.1 1.5 2.2 .5"/>
<path class="c1" d="M265.9 230.8l2.2-.7 2.1-1.6 6.5-6.9 2.2-1.4 2.1-.3 2.2 .8 8.7 7.9 2.1 1 2.2-.1 2.1-1.2 6.5-6.3 2.2-1.6 2.2-.7 2.1 .4 2.2 1.4 6.5 6.3 2.1 1.4 2.2 .3 2.2-.7 2.1-1.5 6.5-6.1 2.2-1.1 2.2 0 2.1 .9 8.7 7.4 2.1 .6 2.2-.3 2.2-1.3 6.5-6.2 2.1-1.4 2.2-.5 2.2 .4 2.1 1.3 6.5 5.4 2.2 .7 2.1-.5 2.2-1.5 6.5-7.1 2.2-1.8 2.1-1.2 2.2-.3 2.1 .4 6.5 2.8 2.2 .5 2.2 0 4.3-1.5 6.5-3.7 4.3-1 2.2 .3 6.5 2.5 4.3 1 4.3-.7 6.5-2.8 4.3-1.1 4.4 .5 6.5 2 4.3 .2 2.1-.4 10.9-3.9 4.3-.3 6.5 .2 4.3-.5 4.3-1.5 2.2-1.3 2.2-1.6 4.3-4.4 8.6-10.9 17.4-25 4.3-4.5 2.2-1.3"/>
<path class="c0" d="M542.9 158.7l4.3-1.5 4.3-.7 6.5 .4 4.3 1.2 4.4 1.9 12.9 8.5 6.5 2.3 4.4 .8 4.3 .1 10.8-1.9 2.2 .1 4.3 1.3 6.5 3.8 6.5 4.7 17.3 14 13 11.8 7.9 6.1"/>
<path class="c1" d="M86.3 228.6l4.3 2.3 6.5 5.1 2.2 1.1 2.1 .3 2.2-.4 2.2-1.1 8.6-6.8 2.2-.8 2.2 0 2.1 .7 2.2 1.3 6.5 5.1 2.1 1.1 2.2 .3 2.2-.4 2.1-1.2 6.5-5.9 4.3-2.9 2.2-.5 2.2 .4 2.1 1.1 6.5 5 2.2 1.2 2.2 .7 2.1-.1 2.2-.8 8.6-6.6 2.2-1 2.2-.3 2.1 .6 2.2 1.2 8.7 7.4"/>
<path class="c2" d="M196.7 234.7l2.1 1 2.2 .3 2.1-.6 2.2-1.3 6.5-5.3 2.2-1.3 2.1-.6 2.2 .1 2.2 .9 4.3 3.1"/>
<path class="c1" d="M224.8 231l4.3 3.1 2.2 .8 2.1 .1 2.2-.7 2.2-1.4 8.6-7.5 2.2-.9 2.1-.1 2.2 .6 2.2 1.4 6.5 5.3 2.1 1.2 2.2 .5 2.2-.2 2.1-.9 8.7-6.3 2.1-.8 2.2 0 2.2 .7 2.1 1.4 6.5 5.8 2.2 1.4 2.1 .6 2.2-.1 2.2-.8 2.1-1.6 6.5-5.6 2.2-1.2 2.2-.5 2.1 .2 2.2 1 8.6 6 2.2 .6 2.2-.1 2.1-.9 2.2-1.5 6.5-5.7 2.1-1.3 2.2-.6 2.2 .2 2.1 1 8.7 7.2 2.2 1.1 2.1 .4 2.2-.4 2.2-1 6.4-5 2.2-1.2 2.2-.6 2.1 .1 2.2 .9 8.7 6.9 2.1 1.1 2.2 .3 2.1-.4 2.2-1.3 8.7-7.5 2.1-1.1 2.2-.3 2.2 .4 2.1 1.1 6.5 4.6 2.2 .7 2.1-.5 2.2-1.5 2.2-2.2 6.5-7.7 2.1-1.9 2.2-1.3 2.1-.8 4.4-.2 6.5 .7 4.3-.4 15.1-5.7 4.4-.9 19.4-2.3 10.9-.6 4.3 .5 6.5 1.6 2.1-.8 2.2-3 6.5-17.2 2.2-4.1 2.1-3 6.5-7 8.7-11 2.1-1.8 2.2-.8"/>
<path class="c0" d="M558 158.3l2.2-.1 4.3 1 6.5 3.2 4.3 3.4 8.7 8 10.8 11.2 8.6 10.9 8.7 12.9 4.3 8.6 4.3 10.8 2.2 3.1 2.2 .7 2.1-.9 4.4-2.6 2.1-.8 2.2-.3 2.2 .3 2.1 1 6.5 3.9 2.2 .8 2.1 0 2.2-.6 2.2-1.3 7.9-6.1"/>
<path class="c1" d="M86.3 233.7l6.5-5.3 2.2-1.3 2.1-.8 2.2-.2 2.1 .4 6.5 2.7 4.4 1.1 4.3-.7 4.3-2.5 8.7-6 4.3-1.2 4.3 .6 8.7 3.8 4.3 .9 4.3-.7 10.9-5.4 4.3-1 4.3 .7 10.8 5 4.4 .5 4.3-1 8.6-4.2 4.4-1.1 4.3 .4 10.8 4.5 4.3 .6 4.4-.9 8.6-4.1 4.4-1.3 4.3 .1 10.8 3.8 4.3 .6 4.4-.7 10.8-4.6 4.3-.7 4.3 .6 8.7 3.1 4.3 .8 4.3-.4 10.9-4 4.3-.7 4.3 .5 10.8 3.5 4.4 .4 4.3-.8 8.6-3.2 4.4-.8 4.3 .2 10.8 2.9 4.3 .3 4.4-.7 8.6-3 4.4-.8 4.3 .5 10.8 4.9 4.3 .9 4.4-.5 10.8-3.9 4.3-.6 4.3 .5 8.7 2.7 4.3 .6 4.3-.5 10.9-4 4.3-.9 4.3 0 10.8 1.3 4.4-.3 15.1-4.5 13-2.2 6.5-2.7 4.3-2.6 4.3-4 2.2-2.9 4.3-7 13-23.2 2.2-2.6 2.1-1.4"/>
<path class="c0" d="M555.8 161.2l2.2-.4 4.3 .5 4.4 1.2 4.3 1.8 19.5 11.8 6.4 5.4 4.4 5.3 4.3 7.7 6.5 16.2 6.5 19.9 2.1 3.9 2.2 1 2.2-.7 4.3-2.4 2.2-.6 2.1 .2 2.2 1 6.5 4.8 2.1 1.1 2.2 .3 2.2-.6 2.1-1.5 6.5-5.9 2.2-1.2 3.6-.6"/>
<path class="c1" d="M86.3 231l13 1.8 4.3-.7 4.3-2.1 8.7-6.1 4.3-1.8 2.2-.3 4.3 .7 8.7 3.5 4.3 1 4.3-.4 13-5.5 4.3-.6 4.4 .8 8.6 3.6 4.3 1.2 2.2 .1 4.3-.8 10.9-4.7 4.3-.9 4.3 .5 8.7 3.3"/>
<path class="c2" d="M214 223.6l4.3 1.1 4.3-.1 4.3-1.4 8.7-3.7 4.3-.8"/>
<path class="c1" d="M239.9 218.7l4.4 .5 10.8 4 4.3 .7 4.3-.4 10.8-4.1 4.4-.8 4.3 .4 10.8 3.7 4.3 .8 4.4-.5 10.8-4.1 4.3-.9 4.3 .1 10.9 3.3 4.3 .8 4.3-.4 10.8-3.8 4.4-.9 2.1-.1 4.4 .7 8.6 2.9 4.3 .8 4.4-.2 13-3.9 4.3-.5 4.3 .6 10.8 3.2 4.4 .3 4.3-.7 10.8-3.5 4.3-.6 4.4 .3 10.8 2.9 4.3 .4 4.3-.6 10.8-3.2 4.4-.5 4.3 .5 8.7 2.7 4.3 .6 4.3-.9 10.8-3.5 6.5-.9 4.3 .8 10.9 4.6 2.1 .5 4.4-.3 4.3-1.5 13-6.1 4.3-1.3 15.1-2.9 8.7-2.8 4.3-1.8 4.4-3.1 2.1-2.4 13-17 6.5-6.4 4.3-2.8 4.3-2.2 17.4-6.5 4.3-2.1 15.1-9.2 5.8-2.8"/>
<path class="c1" d="M86.3 236.6l4.3 2 2.2 .6 2.2-.1 2.1-.9 2.2-1.5 8.6-8.2 2.2-1.2 2.2-.6 2.1 .3 2.2 1.1 8.6 7.7 2.2 1.4 2.2 .8 2.1 0 2.2-.7 2.2-1.5 8.6-8 2.2-1.2 2.1-.5 2.2 .3 2.2 1.1 8.6 7.6 2.2 1.4 2.2 .7 2.1 0 2.2-.8 2.1-1.6 8.7-8.1 2.2-1.2 2.1-.4 2.2 .3 2.2 1 8.6 7.4 2.2 1.3 2.1 .6 2.2-.1 2.2-.9 2.1-1.6 8.7-8.1 2.2-1.2 2.1-.4 2.2 .4 2.1 1.1 8.7 7.7 2.2 1.3 2.1 .7 2.2-.1 2.2-.8 2.1-1.6 8.7-7.9 2.1-1 2.2-.4 2.2 .5 2.1 1.2 8.7 7.8 2.1 1.3 2.2 .7 2.2-.1 2.1-1 2.2-1.5 8.7-8 2.1-1.1 2.2-.4 2.1 .5 2.2 1.1 8.7 7.5 2.1 1.2 2.2 .5 2.2-.3 2.1-1 2.2-1.6 6.5-6.3 2.1-1.7 2.2-1.1 2.2-.3 2.1 .4 4.4 2.7 6.4 5.3 2.2 1.1 2.2 .4 2.1-.3 2.2-1 10.8-9 2.2-.9 2.2-.3 2.1 .5 2.2 1.1 8.6 6.7 2.2 1 2.2 .5 2.1-.3 2.2-.9 10.8-8.1 2.2-.8 2.1-.2 2.2 .6 2.2 1.1 8.6 6.3 2.2 1 2.1 .4 2.2-.2 2.2-.9 10.8-7.6 2.2-.8 2.1-.1 2.2 .5 2.1 1 8.7 5.7 2.2 .9 2.1 .2 2.2-.3 2.2-.9 10.8-7.4 2.1-.7 2.2-.1 4.3 1.3 6.5 4 4.3 1.8 2.2 .2 2.2-.4 4.3-2.1 6.5-4.3 2.2-1.1 2.1-.6 2.2 0 4.3 1.4 8.7 5.3 4.3 1.1 2.2-.3 4.3-2.1 6.5-4.7 4.3-2 4.3-.4 6.5 .5 4.4-.9 2.1-1 4.3-3.2 6.5-6 23.8-24.4 8.7-6.9 6.5-2.9 13-3.3 8.6-3.2 8.7-4 14.4-8.1"/>
</g>
<g clip-path="url(#cb)">
<path class="c1" d="M86.3 479.2l2.2-1.7 6.5-7.1 2.1-1.8 2.2-1 2.1-.3 2.2 .4 8.7 4.4 2.1 .5 2.2-.1 4.3-1.8 6.5-4.6 2.2-1 4.3-.7 6.5 1 2.2 0 2.1-.6 2.2-1.2 4.3-4.4 17.3-22.1 8.7-9.7 4.3-3.9 4.3-3.1 8.7-4.6"/>
<path class="c0" d="M194.5 415.8l8.6-2.5 4.4-1.7 10.8-6.1 6.5-2.7 4.3-.6 4.3 .3 8.7 2.2 8.6 4 8.7 5.9 8.7 7.6 6.4 6.9 21.7 27.5 2.1 3.7 6.5 13.8 2.2 3.1 2.2 1.2 2.1-.6 6.5-5.3 2.2-1.4 2.1-.7 2.2 .2 2.2 1.2 6.5 6.3 2.1 1.7 2.2 .8 2.2-.1 2.1-1.1 6.5-6.4 2.2-1.8 2.1-.8 2.2 .2 2.2 1.3 6.5 6.8 2.1 1.8 2.2 .7 2.2-.3 2.1-1.1 2.2-1.5 .7-1.2"/>
<path class="c1" d="M86.3 474.4l6.5-4 2.2-.6 2.1 .1 4.3 2 6.5 4.6 2.2 .9 2.2 .4 2.1-.3 2.2-.8 8.6-5.4 2.2-.7 2.2 0 2.1 .7 2.2 1.2 8.7 7.1 2.1 1 2.2 .3 2.1-.4 2.2-1.1 2.2-1.9 6.5-7 4.3-2.9 2.2-.6 2.1 0 6.5 1.1 2.2-.2 2.1-.6 2.2-1.3 13-12.4 4.3-2.7 6.5-3.2 4.3-3 21.7-17.8 23.8-17.5 6.5-5.5 8.6-8.1"/>
<path class="c0" d="M270.2 395.8l6.5-5.6 8.7-5.2 4.3-1.7 4.3-1.1 6.5-.2 19.5 5.4 6.5 1.2 13 1.3 8.6 2.3 6.5 2.7 6.5 3.6 13 8.9 .7 .9"/>
<path class="c1" d="M86.3 472.3l4.3-1 2.2 0 8.6 3.4 2.2 .1 2.2-.5 2.1-1.4 2.2-2.1 6.5-7.8 4.3-4.1 2.2-1.1 2.1-.5 8.7 .2 2.2-.3 4.3-1.7 10.8-6.5 8.7-3.5 4.3-2.2 19.5-13.8 17.3-9.2 6.5-4.5 10.8-9.2 4.3-3 6.5-3.1 13-3.3"/>
<path class="c0" d="M242.1 397.2l19.5-6.5 6.5-.7 4.3 .6 8.6 3.2 4.4 1.1 4.3 .4 10.8-1 4.3 .1 10.9 1.1 8.6 2.2 6.5 2.7 6.5 3.6 10.8 8.1 10.8 10.7 13 15.6 2.2 2.1 .7 1.4"/>
<path class="c1" d="M86.3 469.9l2.2 1.2 2.1 1.8 6.5 6.6 2.2 1.4 2.1 .3 2.2-.6 2.2-1.7 2.1-2.6 6.5-9.7 4.4-4.8 2.1-1.2 2.2-.5 6.5 0 2.1-.5 2.2-1 4.3-3.8 8.7-9.3 8.6-7.7 6.5-6.4 19.5-23.5 6.5-6.9 17.3-15.6 13-13.6 4.3-2.7"/>
<path class="c0" d="M222.6 369.1l4.3-1.2 4.4-.4 4.3 .3 10.8 1.6 4.3 .1 4.4-.6 6.5-1.7 4.3-.3 2.2 .3 4.3 1.4 6.5 3.9 6.5 5.9 6.5 7.9 6.4 9.9 4.4 7.7 8.6 18.1 4.4 10.4 8.6 23 6.5 15 2.2 3.8 2.1 1.7 2.2-.7 2.2-2.4 6.4-9.5 2.2-2.5 2.2-1.6 2.1-.6 2.2 .5 2.2 1.5 2.1 2.4 6.5 9.3 4.4 4.7 2.1 1.2 2.9 .7"/>
<path class="c1" d="M86.3 483.3l4.3-1.8 8.7-5.1 4.3-1.1 4.3 .6 10.9 4.1 4.3 0 4.3-1.7 10.8-7 4.4-1.1 4.3 .8 10.8 5.7 4.3 1 2.2-.2 4.3-1.3 8.7-4.2 4.3-1.7 4.3-.5 8.7 1 2.2-.4 2.1-.8 2.2-1.4 4.3-4.2 8.7-10.3 10.8-11.4 17.3-19.7 17.3-18 15.1-16.8 4.4-3.9 4.3-3.2 4.3-2 2.2-.3"/>
<path class="c0" d="M289.7 378.4l4.3 .8 13 4.1 21.6 2.7 10.9 3.5 10.8 2.9 4.3 2.1 6.5 4.5 13 12.8 .7 1.2"/>
<path class="c1" d="M86.3 473.1l6.5-.8 4.3 .9 8.7 2.8 4.3 0 4.3-1.4 10.8-5.9 4.4-.9 4.3 .7 10.8 4.5 4.3 0 4.4-2 2.1-1.8 10.9-11.1 12.9-10.3 8.7-9 10.8-12.8 19.5-26.2 8.6-10.2 4.4-4.2 4.3-3.6 4.3-2.3 2.2-.5"/>
<path class="c0" d="M242.1 379l17.3 .1 15.1-2.2 8.7-.3 6.5 1 6.5 2.9 6.5 5.2 6.5 7.2 6.5 9.5 4.3 7.4 6.5 13 4.3 9.9 6.5 16.9 6.5 19.8 2.1 4.9 2.2 2.6 2.2 .1 2.1-1.7 8.7-13 2.2-2.5 2.1-1.5 2.2-.3 2.2 .7 4.3 3.3 .7 1.3"/>
<path class="c1" d="M86.3 477.3l6.5-13.2 4.3-6.4 13-13 13-17.8 6.5-8.1 6.5-6.5 8.6-7.1"/>
<path class="c0" d="M144.7 405.2l6.5-5 4.3-2.8 2.2-.9 4.3-.6 4.4 .8 6.4 2.6 6.5 4.2 4.4 3.6 8.6 9.5 4.4 5.8 6.4 10 8.7 16 10.8 27.5 2.2 3.2 2.1 1.2 2.2-.3 8.7-5.2 4.3-1.4 2.2 .2 2.1 .7 8.7 5.2 2.1 .8 2.2 .2 2.2-.4 2.1-.8 6.5-4 2.2-.9 2.1-.4 2.2 .3 2.2 .9 8.6 7.2 2.2 1.3 2.2 .6 2.1 0 2.2-.8 8.6-6.4 2.2-1 2.2-.4 2.1 .4 2.2 1.1 6.5 5 2.1 1.2 2.2 .6 2.2-.3 2.1-1 2.2-1.8 6.5-6.8 2.2-1.7 2.1-1 2.2-.1 2.1 .8 8.7 6.8 2.2 1.1 2.1 .3 2.2-.5 2.2-1.3 6.5-6.1 5-3.4"/>
<path class="c1" d="M86.3 480.5l6.5-3.8 2.2-1 2.1-.4 2.2 .2 2.1 .7 6.5 3.5 2.2 .7 2.2 0 2.1-.6 2.2-1.2 8.6-7.8 2.2-1.4 4.3-1 6.5-.3 2.2-.8 4.3-3.3 8.7-8.4 8.6-5.4 4.4-3.5 6.4-7.5 13-17.3"/>
<path class="c0" d="M185.8 421.9l6.5-7.5 4.4-3.9 6.4-4.3 10.9-6 8.6-3.5 10.8-6.1 4.4-1.8 2.1-.4 4.4 .1 6.4 1.3 6.5 2.3 4.4 2.1 8.6 5.4 8.7 7.2 8.6 8.9 6.5 7.8 8.7 11.9 8.6 13.8 10.8 19.4 4.4 6 2.1 1.9 2.2 .3 2.2-1.2 4.3-4.3 2.2-1.6 2.1-.6 2.2 .6 2.1 1.6 6.5 7.1 2.2 1.3 2.2 .1 2.1-1.1 6.5-6.9 2.2-1.7 2.2-.8 2.1 .2 2.2 .7 .7 .7"/>
<path class="c1" d="M86.3 479.4l4.3-3.1 8.7-8.9 4.3-2.9 4.3-.9 6.5-.1 2.2-.3 4.3-1.9 13-10.5 15.1-9 6.5-4.3 6.5-5.6 15.2-14.7 4.3-3.4 8.7-5.5"/>
<path class="c0" d="M190.2 408.3l8.6-6.2 15.2-15.1 4.3-3.2 4.3-1.1 6.5 .3 6.5 1 6.5 1.9 6.5 2.8 4.3 2.3 8.7 5.7 8.6 7.3 8.7 8.8 8.6 10.3 6.5 8.7 19.5 29.1 6.5 12.2 2.1 3.2 2.2 1.5 2.2-.1 2.1-1.2 8.7-7.4 2.2-1.3 2.1-.7 2.2 0 2.1 .6 2.2 1.2 8.7 6.6 2.1 1.1 2.2 .5 2.2 0 2.1-.7 8.7-5.8 .7-.8"/>
<path class="c1" d="M86.3 472.8l6.5-2.8 4.3 .1 6.5 1.3 2.2-.1 2.1-.5 2.2-1.2 4.3-3.6 8.7-9.3 4.3-3.5 13-6.3 17.3-12.3 19.5-11.5 6.5-4.5 6.5-5.5 15.1-14.8 4.3-3.3 2.2-1.2 4.3-.9 6.5 .7"/>
<path class="c0" d="M222.6 393.6l10.8 2.2 13 .4 4.3 .8 6.5 2.9 4.4 3 4.3 3.8 4.3 4.8 4.3 5.5 8.7 13.7 10.8 20.2 4.3 10.1 4.4 11.9 2.1 4.5 2.2 2.4 2.2 .4 2.1-.9 6.5-4.5 2.2-.9 2.1-.2 2.2 .5 2.2 1.1 8.6 7 2.2 1 2.2 .3 2.1-.5 2.2-1.2 6.5-4.5 2.1-.8 2.2-.1 2.2 .8 2.1 1.6 6.5 6.6 2.2 1.6 2.2 .9 2.1 0 2.2-.4 .7-.5"/>
<path class="c1" d="M86.3 475.5l2.2-1.6 6.5-6.2 4.3-2.7 4.3-1 6.5 0 2.2-.4 2.1-.8 4.4-2.6 17.3-15 15.1-15.2 4.3-3.5 13-9.3 6.5-6.2"/>
<path class="c0" d="M175 411l15.2-18.1 4.3-3.3 2.2-.8 4.3 0 8.6 1.7 10.9 .2 8.6 1.8 6.5 2.4 4.3 2.2 8.7 5.6 10.8 9.5 8.7 9.4 8.6 11.2 8.7 12.9 6.5 11.9 6.4 14.5 2.2 3.9 2.2 2.5 2.1 1 2.2 0 2.2-.6 12.9-7.3 4.4-.9 4.3 .9 10.8 6 4.3 1.2 2.2-.2 4.3-1.6 8.7-6.1 4.3-1.9 2.2-.2 2.2 .3 4.3 1.6 .7 .6"/>
<path class="c1" d="M86.3 474.9l4.3-.1 13 1.7 4.3-.6 4.4-2.4 10.8-10.1 4.3-3 4.3-1.5 10.9-1.2 6.4-2.3 10.9-5.9 12.9-6.5 23.9-15.6 28.1-16.7 23.8-17.2 6.5-3.7 6.5-2.9"/>
<path class="c0" d="M261.6 386.9l10.8-3.8 13-3.3 10.8-.8 10.8 .8 8.7 2.3 12.9 6.1 6.5 2.5 6.5 1.7 10.8 1.8 4.4 1.4 4.3 2.2 4.3 2.8 8.7 6.7 .7 1"/>
<path class="c1" d="M86.3 477l8.7-9.6 2.1-1.5 2.2-.8 2.1 .1 2.2 .8 6.5 3.8 2.2 .8 2.1 .2 2.2-.5 2.2-1.1 8.6-7.8 4.3-2.9 4.4-1.4 10.8-.8 4.3-1.5 19.5-10.4 19.5-11.8 17.3-7.6 6.5-3.3 6.5-4.3 12.9-10 6.5-4.3 6.5-3.1 13-3.7 4.3-1.6 4.4-2.3 12.9-8.1 6.5-3.2 4.4-1.3 6.4-.2 6.5 1.6 8.7 3.7"/>
<path class="c0" d="M313.5 384.9l4.3 1.3 4.3 .9 17.4 .1 6.4 .8 6.5 1.7 4.4 2 6.5 4.2 10.8 9.3 .7 1.1"/>
<path class="c1" d="M86.3 470.4l4.3-.6 2.2 .5 2.2 1.1 6.4 5 2.2 .7 2.2-.2 2.1-1.1 2.2-1.8 8.7-11.2 2.1-2.1 2.2-1.4 2.1-.5 2.2 .2 8.7 3.1 2.1 .1 2.2-.5 2.2-1 2.1-1.6 8.7-8.1 19.4-16.7 6.5-4.5 10.9-6.5 4.3-3.3 6.5-6.5 10.8-12.7 4.3-3.9 2.2-1.5 4.3-2 4.3-1 13-1.7 6.5-2.5"/>
<path class="c0" d="M246.4 388.2l6.5-3.5 4.3-1.8 2.2-.6 4.3-.1 4.4 .9 10.8 4.7 4.3 1.2 4.3 0 6.5-.9 4.3 .2 4.4 1.5 6.5 4.2 6.5 6.5 4.3 5.7 6.5 10.3 4.3 8.2 4.3 9.2 4.4 10.8 8.6 27.5 2.2 4.5 2.1 1.8 2.2-.3 2.2-1.7 2.1-2.5 6.5-9.6 4.4-5 2.1-1.3 2.9-.8"/>
<path class="c1" d="M86.3 473l4.3-.1 2.2 .8 6.5 3.9 2.1 .5 2.2-.4 2.2-1.3 6.5-7 2.1-2.1 2.2-1.3 2.2-.4 2.1 .4 6.5 4.1 2.2 .8 2.1-.1 2.2-1.3 2.2-2.1 6.5-8.4 4.3-4 2.1-1.1 6.5-2.2 4.4-2.3 12.9-10 6.5-6.4 13-15.1 4.4-4.5 6.4-5.3 13-9.1 4.4-3.9 10.8-10.9"/>
<path class="c0" d="M231.3 384.2l4.3-2.7 4.3-.8 4.4 .3 12.9 3.3 4.4-.1 8.6-1.9 4.3 .1 8.7 2 6.5 2.8 4.3 2.4 8.7 6.3 6.5 5.9 6.5 6.9 6.4 8 8.7 12.3 15.1 25.3 6.5 9.2 6.5 12 2.2 2 2.2 .2 2.1-1.1 9.4-6.7"/>
<path class="c1" d="M86.3 479.3l2.2-1.8 2.1-2.8 6.5-10.2 2.2-2.6 2.1-1.6 2.2-.5 2.2 .5 6.5 3.4 2.1 .5 2.2-.2 2.2-1 2.1-1.5 6.5-5.4 2.2-1.3 4.3-1 6.5 .3 4.3-1 4.3-2.7 13-10.1 8.7-5.8 6.5-3.3 13-5.4 6.5-3.9 6.4-5.6 13-13.6 4.4-3.6 4.3-2.6 4.3-1.6 4.3-.6 6.5 0 8.7 .7 4.3-.5"/>
<path class="c0" d="M252.9 394.5l6.5-2.6 10.8-6.1 4.3-1.3 2.2-.1 4.3 .8 8.7 3.7 8.6 2.3 6.5 3 6.5 4.6 6.5 6.3 6.5 7.8 6.5 9.5 6.5 11.1 8.6 16.8 8.7 21.9 2.2 4.1 2.1 1.9 2.2 .1 2.2-1.1 10.8-10.4 .7-1.1"/>
<path class="c1" d="M86.3 477.2l6.5 .7 2.2-.2 2.1-.8 4.3-3.3 8.7-10.4 4.3-3.6 4.4-1.5 8.6-.6 4.3-1.5 4.4-2.6 28.1-19.6 13-8.1 6.5-4.5"/>
<path class="c0" d="M183.7 421.2l6.5-5.5 15.1-14.7 4.3-3.6 4.4-2.9 6.5-2.9 12.9-4.1 10.9-2.1 4.3 .3 6.5 2.1 4.3 2.4 4.3 3.2 4.4 4 4.3 4.7 6.5 8.5 8.6 13.9 6.5 12.6 4.3 9.9 8.7 24.1 2.2 4.4 2.1 2.3 2.2 0 2.2-2 2.1-3.5 6.5-12.8 2.2-3.1 2.1-1.8 2.2-.1 2.2 1.4 2.1 2.9 6.5 12.3 2.2 3.3 2.1 2.1 2.2 .5 2.2-1.1 2.1-2.7 8.7-17.1 2.2-3.1 2.1-1.7 2.2-.2 2.2 1.3 4.3 4.7 .7 1.7"/>
<path class="c1" d="M86.3 481.6l2.2-1.1 8.6-6.2"/>
<path class="c2" d="M97.1 474.3l4.3-1.5 8.7 1.3 2.2-.4 2.1-1.3 2.2-2.1"/>
<path class="c1" d="M116.6 470.3l6.5-8.6 4.3-4.5 2.2-1.5 6.5-3 4.3-2.9 10.8-10.2 8.7-10 15.1-19.8"/>
<path class="c0" d="M175 409.8l4.3-4.8 4.4-3.9 6.5-4.2 4.3-1.5 2.2-.4 8.6 0 4.3-.8 6.5-2.3 13-6.2 6.5-2.2 4.3-.7 4.4 .1 15.1 2.4 6.5 1.7 8.6 3.9 8.7 5.8 8.7 7.7 8.6 9.6 6.5 8.5 6.5 9.5 13 22.2 6.5 9.6 6.5 12.4 2.1 2.5 2.2 .4 2.1-.8 4.4-2.5 2.1-.8 2.2-.3 2.2 .4 2.1 1.1 6.5 4.9 2.2 1.2 2.2 .5 2.1-.1 2.9-1"/>
<path class="c1" d="M86.3 482.4l10.8-7.5 2.2-.8 2.1-.2 4.4 1 8.6 4.4 4.4 .7 2.1-.5 4.3-2.4 8.7-7 2.2-1.1 2.1-.6 2.2 0 2.2 .6 10.8 6.4 2.1 .6 2.2 .1 2.2-.7 2.1-1.5 10.8-10.5 2.2-1.2 2.2-.6 4.3 .5 8.7 3.1 4.3-.2 4.3-2 10.8-8.8 4.4-2.8 23.8-11.9 8.6-5 6.5-4.5 15.2-11.9 6.4-4.2 6.5-2.8 10.9-3.3 6.4-2.5 6.5-3.3 10.9-6.8 6.4-2.9 6.5-1.1 4.4 .1 4.3 .7"/>
<path class="c0" d="M337.3 392l8.6 1.9 4.4 .4 15.1-.3 9.4 .3"/>
<path class="c1" d="M86.3 471.1l6.5-5.5 2.2-1.1 2.1-.3 2.2 .3 6.5 2.2 2.1 .2 2.2-.4 2.2-1 2.1-1.6 10.8-12 8.7-7.9 10.8-10.7 6.5-5.3 10.8-7.4 6.5-5.7 4.3-4.9 10.9-14.4 4.3-5.1"/>
<path class="c0" d="M188 390.5l4.3-4 4.4-2.6 4.3-1 4.3 .1 6.5 1.3 6.5 2.7 4.3 2.8 6.5 5.7 6.5 7.5 4.3 5.9 6.5 10.5 4.3 7.9 8.7 18.6 8.7 26.3 2.1 5.1 2.2 2.1 2.1-1.1 8.7-13.8 2.2-2.3 2.1-.9 2.2 .7 2.2 2.2 6.4 10.7 2.2 2.7 2.2 1.3 2.1-.3 2.2-1.8 6.5-10.1 2.2-2.7 2.1-1.6 2.2 0 2.1 1.4 6.5 8.8 2.2 2.3 2.2 1.1 2.1-.3 2.2-1.9 6.5-10.5 2.1-3.1 2.2-1.9 2.2-.5 2.1 1.1 2.2 2.3 6.5 8.9 2.2 1.7 2.1 .3 2.2-1.2 2.2-2.2 4.3-5.2 .7-1.7"/>
<path class="c1" d="M86.3 468.7l2.2 .6 2.1 1.1 2.2 1.8 6.5 6.8 2.1 1.9 2.2 1.1 2.2 .3 2.1-.6 2.2-1.2 6.5-5.2 2.2-1.3 2.1-.5 2.2 .2 2.1 1 8.7 7.2 2.2 .6 2.1-.4 2.2-1.6 2.2-2.4 8.6-13.2 2.2-2.4 2.1-1.5 2.2-.7 2.2 .1 6.5 2.1 2.1 .3 2.2-.2 4.3-2.2 6.5-5.8 4.3-3.2 4.4-2.1 8.6-3 4.3-2.3 6.5-4.6 13-11.6 4.3-3.4 6.5-3.8 10.9-4.9 4.3-2.7 6.5-6 10.8-12.1 4.3-3.8 2.2-1.3 4.3-1.5 10.8-.3 4.4-1 4.3-2.3 10.8-9.3 4.3-3 4.4-1.2 2.1 .1 2.2 .7"/>
<path class="c0" d="M320 372l4.3 3.1 6.5 5.7 4.3 2.6 2.2 .6 4.3 .2 8.7-2.3 4.3-.6 4.3 .8 6.5 2.1 9.4 1.7"/>
<path class="c1" d="M86.3 472.2l4.3 .4 2.2 1.1 6.5 6.5 2.1 1.7 2.2 .9 2.2-.2 2.1-1.1 6.5-6.2 2.2-1.5 2.2-.6 2.1 .5 2.2 1.3 6.5 6 2.1 1.2 2.2 .1 2.2-.8 2.1-1.8 6.5-7 2.2-1.3 2.1-.4 2.2 .6 6.5 4.4 2.2 .7 2.1-.2 2.2-1.2 2.2-2.2 6.4-9.4 2.2-2.4 2.2-1.5 2.1-.5 2.2 .2 6.5 2.1 2.2-.2 2.1-.9 2.2-1.5 8.6-7.9 13-7 23.8-15.4 8.7-7.1 17.3-16.1 6.5-5 4.3-2.4 17.3-7.5 6.5-4 13-9.3 4.3-2.2 4.3-1.3"/>
<path class="c0" d="M322.1 373.8l4.4-.3 6.5 .8 6.5 1.9 8.6 3.1 4.3 1 15.2 .5 7.2 1.1"/>
<path class="c1" d="M86.3 473.8l2.2-1.7 6.5-6.6 2.1-1.5 2.2-1 2.1-.4 2.2 .1 8.7 2 4.3-.5 4.3-2.1 8.7-5.8 4.3-2 4.3-1.1 8.7-1.3 6.5-2.4 10.8-6.3 17.3-13 6.5-4.1 6.5-3.1 13-4.9 6.5-3.5 6.5-4.8 15.1-14.2 6.5-5 4.3-2.2 4.3-1.3 8.7-.8"/>
<path class="c0" d="M259.4 386.3l8.7-1.2 21.6-8.1 4.3-1.1 4.3-.3 4.4 .7 15.1 4.5 4.3 2.1 4.4 3.1 6.5 6 6.5 7.9 6.4 9.8 4.4 7.6 8.6 17.6 10.9 27.4 2.1 4.9 2.2 3.7 .7 2.4"/>
<path class="c1" d="M86.3 483.5l4.3-.9 2.2-1.3 10.8-10.4 2.2-1.3 2.1-.6 2.2 .2 2.2 .8 8.6 6.9 2.2 1.4 2.1 .7 2.2 0 2.2-.7 4.3-3.2 6.5-6.1 2.2-1.4 2.1-.7 2.2-.1 2.1 .6 10.9 6.4 2.1 .5 2.2-.3 2.2-1 2.1-1.8 8.7-10.1 2.1-2 4.4-2.6 8.6-1.7 4.4-1.9 4.3-3.5 13-11.9 6.5-5.3 6.4-4.6 13-8.4 6.5-4.8 8.7-7.9 15.1-16.4 6.5-5.2 6.5-2.7 6.5-.6 4.3 .9 8.7 3.7"/>
<path class="c0" d="M302.7 386.2l4.3 1.5 6.5 .9 17.3-.8 4.3 .2 17.3 4 6.5 2.6 4.4 2.5 10.8 8.4 .7 1"/>
<path class="c1" d="M86.3 483.6l4.3-2.7 6.5-6.1 2.2-1.6 2.1-.9 2.2-.2 2.2 .3 6.5 1.7 2.1-.4 2.2-1.3 2.2-2.2 6.4-9 4.4-5 13-9.8 10.8-9.9 8.6-8.7 8.7-9.9 21.6-26.7 6.5-7 4.3-4.1"/>
<path class="c0" d="M203.1 380.1l4.4-3.4 4.3-2 2.2-.5 4.3 0 6.5 1.2 6.5 2.4 6.5 3.6 6.5 4.7 6.4 6 6.5 7.1 6.5 8.3 6.5 9.5 6.5 10.7 10.8 20.6 8.7 22.5 2.1 4.9 2.2 2.9 2.2 .9 2.1-.6 4.4-2.9 8.6-7.6 2.2-1.1 2.1-.5 2.2 .2 2.2 .9 4.3 3.3 6.5 6.3 2.2 1.5 2.1 .9 2.2 .3 2.1-.5 2.2-1.2 10.8-9.7 2.2-1.1 2.2-.5 2.1 .4 2.2 1.1 6.5 5.4 .7 1.2"/>
<path class="c1" d="M86.3 478.1l6.5 2.7 2.2 0 2.1-.9 4.3-3.9 6.5-7.5 2.2-1.8 2.2-1 2.1 0 2.2 .8 2.2 1.5 6.4 6.1 2.2 1.4 2.2 .7 2.1-.1 2.2-1 2.2-1.7 6.5-6.9 2.1-1.9 2.2-1.1 2.1-.3 2.2 .5 2.2 1.2 6.5 5.5 2.1 1.2 2.2 .1 2.2-.8 4.3-4.2 8.6-10.6 4.4-3.2 6.5-2.8 4.3-2.6 6.5-5.9 13-14.2 6.5-6.6 6.4-5.3 13-8.8 6.5-5.4 6.5-6.9 10.8-13.5 4.4-4.8 4.3-3.7 2.1-1.2 2.2-.6"/>
<path class="c0" d="M276.7 370.6l2.2-.1 2.1 .5 13 7.4 4.3 1.6 6.5 .5 13-3.1 4.3-.1 6.5 1.6 6.5 3.4 6.5 5 4.3 4.2 8.7 10.8 8.7 13.6 8.6 16 2.2 3.2 .7 2"/>
<path class="c1" d="M86.3 473.5l4.3 1.4 8.7 4.6 2.1 .4 2.2-.1 4.3-1.6 8.7-5.2 2.2-.6 2.1-.1 4.3 1.2 8.7 5 2.2 .6 2.1 .1 2.2-.4 2.2-1.1 8.6-8.1 4.3-2.9 4.4-.8 6.5 .6 2.1-.2 4.3-1.6 4.4-3.2 8.6-7.5 10.9-7.8 12.9-13.4 6.5-5.9 4.4-2.9 10.8-6.3 4.3-3.5 6.5-7.2 10.8-14.7 4.3-4.6 2.2-1.8 2.2-1.4 4.3-1.6 8.6-.7"/>
<path class="c0" d="M274.5 382.2l4.4-.2 4.3-.9 4.3-1.3 8.7-4 4.3-.6 4.3 .8 6.5 2.8 6.5 4.6 4.3 3.9 8.7 10.3 8.7 13.3 4.3 7.8 6.5 13.2 19.5 43.9 2.1 2.5 2.9 1"/>
<path class="c1" d="M86.3 474.8l6.5-4.1 2.2-.6 2.1 .2 2.2 1 2.1 1.7 8.7 8.9 2.2 1.3 2.1 .4 2.2-.4 2.2-1.3 2.1-2 6.5-8.1 2.2-2.1 2.1-1.4 2.2-.7 2.2-.1 6.5 .8 2.1-.6 2.2-1.2 4.3-4.5 8.7-10.8 12.9-10.1 6.5-6.1 8.7-10.6 10.8-15.8 6.5-8.5 6.5-6 4.3-2.4"/>
<path class="c0" d="M216.1 391.7l2.2-.8 4.3-.5 6.5 .6 4.3-.2 4.4-1.3 6.5-2.7 4.3-.5 4.3 .4 4.3 1 8.7 3.3 8.6 4.8 8.7 6.5 8.7 8 8.6 9.8 6.5 8.3 6.5 9.3 4.3 7.1 10.8 21.8 2.2 3 4.3 4.6 2.2 1.2 2.2-.4 2.1-2.1 6.5-10.3 2.2-1.9 2.1-.3 2.2 1.6 2.2 3 6.5 11 2.1 1.8 2.2 0 2.2-1.6 4.3-5.4 .7-2"/>
<path class="c1" d="M86.3 473l6.5-2.7 4.3-.9 4.3 .1 6.5 .7 4.4-.5 4.3-2 8.6-6.5 4.4-2.6 4.3-1.5 6.5-1.5 4.3-1.6 6.5-4.3 30.3-24.2 13-9.1"/>
<path class="c0" d="M194.5 416.4l10.8-7.8 15.2-12 4.3-2.6 4.3-1.3 4.3-.4 4.4 .3 4.3 1.1 6.5 3.2 6.5 4.8 6.5 6.6 6.5 8.3 8.6 13.8 10.8 19.8 4.4 8.8 4.3 10.5 2.1 4.1 2.2 2 2.2-.2 2.1-1.5 6.5-6.1 2.2-1.2 2.2-.4 2.1 .5 2.2 1.4 8.6 9.2 2.2 1.5 2.2 .7 2.1-.2 2.2-1.1 8.6-8 2.2-1.2 2.2-.4 2.1 .6 2.2 1.4 6.5 6.6 2.2 1.8 2.1 1.1 2.2 .1 2.2-.9 4.3-3.2 .7-1.2"/>
<path class="c1" d="M86.3 477.8l4.3-8.8 2.2-3.5 2.2-2.5 2.1-1.6 2.2-.9 2.1-.3 6.5 .3 2.2-.5 2.2-1.1 4.3-3.6 8.6-8.7 6.5-5.3 8.7-5.8 13-6.3 4.3-2.5 4.3-3.3 6.5-6.4"/>
<path class="c0" d="M168.5 417l13-14.3 6.5-4.9 4.3-1.9 4.4-.4 10.8 1.5 4.3-.6 6.5-2.4 13-6.6 6.5-1.5 4.3 .3 8.6 2.1 8.7 1.4 4.3 1.1 6.5 2.4 4.3 2.1 8.7 5.5 8.7 7.1 8.6 8.8 8.7 10.5 8.6 12.1 4.3 7 8.7 16.2 2.2 3.2 6.5 7.8 2.1 2.1 2.2 .4 2.1-1.6 6.5-10.6 2.2-2.7 2.2-1.5 2.1 0 2.2 1.5 2.2 2.8 6.5 10.9 2.1 2.6 2.9 2.4"/>
<path class="c1" d="M86.3 482.6l2.2-1.8 6.5-7.4 2.1-1.9 2.2-1.2 2.1-.4 2.2 .4 2.2 1.1 6.5 5 2.1 1.1 2.2 .3 2.2-.4 2.1-1.2 4.3-4.7 8.7-12.7 4.3-4 2.2-1 2.2-.5 8.6-.5 4.3-1.7 6.5-4.4 10.8-8.7 8.7-9.2 17.3-22.8 4.3-4.9 4.4-3.9 4.3-3 4.3-2 4.4-1.2 6.4-1.3"/>
<path class="c0" d="M226.9 389.7l6.5-.8 8.7-2.6 2.2-.3 4.3 .3 4.3 1.5 4.3 2.2 4.4 3 4.3 3.8 4.3 4.6 4.3 5.3 8.7 13 13 24.2 4.3 7.3 2.2 4.3 6.5 16.3 2.1 3 2.2 .2 2.2-2.3 6.4-10.9 2.2-2.4 2.2-.9 2.1 .6 2.2 2 8.7 14.2 2.1 2.2 2.2 .7 2.1-.7 2.2-2.1 6.5-9.6 2.2-2.3 2.1-1.2 2.2 .3 2.2 1.8 2.1 2.9 4.4 7.5 5 7.1"/>
<path class="c1" d="M86.3 477.7l2.2-2 6.5-7.4 2.1-1.5 2.2-.4 2.1 .5 2.2 1.3 6.5 5.8 2.2 1.3 2.1 .5 2.2-.3 2.2-1.2 8.6-7.7 2.2-1 2.1-.2 2.2 .6 2.2 1.4 6.5 5.5 2.1 1.1 2.2 .4 2.1-.7 2.2-1.7 6.5-7.9 4.3-4.4 2.2-1.4 8.6-3.2 2.2-1.3 10.8-9.5 21.7-15.8 10.8-10.2 10.8-12.4"/>
<path class="c0" d="M229.1 405.9l10.8-12.5 6.5-5.9 6.5-4.1 6.5-2.1 4.3 .3 17.3 5 17.3 .8 4.4 .9 6.5 2.1 8.6 4.3 8.7 6 8.6 7.7 6.5 6.8 10.8 13.5 10.9 16 10.8 18.9 .7 2.4"/>
<path class="c1" d="M86.3 479.3l2.2-1.5 6.5-5.9 2.1-1.1 2.2-.3 2.1 .5 8.7 5.7 2.2 .8 2.1 0 2.2-.8 8.6-6.7 2.2-.9 2.2-.1 2.1 .7 8.7 6.1 2.2 .8 2.1 0 2.2-.9 8.6-6.8 2.2-1 2.2-.4 2.1 .4 6.5 3.1 2.2 .7 2.1-.2 2.2-1.1 2.2-1.9 6.5-7.8 4.3-4.1 8.7-4.4 4.3-2.8 32.4-27 10.9-10.6 19.4-21.6 4.4-4.1 4.3-3.5 6.5-3.3 6.5-1.9 10.8-2 8.6 .2"/>
<path class="c0" d="M304.8 375.6l13-.8 6.5 .4 6.5 1.4 6.5 2.2 8.6 2.3 4.4 1.6 4.3 2.5 6.5 5 13 13.8 .7 1.4"/>
<path class="c1" d="M86.3 481.3l4.3-1.9 8.7-6.6 4.3-1.9 2.2-.1 2.1 .5 10.9 6.1 2.1 .5 2.2 0 4.3-1.6 8.7-5.9 2.1-.8 2.2-.3 2.2 .3 2.1 .9 8.7 5.5 2.1 .9 2.2 .3 2.2-.3 2.1-1 2.2-1.7 6.5-6.2 4.3-3 2.2-.7 2.1-.1 8.7 1.4 4.3-.8 4.4-2.6 8.6-8 4.3-3.4 30.3-19.9 8.7-6.3 6.5-5.6 15.1-14.8 4.3-3.5 4.4-2.7 4.3-2 13-4.1 6.5-2.5 10.8-6.2"/>
<path class="c0" d="M313.5 383.2l4.3-2.5 4.3-1.8 4.4-.7 2.1 .2 2.2 .6 4.3 1.9 13 8 6.5 3.1 4.3 1.2 4.4 .6 11.5 .1"/>
<path class="c1" d="M86.3 478l8.7-7.9 8.6-9.5 2.2-1.5 2.1-1 2.2-.3 6.5-.2 4.3-1.4 10.8-6.9 13-6.4 36.8-22.4 6.5-4.8 13-10.6 6.5-4.7 19.4-11.1"/>
<path class="c0" d="M226.9 389.3l19.5-13.7 6.5-3.2 6.5-1.9 23.8-.9 8.7 .2 6.4 .8 4.4 .9 4.3 1.6 4.3 2.2 4.4 2.9 4.3 3.5 6.5 6.5 8.6 10.9 6.5 9.8 6.5 11.3 8.7 17.3 8.6 18.6 9.4 22.8"/>
<path class="c1" d="M86.3 475.7l6.5-6.7 2.2-1.7 2.1-.9 2.2 .1 2.1 .9 6.5 4.1 2.2 .5 2.2-.5 2.1-1.6 10.8-14.3 2.2-1.9 6.5-3.6 4.3-3 10.8-10.6 8.7-10.5 13-17.7 6.5-7.4"/>
<path class="c0" d="M177.2 400.9l4.3-3.6 4.3-1.8 4.4-.1 8.6 .7 6.5-.6 6.5-2.1 13-5.8 4.3-1.4 4.3-.8 4.4-.2 6.5 .8 6.4 1.9 4.4 1.9 8.6 5.1 6.5 5.2 6.5 6.2 6.5 7.3 8.7 11.4 6.4 9.8 13 23.6 8.7 12.7 2.1 2.7 2.2 .8 2.2-1.7 2.1-4.1 6.5-16.2 2.2-4 2.2-2.3 2.1-.3 2.2 1.7 2.1 3.4 8.7 20.1 2.2 3.3 2.1 1.4 2.2-.5 2.2-2.5 2.1-4 6.5-15.5 2.2-3.8 .7-2.3"/>
<path class="c1" d="M86.3 477.9l8.7-6.3 2.1-.7 2.2 .1 2.1 1 8.7 6.8 2.2 .6 2.1-.3 2.2-1.5 6.5-7.1 2.1-1.8 2.2-1.2 2.2-.3 2.1 .4 6.5 2.1 2.2-.1 2.2-1 4.3-3.9 6.5-7.4 4.3-3.7 17.3-12.2 13-7.2 6.5-4.6 6.5-6.8 10.8-14.1 6.5-6.8"/>
<path class="c0" d="M218.3 401.9l2.2-1.5 4.3-2 4.3-.9 8.7-.5 6.5-1 8.6-3.4 2.2-.3 6.5 .7 8.6 2.9 8.7 4.9 6.5 5 6.5 6 6.4 7.1 10.9 14.3 6.5 10.3 8.6 15.8 10.8 15.5 2.2 2.1 2.2 .6 2.1-.7 6.5-4.6 2.2-.9 2.1-.3 2.2 .3 2.2 1 6.5 4 2.1 .9 2.2 .2 2.2-.4 4.3-1.9 .7-.7"/>
<path class="c1" d="M86.3 474l6.5-5.5 2.2-.7 2.1 .2 2.2 1 6.5 4.3 2.1 .6 2.2-.3 2.2-1.1 2.1-2 6.5-8 4.3-4.2 2.2-1.2 2.2-.5 2.1 .1 6.5 1.3 2.2 0 2.2-.5 2.1-1 8.7-6.6 4.3-2.5 15.1-5 4.4-1.8 6.5-4.1 13-11.7 4.3-3.4 6.5-3.3 13-3.1 4.3-1.9 6.5-5 6.5-6.8"/>
<path class="c0" d="M237.8 401.3l6.5-6.1 4.3-2.6 2.1-.7 4.4-.4 10.8 1.4 4.3 0 6.5-1.5 10.8-4.5 4.4-.5 4.3 .9 4.3 2.4 10.8 7.9 4.4 1.7 8.6 2.2 4.3 1.9 4.4 2.7 6.5 5.2 6.4 6.9 4.4 5.5 6.5 9.5 10.8 17.6 2.2 2.8 4.3 3.9 .7 1"/>
<path class="c1" d="M86.3 479.3l2.2-1.8 6.5-7.3 4.3-3.3 2.1-.6 2.2 .1 8.7 3.1 2.1 0 2.2-.7 4.3-3.5 6.5-7.5 4.3-4.1 4.4-2.3 6.5-1.8 4.3-2.2 4.3-3.8 10.8-11.7 6.5-6.1 4.3-2.8 10.9-5.6 4.3-3.4 6.5-7.6 10.8-15.3 4.3-4.4"/>
<path class="c0" d="M209.6 386.7l2.2-1.4 2.2-.8 2.1 0 2.2 .7 8.6 4.5 4.4 .7 2.1-.3 4.4-1.9 10.8-8.1 2.1-1.1 4.4-1.2 4.3 0 6.5 .9 6.5 1.8 6.5 2.7 6.5 3.6 4.3 3 8.6 7.1 8.7 8.8 8.7 10.4 8.6 12.1 8.7 13.8 4.3 8.3 8.6 19.9 2.2 3.8 2.2 2.8 2.1 1.3 2.2 0 2.2-1.3 6.5-7.3 2.1-2 2.2-.9 2.2 .1 2.1 1 2.2 1.3 .7 1"/>
<path class="c1" d="M86.3 465.5l6.5-4 8.6-1.6 2.2-1 2.2-1.5 15.1-17.1 17.3-16.8 15.2-17.3 4.3-3.8 4.3-1.9"/>
<path class="c0" d="M162 400.5l4.4-.3 8.6 .7 6.5 1.2 6.5 3 4.3 3.1 4.4 4 6.4 7.6 6.5 9.5 6.5 11.7 6.5 14.2 4.3 8.5 6.5 11.1 2.2 1.9 2.2 .2 2.1-.9 6.5-4.6 4.3-2.4 2.2-.5 2.2 0 4.3 1.5 10.8 8.7 4.3 2.1 2.2 .3 2.2-.3 2.1-.8 10.9-7.3 4.3-1.5 2.1 0 2.2 .6 2.2 1 10.8 7.5 2.2 .7 2.1 .2 2.2-.5 2.1-1.1 2.2-1.7 10.8-10.7 2.2-1.3 2.2-.7 2.1 0 2.2 .6 2.1 1.3 10.9 9 2.1 1.1 2.2 .5 2.2-.1 2.1-.7 8.7-5.6 .7-.9"/>
<path class="c1" d="M86.3 465.8l4.3-1.7 2.2-1.7 4.3-4.9 4.3-6.1 6.5-10 4.4-7.6 12.9-25.1 4.4-6.1"/>
<path class="c0" d="M129.6 402.6l2.1-1.8 2.2-.8 2.2-.1 2.1 .7 4.4 2.6 4.3 3.5 4.3 4.1 10.8 12.8 4.4 4.4 4.3 3.5 8.6 5.3 4.4 3.4 4.3 5.6 2.2 4.1 6.5 15.4 4.3 8.7 2.1 2.9 2.2 2 2.2 1.1 2.1 .4 2.2-.5 2.2-1.4 10.8-11.8 2.1-1.2 2.2-.4 2.2 .5 2.1 1.5 8.7 9.7 2.2 1.9 2.1 1.1 2.2 .1 2.1-.8 2.2-1.6 8.7-10.7 2.1-2.1 2.2-1.2 2.2-.3 2.1 .7 2.2 1.6 8.6 10.9 2.2 2.2 2.2 1.5 2.1 .5 2.2-.4 2.2-1.4 8.6-9.5 2.2-1.8 2.1-1.2 2.2-.2 2.2 .7 2.1 1.5 8.7 9.6 2.1 1.8 2.2 .8 2.2 0 2.1-1.1 2.2-1.9 8.7-11.2 2.1-2.1 2.2-1.2 2.1-.3 2.2 .8 2.2 1.7 8.6 10.8 2.2 2.1 2.2 1.4 2.1 .4 2.2-.6 6.5-4.7 .7-1.2"/>
<path class="c1" d="M86.3 462.2l4.3-1.2 2.2-.1 2.2 .3 8.6 2.8 4.3-.2 4.4-2.1 6.5-4.4 4.3-2.2 4.3-1 8.7-.5 4.3-1.3 10.8-6.4 6.5-3.4 6.5-2.8 13-4.5 6.5-3.1 6.5-4.3 10.8-8.4 6.5-4.1 6.5-2.7 10.8-2.7 6.5-2.8 4.3-2.8 10.8-8.4 4.3-2.6 4.4-1.7 4.3-.8 4.3-.1 4.4 .7"/>
<path class="c0" d="M268.1 391.4l6.4 1.1 4.4 .3 4.3-.4 8.7-1.7 6.4-.2 10.9 2.1 6.5 3 4.3 3.1 6.5 6.4 6.5 8.4 4.3 6.7 8.6 16.2 13 31.3 2.2 4 2.2 2.6 2.1 .7 2.2-1.6 6.5-10.8 .7-2.2"/>
<path class="c1" d="M86.3 475l4.3-.8 2.2 .4 2.2 1.3 2.1 2 6.5 6.7 2.2 1.3 2.1 .3 2.2-.8 2.2-1.7 2.1-2.6 6.5-10.3 2.2-2.9 2.1-2.1 2.2-1.1 2.2-.1 8.6 3.4 2.2-.2 2.2-1 2.1-1.9 6.5-8.2 4.3-4.7 2.2-1.6 6.5-3.5 4.3-3.1 23.8-24 19.5-18.2"/>
<path class="c0" d="M211.8 401.6l15.1-13.7 4.4-3.5 4.3-2.4 6.5-2 10.8-1.6 10.8 .2 10.8 1.2 15.2 3.7 6.5 3.7 6.5 5.8 6.5 8.1 6.5 10.2 6.4 12.5 6.5 14.5 6.5 16.2 6.5 19 2.2 3.1 2.1 .3 2.2-1.7 8.7-13.6 2.1-2.3 2.2-1.1 2.2 .2 2.1 1.5 8.7 11.4 .7 1.6"/>
<path class="c1" d="M86.3 463.8l6.5-.8 4.3-1.9 2.2-1.5 10.8-10.2 19.5-14.8 6.5-6 6.5-6.8"/>
<path class="c0" d="M142.6 421.8l8.6-9.4 6.5-6.4 4.3-2.9 2.2-.8 4.3-.8 4.3-.2 19.5 2.3 4.4 0 8.6-1.1 6.5 .4 6.5 1.9 8.6 4.6 8.7 6.7 6.5 6.6 8.6 10.7 8.7 12.8 6.5 10.4 8.6 18.4 2.2 3.1 2.2 1.2 2.1-.2 2.2-1 8.7-5 2.1-.6 2.2 0 2.1 .7 2.2 1.2 8.7 6.7 2.1 1 2.2 .2 2.2-.6 2.1-1.3 8.7-8.2 2.1-1.4 2.2-.5 2.2 .3 2.1 1.1 8.7 8.3 2.1 1.5 2.2 .6 2.2-.4 2.1-1.3 2.2-2.1 6.5-7.8 2.2-1.9 2.1-1 2.2 0 2.2 1.1 4.3 3.4 .7 1.3"/>
<path class="c1" d="M86.3 475.7l8.7-7 2.1-1.2 2.2-.5 2.1 .2 2.2 .8 6.5 4 2.2 .8 2.1 .1 2.2-.6 4.3-3.4 6.5-7.6 4.3-4.3 4.4-2.6 12.9-3.1 6.5-3.6 13-9.5 19.5-17.4 8.7-6.6"/>
<path class="c0" d="M196.7 414.2l8.6-4.7 10.8-4.3 4.4-1.3 12.9-2.7 19.5-6.9 4.3-.8 6.5-.3 6.5 .5 4.3 1.1 6.5 3.1 6.5 5.3 6.5 7.2 4.3 6 6.5 10.7 4.4 8.3 8.6 19.4 8.7 18 2.1 3.8 2.2 2.1 2.2 .4 2.1-.8 6.5-3.6 4.3-1.1 4.4 .9 8.6 4.5 4.4 .9 4.3-1.1 6.5-3.6 .7-.7"/>
<path class="c1" d="M86.3 477.8l2.2-1.7 6.5-6.4 2.1-1.6 2.2-.8 2.1-.1 2.2 .8 2.2 1.5 8.6 8.6 2.2 1.5 2.2 .8 2.1 .1 2.2-.8 2.1-1.4 8.7-7.8 2.2-1.2 2.1-.6 2.2 .2 2.2 .9 8.6 7.1 2.2 1.3 2.1 .6 2.2-.2 2.2-1.1 2.1-1.9 8.7-11.4 4.3-4.4 2.2-1.1 2.1-.4 2.2 .1 6.5 1.6 4.3 .2 4.4-1.8 10.8-9.1 10.8-7.3 6.5-3.5 10.8-4.5 6.5-4 4.3-3.7 13-13.5 6.5-4.5 4.3-1.6 10.8-1.4 4.4-1.6 4.3-3 10.8-10.1 4.3-2.8 2.2-.8 2.2-.2 4.3 .7 6.5 3.3"/>
<path class="c0" d="M320 390.8l6.5 3.5 4.3 1 4.3-.5 8.7-3 4.3-.4 15.2 2 11.5 3.4"/>
<path class="c1" d="M86.3 473.7l8.7 4.4 2.1 .4 2.2-.6 2.1-1.4 2.2-2 6.5-7.9 2.2-2.1 2.1-1.5 2.2-.8 8.6-.7 2.2-1 2.2-1.5 10.8-11.4 8.6-8.3 8.7-7.4 15.1-11.9 6.5-5.9 8.7-9.8 17.3-23.1 4.3-4.3 4.4-2.3"/>
<path class="c0" d="M214 374.6l4.3-.4 4.3 .7 15.2 5.3 15.1 2.8 6.5 3.2 6.5 5.5 4.3 4.9 4.3 5.9 4.4 6.9 4.3 7.9 6.5 13.7 8.6 20.3 6.5 17 2.2 4.8 2.2 2.6 2.1-.1 2.2-2 8.6-13.8 2.2-2.7 2.2-1.8 2.1-.7 2.2 .4 2.2 1.5 4.3 5.6 6.5 10.2 2.1 2.6 2.2 1.6 2.2 .7 2.1-.4 2.2-1.5 2.2-2.2 6.5-8.9 4.3-4.5 2.2-1 2.1-.2 2.9 .7"/>
<path class="c1" d="M86.3 481.7l2.2-2.2 6.5-9 4.3-4.3 2.1-1.2 2.2-.5 8.7 .8 2.1-.2 4.4-1.6 4.3-3.4 8.6-8 13-8.1 13-10.3 6.5-4.3 15.1-8.8 4.4-3.4 4.3-4.3 15.1-17.8 6.5-5.7"/>
<path class="c0" d="M209.6 389.4l4.4-2.4 4.3-1.3 6.5-.7 8.6-.4 4.4-1.1 4.3-1.9 10.8-6.2 4.3-1.5 2.2-.4 2.2 0 4.3 .6 4.3 1.6 8.7 4.5 4.3 1.8 13 2.3 6.5 2.5 8.6 5.4 6.5 5.5 8.7 9.5 6.5 8.6 6.5 10 6.4 11.3 4.4 9.1 8.6 21 2.2 4 2.2 3 2.1 1.8 2.2 .6 2.2-.6 4.3-2.4 .7-.8"/>
<path class="c1" d="M86.3 470.3l6.5-2.8 2.2 0 2.1 .7 6.5 3.7 2.2 .6 2.1-.3 2.2-1.1 2.2-1.9 6.5-7.2 2.1-1.9 4.3-2.1 8.7-1.3 4.3-2.2 10.8-8.2 10.9-6.4 6.5-4.4 6.4-5 8.7-7.6"/>
<path class="c0" d="M181.5 422.9l10.8-9.8 6.5-5.2 4.3-2.9 4.4-1.6 6.5-.5 12.9 1 6.5-.1 6.5-.8 8.7-2 4.3-.3 4.3 .4 6.5 1.1 10.8 3.6 8.7 4.2 8.7 5.4 8.6 6.8 8.7 7.9 8.6 9.3 4.3 5.3 10.9 15.6 2.1 2.1 6.5 3.9 2.2 2.3 4.3 6.4 2.2 1.6 2.1-.4 2.2-1.8 6.5-7.3 2.2-1.8 2.1-1.1 2.2-.3 2.2 .5 4.3 2.3 .7 .9"/>
<path class="c1" d="M86.3 474.4l6.5-9.3 2.2-2.4 2.1-1.4 2.2-.1 2.1 .8 6.5 4.2 2.2 .7 2.2-.2 2.1-1 2.2-1.7 6.5-6.5 2.1-1.6 2.2-.9 2.2-.2 2.1 .3 6.5 1.8 4.4-.4 4.3-2.2 8.6-5.5 23.8-9.4 8.7-4 8.7-5.1 21.6-14.5 8.6-4.1 17.4-6.2 6.4-2.8 6.5-3.6 8.7-5.7"/>
<path class="c0" d="M265.9 393.4l6.5-4.4 6.5-2.8 6.5-1.3 4.3-.1 4.3 .4 4.3 1.2 10.9 3.9 6.5 1.6 8.6 1.4 17.3 1.4 8.7 1.9 10.8 4.5 13.7 8.1"/>
<path class="c1" d="M86.3 477.6l4.3-3 8.7-8 4.3-2.5 4.3-.9 10.9 1.2 4.3-.5 4.3-1.6 10.8-6.6 4.4-2.1 15.1-4.5 8.7-3.8 15.1-8 30.3-19.3 6.5-3.4 8.6-4"/>
<path class="c0" d="M226.9 410.6l17.4-8.2 25.9-15.7 4.3-1.9 6.5-1.1 6.5 .9 15.2 4.9 6.5 1.6 45.4 7.9 8.7 3 11.5 6.2"/>
<path class="c1" d="M86.3 475.2l6.5-4.8 2.2-1 2.1-.1 2.2 .5 2.1 1.3 8.7 7.1 2.2 1.2 2.1 .5 2.2-.2 2.2-.9 2.1-1.6 8.7-8.4 2.1-1.4 2.2-.8 2.2 0 2.1 .7 2.2 1.4 8.6 8 2.2 1.4 2.2 .7 2.1-.1 2.2-.9 2.2-1.8 8.6-10.3 4.3-3.7 2.2-.8 2.2-.1 8.6 2.1 2.2 0 2.2-.4 2.1-1.1 4.4-3.6 8.6-8.5 23.8-17.1 6.5-5.6 17.3-16.3 6.5-5.2 4.3-2.8 6.5-3.4 6.5-1.9 4.3-.3 8.7 .9"/>
<path class="c0" d="M289.7 397.9l19.5-.5 6.5 .7 4.3 1.3 4.3 2.1 4.3 2.7 4.4 3.5 8.6 9.1 6.5 8.7 6.5 10.4 8.7 15.1 10.8 17.2 .7 2.5"/>
<path class="c1" d="M86.3 465.4l15.1-5.9 6.5-4.3 17.3-14.8 6.5-6.4 15.2-16.5 6.5-5.9 4.3-3.1 6.5-3.7 6.5-2.4 4.3-.5 6.5 .1"/>
<path class="c0" d="M181.5 402l4.3-.4 6.5-2 6.5-3.4 10.8-6.4 6.5-2.8 6.5-.9 4.3 .5 4.4 1.3 4.3 2.1 4.3 2.8 6.5 5.6 6.5 7.2 6.5 9 8.7 14.6 8.6 16.9 4.3 9 6.5 16 2.2 4 2.2 2 2.1 0 2.2-1.6 8.6-10.3 2.2-1.6 2.2-.9 2.1 .1 2.2 1 2.2 1.8 8.6 9.2 2.2 1.4 2.1 .6 2.2-.3 2.2-1.1 8.6-8.5 2.2-1.6 2.1-.9 2.2 0 2.2 1 2.1 1.8 8.7 11.2 2.2 2.2 2.1 1.5 2.2 .4 2.2-.4 4.3-2.3 .7-1"/>
<path class="c1" d="M86.3 460.8l4.3-2.2 2.2-.3 6.5 1.4 2.1-.5 2.2-1.3 10.8-12 13-12 6.5-7.8"/>
<path class="c0" d="M133.9 426.1l13-19.1 4.3-4.5 2.2-1.5 2.1-.7 2.2-.1 10.8 3 4.3-.2 6.5-1.1 4.4 .2 8.6 1.9 8.7 3.5 10.8 6.5 8.7 6.9 10.8 10.8 10.8 13.2 4.3 6.2 8.7 15.1 2.1 2.5 8.7 7 2.2 .1 2.1-1.6 6.5-8.1 2.2-1.7 2.1-.4 2.2 .7 2.2 1.9 6.5 8.3 2.1 2 2.2 .9 2.1-.3 2.2-1.5 6.5-7.7 2.2-2.1 2.1-1 2.2 .2 2.2 1.4 2.1 2.5 6.5 9.1 2.2 1.9 2.1 .7 2.2-.7 2.2-1.8 6.5-8.8 2.1-2.3 2.2-1.2 2.1 0 2.2 1.2 8.7 9.7 2.1 1.2 2.2-.1 2.2-1.4 2.1-2.4 4.4-6.5 5-6.3"/>
<path class="c1" d="M86.3 462.4l13-4.2 4.3-3.3 15.2-18.6 17.3-22.7 6.5-7.5 4.3-4.1 4.3-3.4 4.3-2.3 4.4-.8"/>
<path class="c0" d="M159.9 395.5l6.5-.5 6.4-1.1 6.5-2 15.2-6 6.5-1.8 4.3-.7 6.5 0 4.3 .8 6.5 2.1 6.5 3.5 8.7 6.4 6.5 6.3 6.4 7.6 6.5 8.8 6.5 10 15.2 25.2 8.6 19.3 2.2 2.7 2.2 .1 2.1-2 8.7-15.5 2.1-2.7 2.2-1.4 2.2 .2 2.1 1.5 2.2 2.9 8.6 15 2.2 2.3 2.2 .9 2.1-.5 2.2-1.9 2.2-2.9 6.5-10.6 2.1-2.6 2.2-1.3 2.1 0 2.2 1.3 2.2 2.6 8.6 14.2 2.2 2.2 2.2 .8 2.1-.6 2.2-1.9 6.5-9.6 .7-2.1"/>
<path class="c1" d="M86.3 480.3l6.5-3.5 2.2-.7 2.1-.1 4.3 1.3 6.5 3.1 2.2 .5 2.2-.1 2.1-.7 2.2-1.2 8.6-7.1 2.2-1.1 2.2-.6 2.1 .1 2.2 .6 6.5 3.5 4.3 1.5 2.2-.1 2.1-.6 8.7-5.3 4.3-1.4 4.4 .6 8.6 3.3 4.3 .3 2.2-.7 4.3-3 8.7-7.4 4.3-2 6.5-2.2 4.3-2.6 8.7-8.5 6.5-5.7 28.1-20.7 8.7-8.2 15.1-16.6 6.5-5.4 4.3-2.6"/>
<path class="c0" d="M287.5 387l6.5-2.1 6.5-.2 4.3 1.4 10.9 5 6.4 2.1 4.4 .7 13 .5 6.4 1.9 6.5 3.4 6.5 4.9 6.5 6.4 8.7 9.6 .7 1.3"/>
<path class="c1" d="M86.3 481.4l4.3-2.1 8.7-7.5 2.1-1.2 2.2-.4 2.2 .3 2.1 1 8.7 6.2 2.2 .8 2.1 .1 2.2-.7 2.1-1.3 8.7-7.1 2.2-1.2 2.1-.6 2.2 .1 2.2 .7 6.4 2.6 2.2 .1 2.2-.6 4.3-3.3 8.7-9.3 4.3-3.2 6.5-3.6 4.3-3.4 15.2-15.1 6.4-5.8 6.5-5 13-8.8 6.5-5.3 6.5-6.7 15.1-18.4 4.4-4.2 4.3-2.7"/>
<path class="c0" d="M259.4 375.8l2.2-.6 2.1-.1 4.4 1 4.3 1.8 10.8 6.1 6.5 2 6.5-.1 13-3.8 4.3-.6 4.3 .2 4.3 .8 8.7 2.9 6.5 3.4 4.3 2.7 6.5 5 4.3 3.8 8.7 9 10.8 13.1 2.2 2.1 .7 1.4"/>
<path class="c1" d="M86.3 474.2l6.5-4.8 2.2-.5 2.1 .5 2.2 1.4 6.5 6.2 2.1 1.4 2.2 .7 2.2-.2 2.1-1.2 2.2-2.1 6.5-8 2.1-2.1 2.2-1.3 2.2-.3 2.1 .7 2.2 1.5 6.5 6.4 2.2 1.5 2.1 .8 2.2-.2 2.1-1.1 2.2-1.9 6.5-7.4 2.2-1.8 2.1-1 2.2 .1 2.2 1 2.1 1.9 6.5 7.3 2.2 1.8 2.1 .9 2.2-.2 2.2-1.2 2.1-2.2 6.5-8.7 2.2-2.2 2.2-1.4 2.1-.8 2.2-.2 6.5 .6 2.1-.3 4.4-2.3 10.8-10.2 21.6-18.7 8.7-5.9 15.1-8.5 10.8-6.8 6.5-4.9 13-11"/>
<path class="c0" d="M300.5 389.5l4.3-3 4.4-2.1 4.3-1.2 4.3 .2 4.3 1.9 15.2 10.9 6.5 2.9 6.5 1.2 4.3-.1 10.8-1.2 4.4 0 5 .7"/>
<path class="c1" d="M86.3 472.6l2.2-1.9 6.5-7.8 4.3-4.1 4.3-2 2.2-.3 8.6 .2 4.4-1.2 4.3-2.8 8.6-7 15.2-10.7 28.1-17.1"/>
<path class="c0" d="M175 417.9l6.5-4.6 6.5-5.4 17.3-16.7 6.5-5.7 4.3-3.1 6.5-3.3 4.3-1.4 4.4-.3 13 1.3 6.4-.3 6.5-1.3 15.2-5.3 4.3-.6 8.7 .4 8.6 1.5 4.3 1.5 4.4 2.1 4.3 2.7 4.3 3.4 6.5 6.2 4.3 4.9 8.7 11.8 8.7 14.3 8.6 16.8 6.5 15.2 6.5 19.7 2.2 5.3 2.1 2.8 2.2 .1 6.5-4.9 .7-1.1"/>
<path class="c1" d="M86.3 473.2l6.5-3.1 2.2-.6 10.8 .4 2.1-.7 4.4-2.8 12.9-14 13-10.1 13-12.3 8.7-9.7 15.1-18.7 6.5-7 6.5-5.8 6.5-4.4"/>
<path class="c0" d="M194.5 384.4l4.3-1.6 4.3-.3 8.7 .9 6.5 1.6 6.5 2.7 6.5 3.7 6.5 4.8 4.3 3.7 10.8 11.3 8.7 11.1 8.6 12.9 10.8 17.8 6.5 9.2 4.4 7.8 2.1 3.2 2.2 .6 2.1-2.3 6.5-14.5 2.2-4 2.2-2.3 2.1-.5 2.2 1.5 2.2 3.2 6.4 13.4 2.2 3.4 2.2 1.8 2.1 0 2.2-1.7 2.2-3.2 6.5-12.3 2.1-2.8 2.2-1.2 2.1 .6 2.2 2.3 8.7 16.5 2.1 2.8 2.2 1.3 2.2-.4 2.1-2 8.7-13.8 .7-1.9"/>
<path class="c1" d="M86.3 471l4.3-.3 8.7 .5 2.1-.6 2.2-1.3 4.3-4.6 8.7-11 8.6-7.6 26-24.7"/>
<path class="c0" d="M151.2 421.4l6.5-5.4 4.3-2.7 10.8-5.5 8.7-3.2 4.3-.9 6.5 .1 6.5 1.5 6.5 2.7 6.5 3.8 6.5 5 6.5 6.2 4.3 4.7 21.6 28.2 4.4 7.6 4.3 9.4 2.2 3.3 2.1 1.1 2.2-.8 2.2-2.3 6.4-9.8 4.4-5.3 2.1-1.4 2.2-.3 2.2 .8 2.1 1.7 10.8 13.9 2.2 1.7 2.2 .8 2.1-.2 2.2-1.2 2.2-1.9 8.6-10.1 2.2-1.7 2.1-.8 2.2 .1 2.2 1.1 2.1 1.9 8.7 11.7 2.2 2.3 2.1 1.5 2.2 .6 2.1-.5 2.2-1.5 2.2-2.3 8.6-12.9 2.2-2.5 2.2-1.7 2.1-.8 2.2 .2 2.2 1.1 4.3 3.2 .7 1.2"/>
<path class="c1" d="M86.3 482.9l8.7-6 2.1-.8 2.2-.3 2.1 .3 6.5 2.5 2.2 .4 2.2-.1 2.1-.8 2.2-1.3 6.5-5.2 2.1-1.2 2.2-.6 2.2 0 2.1 .5 6.5 2.8 2.2 .4 2.2-.1 2.1-.8 8.7-5.5 2.1-.6 2.2-.1 4.3 1.8 6.5 3.8 2.2 .6 2.1-.2 2.2-.9 6.5-4.9 4.3-2.1 2.2-.2 2.2 .3 6.5 1.7 2.1-.2 2.2-.7 4.3-2.9 8.7-7.4 10.8-7.5 21.6-19.4 8.7-7.2 15.1-11 10.8-7"/>
<path class="c0" d="M281 403l17.3-12 8.7-4.8 4.3-1.2 2.2-.1 10.8 1.3 4.3 1.2 6.5 2.5 6.5 3.5 6.5 4.4 10.8 9.4 13 14.4 2.2 1.9 .7 1.3"/>
<path class="c1" d="M86.3 476.5l2.2-1.2 6.5-5"/>
<path class="c2" d="M95 470.3l4.3-2.4 2.1-.7 4.4-.1 4.3 1.5 10.8 5.7 4.3 .9 2.2-.1 4.3-1.2 10.9-5.1 4.3-.8 2.1 .2 4.4 1.5 8.6 5.5 2.2 1 2.2 .5 2.1 0 2.2-.5 2.1-1.1"/>
<path class="c1" d="M172.8 475.1l4.4-3.8 13-14.9 17.3-14.7 32.4-31.4 6.5-5.5 6.5-3.7 6.5-2 6.5-1.2 8.6-1.3 8.7-.6 13 .4 25.9 4.1 13 1 13-.6 26.7-4.1"/>
<path class="c1" d="M86.3 459.4l4.3-.6 2.2 .2 2.2 .7 8.6 4.9 2.2 .8 2.1 .3 2.2-.2 2.2-.8 2.1-1.2 8.7-6.4 4.3-2.3 13-2.9 13-5.9 19.4-5.8 8.7-3.7 8.7-5.6 17.3-14 4.3-2.9 4.3-2.1 6.5-2 15.2-2.2 6.5-2.3 6.4-3.9 15.2-12.9 6.5-4.4 4.3-1.2 2.2 0 4.3 1.3 4.3 2.3"/>
<path class="c0" d="M287.5 386.6l10.8 6.9 6.5 3 6.5 1 10.8-.8 4.4 .4 6.5 1.9 4.3 2 4.3 2.7 8.7 7.2 6.5 7 6.5 8.5 8.6 12.8 2.2 2.6 .7 1.7"/>
<path class="c1" d="M86.3 471.6l4.3-1.3 2.2 .1 2.2 1 2.1 1.6 6.5 6.2 2.2 1.3 2.1 .4 2.2-.6 2.2-1.4 6.5-6.3 2.1-1.6 2.2-.9 2.1 .1 2.2 .9 8.7 8.1 2.1 1.3 2.2 .4 2.2-.5 2.1-1.4 6.5-6.7 2.2-1.8 2.1-1.1 2.2-.1 2.2 .7 8.6 6.6 2.2 .5 2.1-.3 2.2-1.3 2.2-2.1 6.5-8.9 2.1-2.4 2.2-1.7 2.2-.9 2.1 0 8.7 2.6 2.1 0 2.2-.7 4.3-3 8.7-8.1 13-9.6 6.5-3.8 10.8-5.1 4.3-2.9 4.3-4 10.9-12.1 4.3-3.7 4.3-1.9 2.2-.4 8.6-.2 4.4-1 4.3-2.4 10.8-9.7 4.3-2.6"/>
<path class="c0" d="M311.3 390.9l2.2-.6 2.2 .1 2.1 .7 2.2 1.4 8.6 7.7 4.4 2.3 4.3 .4 10.8-3.1 6.5 0 8.7 1.9 11.5 4.8"/>
<path class="c1" d="M86.3 476.5l6.5-5 2.2-1.3 2.1-.6 2.2-.1 2.1 .5 6.5 2.3 2.2 .2 2.2-.5 2.1-1.3 2.2-2 8.6-10 2.2-2 2.2-1.4 6.5-3 4.3-2.5 32.4-28.9"/>
<path class="c0" d="M172.8 420.9l10.9-10.4 17.3-18.8 4.3-3.8 2.2-1.3 2.1-.8 4.4-.5 10.8 .9 6.5-.1 13-2.2 6.4 .8 4.4 1.4 4.3 2 8.7 5.8 8.6 8.1 8.7 10.4 8.6 12.8 8.7 15.2 6.5 13.6 6.5 17.4 2.1 4.5 2.2 2.4 2.1 .1 2.2-1.6 4.3-5.5 6.5-9.5 2.2-2.4 2.2-1.6 2.1-.5 2.2 .6 2.1 1.5 2.2 2.4 8.7 12.4 2.1 2.3 2.2 1.4 2.2 .4 2.1-.7 2.2-1.6 6.5-7.4 .7-1.6"/>
<path class="c1" d="M86.3 479.8l2.2-1.8 6.5-7.4 2.1-1.8 2.2-1 2.1-.1 2.2 .7 2.2 1.5 6.5 6.3 2.1 1.6 2.2 .7 2.2-.1 2.1-1.1 2.2-1.8 8.6-11 2.2-2.1 2.2-1.5 2.1-.7 2.2-.1 8.6 2.9 2.2 .3 2.2-.2 2.1-.8 4.4-2.9 6.5-5.7 4.3-3.1 10.8-4.8 8.7-5.4 8.6-6.8 17.3-15.5 6.5-4.8 8.7-4.9 17.3-7.6 6.5-4 6.5-5.3 15.1-14.8 4.3-3.1 4.4-2.4 6.5-2.1 6.4 .1 4.4 1.4 10.8 6.4 6.5 2.7"/>
<path class="c0" d="M320 379.7l8.6 2.3 4.4 1.9 6.5 4.3 6.4 5.9 6.5 7.5 6.5 9.3 13 22.7 2.2 3.1 .7 2.1"/>
<path class="c1" d="M86.3 480.2l4.3-1.7 2.2-1.7 8.6-10.5 2.2-2.2 2.2-1.4 2.1-.6 2.2 .2 2.2 .9 6.5 3.7 2.1 .6 2.2-.1 2.1-.7 2.2-1.3 8.7-7.6 4.3-2.5 4.3-.8 8.7-.3 4.3-1.5 32.5-21.6 28.1-17.6 23.8-17.4 8.6-5.6 8.7-4.4 13-4.9 6.5-1.3 6.5 .5"/>
<path class="c0" d="M285.4 380.4l2.1 .7 4.4 2.3 6.4 5.3 4.4 4.8 4.3 5.9 6.5 10.9 6.5 13.1 6.5 15.7 4.3 13.1 6.5 22.6 2.2 3.9 2.1 .7 2.2-1.5 4.3-5.3 6.5-9.2 2.2-2.3 2.1-1.4 2.2-.4 2.2 .5 2.1 1.6 8.7 10.1 .7 1.5"/>
<path class="c1" d="M86.3 477.3l6.5 4.1 2.2 .9 2.1 .3 2.2-.4 2.1-1.2 2.2-1.8 8.7-9.7 2.1-1.9 2.2-1.3 2.2-.5 2.1 .3 2.2 .9 8.6 5.6 2.2 .7 2.2 0 2.1-.8 2.2-1.7 2.2-2.4 6.4-8.8 4.4-4.7 4.3-3.1 8.7-4.7 4.3-3.5 6.5-6.1 8.6-9.4 19.5-23.7 13-12.8"/>
<path class="c0" d="M218.3 391.6l8.6-8.1 13-13.4 4.4-2.6 4.3-.8 6.5 .3 10.8 1.5 6.5 2 6.5 3.9 6.5 5.8 4.3 5.1 4.3 5.9 6.5 10.5 6.5 12.5 6.5 14.5 6.5 16.1 8.6 25.5 2.2 4.7 2.2 1.7 2.1-1 6.5-10.1 2.2-2.5 2.1-.9 2.2 .9 2.2 2.4 6.5 9.8 2.1 1.4 2.2-.4 2.2-2.1 6.5-10.5 2.1-2.4 2.9-1.8"/>
<path class="c1" d="M86.3 471.5l6.5-4.6 2.2-.9 2.1-.4 6.5 0 2.2-.5 2.1-1.1 2.2-1.7 13-15.9 19.5-18 6.4-6.6 6.5-7.6 8.7-11.8"/>
<path class="c0" d="M164.2 402.4l6.5-9.1 6.5-7.8 4.3-4.2 4.3-3 2.2-.8 4.3-.3 15.2 2.1 6.5 1.7 8.6 4 8.7 5.9 8.6 7.9 8.7 9.7 8.6 11.7 15.2 24.4 8.6 12 2.2 4.1 4.3 9.9 2.2 3.5 2.2 .7 2.1-2.1 6.5-11 2.2-1.5 2.1 .5 2.2 2.4 6.5 12 2.2 2.6 2.1 .7 2.2-1.4 2.1-3.1 6.5-12 2.2-1.9 2.2 .1 2.1 2 6.5 11 2.2 2.4 2.1 .5 2.2-1.5 2.2-3.2 4.3-8.4 2.2-3.5 2.1-1.8 2.2 .1 2.2 2.2 6.5 11.9 2.1 3 2.9 2.7"/>
<path class="c1" d="M86.3 478l8.7-6.3 2.1-1.1 4.3-.6 6.5 .7 2.2-.3 2.2-.8 4.3-3.2 6.5-6.6 4.3-3.4 4.3-2 6.5-2.4 4.4-2.5 34.6-25.7 6.5-5.9 15.1-15.4 6.5-5.6 6.5-4.5 6.5-3.5"/>
<path class="c0" d="M218.3 388.9l8.6-3.4 15.2-4.3 4.3-.7 4.3 .1 6.5 1.4 6.5 2.3 4.4 2.2 8.6 5.5 6.5 5.3 8.7 8.7 6.4 7.6 6.5 8.6 6.5 9.6 10.8 17.6 6.5 9.6 6.5 12 2.2 3.4 2.2 1.3 2.1-1 6.5-8.2 2.2-1.4 2.1 .1 2.2 1.7 6.5 9.8 2.2 2.4 2.1 1 2.2-.6 2.2-2.1 4.3-5.7 .7-1.9"/>
<path class="c1" d="M86.3 481.8l4.3-2.3 8.7-6.7 4.3-1.6 2.2 0 2.1 .6 8.7 5.1 2.2 .8 2.1 .2 2.2-.3 4.3-2.4 2.2-1.9 8.6-9.7 4.4-3.3 4.3-1.5 10.8 .3 4.3-1.1 2.2-1.1 4.3-3.2 26-21.9 8.6-5.8 15.2-7.7 6.5-3.9 6.5-5.3 6.5-6.8"/>
<path class="c0" d="M237.8 402.3l8.6-9.7 6.5-6.3 6.5-4.3 4.3-1.6 4.4-.6 4.3 .3 8.6 3.4 10.9 2.6 6.4 2.7 8.7 5.6 6.5 5.7 8.6 9.5 6.5 8.7 8.7 13.6 10.8 19 4.3 8.9 6.5 15.2 2.2 2.9 2.2 1.1 2.1-.1 9.4-4.4"/>
<path class="c1" d="M86.3 472.5l8.7-2.9 4.3-.8 4.3 .3 8.7 1.8 4.3-.6 4.3-1.9 8.7-5.4 4.3-2 13-3.2 4.3-1.6 13-7.3 15.1-7.1 10.9-5.8 10.8-6.8 17.3-11.9 10.8-6.5 28.1-13.6"/>
<path class="c0" d="M257.2 397.2l19.5-10.4 6.5-2.3 6.5-1.6 6.5 0 10.8 1.5 4.3 1.1 6.5 2.5 6.5 3.6 6.5 4.6 6.5 5.7 6.5 6.7 10.8 13.5 15.2 23.2 4.3 5.1 .7 1.4"/>
<path class="c1" d="M86.3 477.4l6.5-3.3 2.2-.5 2.1 0 4.3 1.5 8.7 4.6 2.2 .4 2.1-.2 4.4-2 10.8-9 2.1-1.1 2.2-.4 2.2 .1 2.1 .8 10.8 7.1 2.2 .9 2.2 .3 4.3-1 8.7-5.4 4.3-1.5 4.3 .5 10.8 5.4 2.2 .6 2.2 .2 2.1-.6 2.2-1.3 2.2-1.8 8.6-9.8 4.3-3.8 4.4-2.5 6.5-2.9 4.3-2.7 13-10.6 21.6-18.9 10.8-8.9 6.5-4.6 10.8-6.3"/>
<path class="c0" d="M287.5 400.7l23.8-13.1 6.5-2.5 4.3-.3 6.5 1.6 17.3 7 8.7 2.2 4.3 1.7 6.5 3.9 8.7 6.8 .7 1.1"/>
<path class="c1" d="M86.3 471.2l4.3 1 8.7 3.5 4.3 .4 2.2-.6 4.3-3.1 8.7-9.3 4.3-3.3 4.3-1.3 10.8 .3 4.4-1.5 4.3-2.9 8.6-7 15.2-10.4 8.6-5.2 17.4-9.2 6.4-4.1 6.5-4.9 10.9-9.6"/>
<path class="c0" d="M220.5 404l8.6-7.6 6.5-4.9 6.5-3.7 4.3-1.4 4.3-.2 15.2 2.8 13 .9 6.5-.2 15.1-2 4.3 .3 4.4 1.2 6.5 3.7 6.4 5.7 6.5 7.8 4.4 6.3 8.6 15.5 21.7 45.4 2.1 1.6 2.2-.9 6.5-7.8 .7-1.5"/>
<path class="c1" d="M86.3 477.6l8.7-9 8.6-12.1 4.3-4.7 15.2-11 15.1-10.2 6.5-6.1 8.7-10.4"/>
<path class="c0" d="M153.4 414.1l6.5-8.2 4.3-4.6 2.2-1.6 2.1-.9 2.2-.4 2.1 0 4.4 .8 10.8 3.5 13 1.9 4.3 1.4 6.5 3.2 6.5 4.6 4.3 3.8 6.5 6.9 6.5 8.2 15.1 22.7 2.2 4.4 6.5 16 2.2 2.8 2.1 .2 2.2-1.8 6.5-8.3 2.1-2 2.2-.9 2.2 .3 2.1 1.6 8.7 11.3 2.2 1.6 2.1 .2 2.2-1.2 2.1-2.3 6.5-9.1 2.2-1.9 2.2-.6 2.1 .7 2.2 1.9 6.5 8.4 2.1 1.8 2.2 .4 2.2-1 2.1-2.2 6.5-10.3 2.2-2.6 2.2-1.3 2.1 .2 2.2 1.7 8.6 12.6 2.2 1.6 2.2 .2 2.1-1.2 2.2-2.4 6.5-8.9 2.2-1.6 2.1-.4 2.2 .4 .7 .6"/>
<path class="c1" d="M86.3 486l2.2-1.3 2.1-1.9 6.5-8.1 4.3-4.3 2.2-1 2.2-.2 6.5 2 2.1 .2 2.2-.4 2.2-1.4 4.3-5 8.6-12.4 10.9-10 8.6-8.8 6.5-7.3 10.8-13.2"/>
<path class="c0" d="M168.5 412.9l6.5-7.6 6.5-6.8 6.5-5.7 4.3-2.8 4.4-1.1 10.8-1.6 17.3-4.5 8.6-1.7 8.7-.5 6.5 1.1 6.5 2.7 4.3 2.8 4.3 3.4 4.4 4.2 4.3 5 6.5 8.8 6.5 10.5 6.5 12.1 6.4 14.2 8.7 22 2.2 4.3 2.1 3.2 2.2 1.5 2.2-.3 2.1-2.1 6.5-8.9 2.2-1.6 2.1-.2 2.2 1.2 2.2 2.6 6.5 10.5 2.1 2.3 2.2 .9 2.1-.7 2.2-2.2 6.5-10.9 2.2-2.9 2.1-1.6 2.2-.2 2.2 1.4 2.1 2.7 4.4 6.6 5 5.7"/>
<path class="c1" d="M86.3 464.5l8.7-6.7 10.8-6 19.4-16 10.9-9.7 15.1-15.6"/>
<path class="c0" d="M151.2 410.5l6.5-5.6 6.5-4.4 4.3-2.1 4.3-1.1 8.7-.6 6.5 .8 8.7 2.9 6.4 3.4 6.5 4.5 6.5 5.7 10.8 11.8 6.5 8.5 10.9 16.4 8.6 11.8 6.5 11 2.2 2.4 2.1 .6 2.2-.8 4.3-2.6 2.2-.6 2.1 .2 2.2 1 6.5 5.5 2.2 1.2 2.1 .3 2.2-.6 2.2-1.3 6.4-5 2.2-.5 2.2 .3 8.6 5.8 2.2 .4 2.2-.6 2.1-1.6 6.5-6.8 2.2-1.3 2.1-.2 2.2 .8 6.5 6 2.2 1.4 2.1 .4 2.2-.6 6.5-5.2 2.1-1.3 2.2-.2 2.2 .9 2.1 2 6.5 7.8 2.2 1.3 2.2 .2 2.1-.8 2.2-1.2 .7-1"/>
<path class="c1" d="M86.3 472.3l6.5-3.9 2.2-.4 2.1 .4 6.5 2.5 2.2 .1 2.1-.7 2.2-1.6 6.5-7 4.3-3.8 4.3-1.5 6.5-.5 4.4-1.7 4.3-3.3 26-23.4 6.4-4.6 13-8.1 6.5-5.1"/>
<path class="c0" d="M192.3 409.7l6.5-6.7 17.3-21.7 4.4-4.1 4.3-2.9 6.5-2.5 6.5-.7 8.6 .8 8.7 2.1 4.3 1.8 4.3 2.4 6.5 4.6 4.3 3.8 8.7 9.2 8.7 11.5 8.6 13.8 8.7 16 6.5 14.4 6.4 17.2 2.2 4.6 2.2 3.3 2.1 1.5 2.2 0 2.2-1.2 6.5-5.6 2.1-.9 2.2 .2 2.1 1.4 6.5 7.6 2.2 2 2.2 .8 2.1-.4 2.2-1.8 6.5-8.3 2.2-1.9 2.1-.8 2.9 .2"/>
<path class="c1" d="M86.3 486.3l2.2-1.2 2.1-2.1 8.7-13.5 2.1-2.7 2.2-1.8 2.2-.7 2.1 .3 6.5 3.1 2.2 .4 2.2-.4 2.1-1.4 2.2-2 6.5-8.4 4.3-4.6 4.3-2.8 28.2-15.8 8.6-5.9 8.7-8.1 17.3-19.1 6.5-5.5 4.3-2.6"/>
<path class="c0" d="M211.8 391.5l4.3-1.7 4.4-.9 4.3-.3 8.6 .9 6.5-.9 6.5-2.6 10.8-5.7 4.4-1.5 4.3-.3 2.2 .4 4.3 1.5 6.5 3.8 6.5 5.9 6.5 7.9 6.4 9.9 6.5 11.8 4.4 9.1 6.5 15.9 8.6 24.7 2.2 4.2 2.1 2.4 2.2 0 2.2-2.1 6.5-10.8 2.1-2.1 2.2-.3 2.1 1.4 2.2 3 6.5 11.2 2.2 2 2.1 .2 2.2-1.5 2.2-2.8 4.3-7.3 2.2-2.9 2.1-1.8 2.9-.9"/>
<path class="c1" d="M86.3 472.8l6.5-2.1 4.3-.3 4.3 1.1 6.5 2.9"/>
<path class="c2" d="M107.9 474.4l6.5 2 4.4-.2 4.3-1.4 8.6-4 4.4-.9 2.1 0 4.4 1.2 10.8 5.4 4.3 1 2.2 0 2.1-.3 4.4-1.7 6.4-4.9"/>
<path class="c1" d="M172.8 470.6l6.5-4.7 4.4-1.7 8.6-2.3 6.5-3.7 41.1-34.2 17.3-13.9 8.7-5.9 6.5-2.8 6.5-1.6 10.8-1.9 8.6-1 6.5-.4 13 .7 23.8 3.8 8.7 .9 10.8 .2 13.7-1.4"/>
<path class="c1" d="M86.3 471.8l2.2 1.8 6.5 7.1 2.1 1.5 2.2 .4 2.1-.6 2.2-1.5 6.5-6.9 2.2-1.5 2.1-.5 2.2 .5 2.2 1.5 6.4 6.9 2.2 1.7 2.2 .6 2.1-.4 2.2-1.5 2.2-2.4 6.5-8.5 2.1-1.9 2.2-1 2.1 .1 2.2 .9 4.3 2.8 2.2 .9 2.2 .1 2.1-.9 2.2-1.9 6.5-8.8 4.3-4.6 2.2-1.1 2.1-.5 6.5 .6 4.4-.5 4.3-2 15.1-8.6 10.9-7.5 21.6-18.4 6.5-4.4 6.5-3.4"/>
<path class="c0" d="M255.1 409.9l13-5.5 10.8-5.3 6.5-4 10.8-7.4 4.3-2.4 4.3-1.6 4.4-.2 21.6 5.1 6.5 2.6 6.5 3.6 8.6 6.4 6.5 5.9 13 14.2 2.2 2 .7 1.2"/>
<path class="c1" d="M86.3 480.4l4.3-1.7 8.7-6.7"/>
<path class="c2" d="M99.3 472l4.3-3.2 2.2-1.1 4.3-.9 4.3 .8 13 6.8 4.3 .7 2.2-.2 4.3-1.6 10.8-6.2 4.4-.8 2.1 .2 4.4 1.7 10.8 8.1 4.3 2.1 2.2 .5 2.1 .1 4.4-1.2 10.8-5.5 4.3-.9 2.2 .2 4.3 1.5 6.5 4.2"/>
<path class="c1" d="M211.8 477.3l6.5 3.7 4.3 .7 2.2-.3 4.3-1.9 10.8-7.6 4.4-1.8 2.1-.2 4.3 .7 10.9 5.3"/>
<path class="c0" d="M261.6 475.9l4.3 1.1 4.3-.6 4.3-2.1 10.9-7.6 4.3-1.5 2.2 0 2.1 .3 4.3 2 10.9 6.8 4.3 1.1 2.2 0 4.3-1.3 10.8-5.5 4.3-.7 2.2 .3 4.3 1.8 8.7 6.6 4.3 2.7 4.3 1.4 2.2 0 4.3-1.3 9.4-5.3"/>
<path class="c1" d="M86.3 473.6l6.5-2.3 2.2-.3 2.1 0 4.3 1.4"/>
<path class="c2" d="M101.4 472.4l8.7 4.2 4.3 .9 2.2-.1 4.3-1.4 10.8-5.9 4.4-.7 4.3 1 10.8 6 4.3 1.3 2.2 .1 4.3-1.1 8.7-4.4 4.3-1.2"/>
<path class="c1" d="M175 471.1l2.2 0 4.3 1.1 10.8 6.1 4.4 1.1"/>
<path class="c0" d="M196.7 479.4l4.3-.6 4.3-2 6.5-3.9 4.3-1.5 2.2-.2 4.3 .8 10.8 5.2 4.4 .8 2.1-.3 4.4-1.6 8.6-5.1 4.3-1.5 2.2-.2 4.3 1 10.8 5.8 4.4 1.1 4.3-.6 13-5.9 4.3-.3 4.3 1.3 10.9 6.3 4.3 1.1 4.3-.6 10.8-5.5 4.4-1.3 4.3 .3 4.3 1.7 8.7 4.4 4.3 .6 4.3-1 9.4-5.3"/>
<path class="c1" d="M86.3 470.6l4.3-2 2.2-.2 2.2 .7 6.4 5 2.2 1.1 2.2 .1 2.1-1 2.2-2.3 6.5-9.4 2.2-2.6 2.1-1.8 6.5-3 4.3-2.8 19.5-18.4 6.5-7.6 10.8-15.6"/>
<path class="c0" d="M168.5 410.8l6.5-8.9 4.3-5 4.4-3.8 6.5-3.9 4.3-1.5 2.2-.4 8.6-.4 8.7-2.8 4.3-.1 6.5 1.5 4.3 1.8 4.3 2.3 8.7 6.2 8.6 8.6 6.5 7.9 6.5 9.1 6.5 10.5 4.3 7.7 8.7 17.8 6.5 10.1 4.3 8.9 2.2 3.1 2.1 1.1 2.2-.3 10.8-5.5 4.4-1 2.1 .2 4.3 1.5 10.9 6.5 4.3 1 4.3-.8 10.8-6.5 2.2-.9 2.2-.5 2.1 0 4.4 1.5 11.5 8.1"/>
<path class="c1" d="M86.3 471.9l6.5-.5 6.5 .6 4.3-.1 4.3-1.7 10.9-8.1 4.3-2.2 4.3-.8 10.8-.5 6.5-2.3 21.7-11.8 21.6-13.7 21.6-11.4 8.7-5.9 15.1-11.9 6.5-4.5 8.7-4.2 10.8-3.6"/>
<path class="c0" d="M259.4 389.3l6.5-2.6 19.5-10 4.3-1.2 6.5 .2 6.5 1.9 15.1 6.7 6.5 2.5 6.5 1.2 13 1.2 8.6 2.5 6.5 3.1 4.4 2.6 10.8 7.6 .7 .8"/>
<path class="c1" d="M86.3 474.4l10.8-10.7 6.5-9 4.3-5.2 15.2-14 6.5-6.6 6.5-8.1 10.8-15"/>
<path class="c0" d="M146.9 405.8l4.3-4.9 2.2-1.9 2.1-1.3 2.2-.6 2.2 0 8.6 2.1 4.3 .7 10.9-1.1 6.5 .5 8.6 2.2 6.5 2.6 4.3 2.3 8.7 5.5 6.5 5.1 6.5 6 6.5 6.7 15.1 18.2 8.7 8.3 2.1 2.9 6.5 12.8 2.2 2.9 2.1 .3 2.2-2.5 6.5-12.3 2.2-1.7 2.1 .7 2.2 2.8 6.5 13.6 2.1 2.6 2.2 .2 2.2-2 6.5-12.8 2.1-2.9 2.2-.9 2.2 1.3 2.1 3.2 4.3 8.2 2.2 2.8 2.2 .8 2.1-1.4 2.2-3.4 6.5-13.4 2.2-2.1 2.1 .1 2.2 2.2 6.5 11.4 2.1 2 2.2 0 2.2-2.1 6.5-11.6 2.1-2.4 2.2-.4 2.2 1.7 4.3 6.3 .7 2.4"/>
<path class="c1" d="M86.3 472.8l4.3-2.1 2.2-.3 2.2 .5 6.4 4.2 2.2 .9 2.2 .1 2.1-.8 2.2-1.7 6.5-6.2 2.2-1.1 2.1-.2 2.2 .8 8.6 7.6 2.2 .9 2.2 0 2.1-.9 6.5-5.3 2.2-1.2 2.1-.3 2.2 .5 2.2 1.4 6.5 5.5 2.1 .8 2.2-.3 2.2-1.3 2.1-2.2 6.5-8.5 2.2-2.1 2.1-1.3 6.5-2.1 2.2-1.1 4.3-3.7 13-14.4 21.6-21.4 17.4-21.7 6.4-6.8 6.5-4.7 6.5-2.9 4.4-.7 6.4 0"/>
<path class="c0" d="M274.5 380.7l6.5 .8 4.4 1.2 4.3 2 4.3 2.6 4.3 3.2 4.4 4 8.6 9.8 8.7 12.6 6.5 11.1 6.5 12.8 8.6 19.6 8.7 16.4 2.1 2 2.2 .2 6.5-3.3 2.2-.9 2.1-.3 2.2 .3 2.2 .9 4.3 2.5 .7 .9"/>
<path class="c1" d="M86.3 474l8.7 5 2.1 .4 2.2-.5 4.3-2.9 6.5-6.7 4.3-3.7 4.4-1.9 8.6-1.2 4.3-1.8 4.4-3.4 8.6-8.1 15.2-12 21.6-21.7 6.5-5.2 13-9"/>
<path class="c0" d="M201 401.3l6.5-3.9 6.5-2.7 6.5-1.8 6.4-.6 13 1 6.5 1.3 8.7 3.6 6.5 4 6.5 5.1 6.4 6.2 6.5 7.4 6.5 8.5 6.5 9.7 8.7 13.9 4.3 9.2 4.3 10.5 2.2 4.2 2.2 2.1 2.1-.5 2.2-2.3 6.5-8.8 2.1-1.4 2.2 0 2.2 1.6 6.5 8.8 2.1 2 2.2 .6 2.1-1 2.2-2.4 4.3-6.4 2.2-2.6 2.2-1.3 2.1 .3 2.2 1.7 6.5 8.5 2.2 1.6 2.1 .5 2.2-.4 .7-.6"/>
<path class="c1" d="M86.3 468.9l4.3-1.3 2.2 .1 2.2 .8 6.4 3.7 2.2 .3 2.2-.6 2.1-1.6 2.2-2.4 6.5-8.8 4.3-4.2 2.2-1.3 6.5-2.2 4.3-1.9 13-8.9 8.6-7 15.2-14.6"/>
<path class="c0" d="M170.7 419l6.5-5.1 13-9 4.3-3.6 10.8-10.2 4.3-3 4.4-1.3 4.3-.2 10.8 1.4 8.7 .4 4.3 .7 6.5 2.4 4.3 2.4 4.3 3.2 4.4 3.9 4.3 4.6 6.5 8.2 8.6 13.4 8.7 16 4.3 9.6 6.5 18.3 2.2 4.7 2.1 2.5 2.2 .6 2.2-.7 6.5-4.4 2.1-.9 2.2 0 2.1 .9 6.5 5.1 2.2 1.2 2.2 .3 2.1-.7 2.2-1.5 4.3-4 2.2-1.5 2.1-.5 2.2 .6 2.2 1.6 6.5 7.2 2.1 1.3 2.2 .1 2.2-1.2 6.5-7.6 2.1-2 2.9-1.7"/>
<path class="c1" d="M86.3 473.1l10.8 4.4 2.2 .3 2.1-.2 2.2-.8 2.2-1.5 6.5-6.1 4.3-2.6 2.2-.5 2.1 .1 6.5 1.5 4.3-.1 4.4-2.1 10.8-8.2 4.3-1.9 8.7-2.3 4.3-1.8 10.8-6.1 6.5-4.3 19.5-16.5 6.5-4.7 6.5-3.7 12.9-5.8 6.5-3.9 6.5-5.4 10.8-10.7 6.5-5.4 4.4-2.6 6.5-2.1"/>
<path class="c0" d="M268.1 380.1l4.3-.2 2.1 .3 8.7 3.5 6.5 1.4 6.5-.5 13-3 4.3-.1 4.3 .9 4.3 2.2 15.2 10.7 10.8 3.6 6.5 4 4.3 3.7 4.4 4.7 10.8 14 .7 1.6"/>
<path class="c1" d="M86.3 482.9l6.5-6.6 2.2-1.3 2.1-.2 2.2 1 2.1 2.1 4.4 5.3 2.1 2 2.2 .9 2.2-.4 2.1-1.6 6.5-8.5 2.2-2.1 2.1-1.1 2.2 .3 2.2 1.4 6.5 6.8 2.1 1.2 2.2 0 2.2-1.3 2.1-2.3 6.5-8.5 2.2-1.5 2.1-.3 2.2 .9 6.5 4.8 2.2 .8 2.1-.4 2.2-1.6 2.1-2.8 6.5-10.4 2.2-2.3 2.2-1.3 2.1-.3 6.5 .7 2.2-.6 4.3-3 19.5-19.3 19.5-24.2"/>
<path class="c0" d="M237.8 409.2l6.5-7 4.3-3.7 15.1-10.1 10.8-8 4.4-1.8 4.3-1.1 4.3-.7 4.4 .1 6.4 1.6 15.2 7.9 6.5 2.4 6.5 .9 8.6-.3 4.4 .3 4.3 1.2 4.3 2.1 6.5 4.9 6.5 6.9 13 18.1 .7 1.7"/>
<path class="c1" d="M86.3 470.3l2.2 .4 2.1 .9 2.2 1.6 8.6 9.3 2.2 1.5 2.2 .6 2.1-.3 2.2-1.1 8.7-7.6 2.1-1 2.2-.3 2.1 .6 2.2 1.4 6.5 6.1 2.2 1.5 2.1 .8 2.2-.1 2.2-.9 2.1-1.7 6.5-6.9 2.2-1.7 2.1-1 2.2 0 2.2 .7 6.5 4.2 2.1 .7 2.2 .1 2.1-.7 2.2-1.4 2.2-2.2 6.5-8.5 4.3-4.4 2.2-1.2 2.1-.4 8.7 .6 2.1-.5 4.4-2.5 10.8-10.1 21.6-15.3 8.7-6.8 8.6-7.9 13-12.7 6.5-5.3 4.3-2.7 6.5-3 13-4"/>
<path class="c0" d="M300.5 389.1l19.5-6.7 4.3-.2 6.5 .6 6.5 1.4 6.5 2.3 21.6 11.2 4.4 1.2 5 .7"/>
<path class="c1" d="M86.3 474.7l4.3-2.1 2.2-.4 2.2 .4 2.1 1.3 2.2 2 6.5 6.6 2.1 1.3 2.2 .4 2.2-.6 2.1-1.5 8.7-10 2.1-1.8 2.2-.9 2.2 0 2.1 1 2.2 1.7 6.5 6.7 2.2 1.5 2.1 .7 2.2-.3 2.1-1.2 2.2-2 6.5-7.7 2.2-1.8 2.1-1.1 2.2-.1 2.2 .8 8.6 7.2 2.2 1 2.1 .3 2.2-.8 2.2-1.8 2.1-2.6 8.7-12.5 4.3-3.5 6.5-2.6 4.3-2.9 21.7-22.5 8.6-9.8 15.2-19.4 6.5-6.8"/>
<path class="c0" d="M261.6 390.9l4.3-3.4 2.2-1.2 4.3-1 2.1 .3 8.7 2.4 4.3 .5 15.2-.9 10.8 .7 6.5 1.3 6.5 2.3 6.5 3.4 6.5 4.5 6.4 5.4 4.4 4.3 10.8 12.6 10.8 15 2.2 2.3 .7 1.6"/>
<path class="c1" d="M86.3 481.6l4.3-3 6.5-6.2 2.2-1 2.1-.2 2.2 .5 4.3 1.9 2.2 .4 2.2-.5 2.1-1.7 2.2-2.7 8.6-12.9 10.9-10.1 6.5-7.7 21.6-30.7 8.6-10.4"/>
<path class="c0" d="M172.8 397.3l6.5-5.8 6.5-4.2 4.4-1.5 8.6-.9 6.5-1.7 4.3-2 13-7.3 6.5-2.8 4.3-1.1 4.4-.4 6.5 .4 4.3 1 4.3 1.7 4.3 2.4 4.4 3 4.3 3.6 8.6 9.4 8.7 12 8.7 14.7 8.6 17.4 6.5 15.5 6.5 20.2 2.2 5.5 2.1 2.8 2.2 0 2.1-1.8 8.7-11.5 2.2-2.1 2.1-1.1 2.2 .1 2.2 1.2 2.1 2.2 6.5 9.1 2.2 2.3 2.1 1.2 2.2 0 2.2-1.2 2.1-2.4 8.7-13.2 2.2-2 2.1-1 2.9 0"/>
<path class="c1" d="M86.3 475.7l6.5 4.2 2.2 .8 2.1 .1 2.2-.8 2.1-1.6 6.5-5.8 2.2-1.1 2.2-.2 2.1 .6 2.2 1.4 6.5 5 2.1 .8 2.2 0 2.2-.9 2.1-1.5 6.5-5.4 2.2-.9 2.2 0 2.1 .9 8.7 6.7 2.1 .7 2.2-.2 2.2-1.2 8.6-9.4 2.2-1.6 2.1-.6 2.2 .1 6.5 2.3 2.2 .2 2.1-.7 4.4-3.6 6.5-7.4 2.1-1.9 2.2-1.5 10.8-5.9 10.8-7.7 8.7-6.8 8.6-8 19.5-20.2 6.5-5.9 4.3-3.2 4.3-2.4 6.5-2 13-2.2 8.7-.4"/>
<path class="c0" d="M302.7 388.5l15.1-1.2 6.5 .1 8.7 1.1 8.6 2.6 8.7 4.3 6.5 4.3 6.5 5.3 10.8 9.8 .7 1.1"/>
<path class="c1" d="M86.3 473.5l2.2 1.2 2.1 1.8 6.5 6.4 2.2 1.2 2.1 .3 2.2-.6 2.2-1.6 6.5-7 2.1-1.8 2.2-1.2 2.2-.2 2.1 .5 6.5 4 2.2 1 2.1 .2 2.2-.6 2.2-1.5 8.6-9.4 2.2-1.4 2.1-.4 2.2 .5 2.2 1.5 6.5 6.5 2.1 1.7 2.2 .9 2.2 0 2.1-.7 6.5-4.5 2.2-1.2 2.1-.6 2.2 .2 2.2 .9 6.5 4.7 2.1 .8 2.2-.2 2.2-1.3 2.1-2.3 6.5-9.5 4.3-5.4 13-9.9 8.7-8.7 21.6-26.2 8.7-9.3"/>
<path class="c0" d="M261.6 402.3l6.5-5.5 6.4-4 21.7-8.9 17.3-4.1 6.5-.3 4.3 .8 4.3 1.7 10.9 6.2 10.8 3.7 4.3 2.1 4.3 2.9 4.4 3.7 10.8 11.3 .7 1.3"/>
<path class="c1" d="M86.3 473.3l4.3-.3 2.2 .4 8.6 4 2.2 .7 2.2 0 4.3-1.4 8.7-5.7 2.1-.7 2.2-.1 4.3 1.3 6.5 3.4 2.2 .7 2.1 .1 4.4-1.5 8.6-5.7 2.2-.7 2.1-.1 4.4 1.4 6.5 3.7 2.1 .7 2.2 .1 2.1-.6 2.2-1.2 6.5-5.5 4.3-3 10.9-3.8 4.3-3.3 10.8-12.4 17.3-18.3 6.5-8.5 13-18.9 4.3-5.3 4.3-4.1 4.4-3 6.5-2.9 4.3-.7 4.3 .1"/>
<path class="c0" d="M276.7 382.2l6.5-.6 10.8-2.4 4.3 .1 2.2 .4 4.3 1.7 10.9 6.1 12.9 4.2 6.5 4 6.5 5.8 4.3 4.9 8.7 12.4 6.5 11.4 10.8 22.4 2.2 3.4 .7 2.1"/>
<path class="c1" d="M86.3 481.7l4.3-1.2 10.8-7.1 4.4-1.5 2.1 0 2.2 .6 10.8 5.8 2.2 .4 2.1-.3 2.2-1 2.2-1.6 8.6-9.2 4.4-3.6 4.3-2 6.5-1.5 4.3-2.2 4.3-3.7 8.7-9.6 8.6-8.7 19.5-17.4 6.5-6.3 6.5-7.5 17.3-22.2 4.3-4.7 4.4-3 4.3-1"/>
<path class="c0" d="M242.1 373.2l6.5 .6 17.3 5.2 10.8 1.4 4.3 1 6.5 2.7 6.5 4 6.5 5.5 6.5 6.8 6.5 8.2 6.5 9.6 6.5 11 8.6 16.5 4.4 9.2 6.4 16.5 2.2 4.2 2.2 2.3 2.1 .3 2.2-.9 8.7-7.2 2.1-.9 2.2 0 2.2 .8 4.3 2.8 .7 1.1"/>
<path class="c1" d="M86.3 470.8l4.3 .7 2.2 .9 10.8 7.2 2.2 1"/>
<path class="c2" d="M105.8 480.6l4.3 .8 4.3-1.1 10.8-7.2 4.4-1.8 2.1-.3 4.4 .9 10.8 6.3 4.3 1.4 2.2 0 4.3-1.4 10.8-7.4 4.3-1.7 2.2-.1 4.3 1.1 10.9 7 4.3 1.6 2.2 .1 4.3-1.2 8.6-5.3 4.4-2 4.3-.2 4.3 1.6"/>
<path class="c1" d="M222.6 471.7l10.8 7.5 4.4 1.6"/>
<path class="c0" d="M237.8 480.8l2.1 .1 4.4-1.2 10.8-6.6 4.3-1.3 2.2 .1 4.3 1.4 10.8 6.7 4.3 1.1 2.2-.1 4.3-1.8 10.8-7.5 4.4-1.5 2.1 0 4.4 1.3 10.8 6.4 4.3 1 2.2-.2 4.3-1.7 10.8-7.1 4.3-1 2.2 .2 4.3 1.8 8.7 6.1 4.3 2 4.4 .4 5-1.3"/>
<path class="c1" d="M86.3 478.4l8.7-9 2.1-1.5 2.2-.5 2.1 .2 2.2 1 8.7 7.7 2.1 1.5 2.2 .9 2.2 .1 2.1-.7 2.2-1.4 8.6-8.3 2.2-1.6 2.2-.8 2.1 0 2.2 .8 2.2 1.6 8.6 9.2 2.2 1.8 2.1 1 2.2 .3 2.2-.6 2.1-1.3 10.8-11.1 2.2-1.5 2.2-.8 2.1 0 2.2 .7 6.5 3.7 2.2 .8 2.1 .1 2.2-.6 2.2-1.3 2.1-2.1 8.7-10.4 4.3-3.9 4.3-2.3 8.7-3.3 4.3-2.7 6.5-4.8 21.6-17.8 8.7-5.9 10.8-6.4"/>
<path class="c0" d="M276.7 409.2l19.5-12 4.3-2.2 4.3-1.7 4.4-1 4.3-.2 6.5 .6 6.5 1.2 4.3 1.4 6.5 2.9 6.5 4.1 6.5 5.2 6.5 6.3 4.3 4.8 10.8 13.7 2.2 2.2 .7 1.4"/>
<path class="c1" d="M86.3 478l6.5-4.1 2.2-.7 4.3 .4 8.6 2.9 2.2 .2 2.2-.4 2.1-1 4.4-4.1 8.6-11 4.3-3.5 4.4-1.3 10.8 .4 2.1-.4 4.4-1.9 10.8-7.9 17.3-15 6.5-3.9 8.7-3.7"/>
<path class="c0" d="M196.7 423l6.4-3.1 4.4-3 6.5-6.2 12.9-14.6 4.4-3.7 4.3-2.4 2.2-.7 4.3-.4 4.3 .9 8.7 2.7 4.3 .1 4.3-1.3 13-7.2 4.3-1.1 2.2 0 4.3 .8 4.4 2.1 8.6 5.2 8.7 2.5 6.5 2.8 4.3 2.8 4.3 3.4 6.5 6.5 6.5 7.9 6.5 9.4 10.8 18.6 8.7 13.5 6.5 13.9 2.1 3.3 2.9 2"/>
<path class="c1" d="M86.3 471l2.2-1.7 6.5-7.4 2.1-1.9 2.2-1.1 2.1-.3 2.2 .3 6.5 2.9 2.2 .5 2.1 0 2.2-.7 10.8-7.1 4.3-1.4 6.5-.5 4.4-1.1 10.8-5.6 21.6-9.9 13-7.3 23.8-15.8 6.5-3.5 19.5-9.1 21.6-13.7 8.7-4.5"/>
<path class="c0" d="M268.1 382.1l6.4-2 6.5-.4 6.5 .4 10.8 1.8 4.4 1.2 4.3 1.9 4.3 2.7 4.4 3.4 6.4 6.4 6.5 8 6.5 9.7 4.4 7.3 8.6 17 10.8 26.1 4.4 8.8 2.1 2.9 2.2 1.5 2.2 .2 4.3-1.1 .7-.5"/>
<path class="c1" d="M86.3 481.1l4.3-1.3 2.2-1.4 2.2-1.8 8.6-9.1 4.3-3.1 4.4-1 10.8 1.9 4.3-.7 2.2-1 4.3-3.1 8.7-7.5 4.3-2.7 21.6-10.3 17.3-7.2 6.5-3.6 8.7-6.6 15.1-13.6 6.5-4.4 6.5-2.9 13-3.3 6.5-2.3 6.5-3.9 6.5-5.5"/>
<path class="c0" d="M261.6 386.7l10.8-9.8 4.3-2.5 4.3-1 2.2 0 4.3 1.2 15.2 8.9 6.5 2.3 6.5 .3 15.1-1.4 6.5 1.1 4.3 1.6 4.3 2.4 4.4 3 4.3 3.8 8.7 9.6 8.6 11.8 2.2 2.4 .7 1.6"/>
<path class="c1" d="M86.3 477.4l4.3-1 2.2 0 4.3 1.4 6.5 3.8 2.2 .9 2.1 .3 2.2-.3 2.2-1.1 2.1-2 8.7-11.4 4.3-4.3 2.2-1.3 2.1-.6 6.5-.5 2.2-.6 4.3-2.5 17.3-18.4 13-11.4 4.3-4.5 6.5-8.7 10.9-16.7 4.3-4.9 4.3-2.9"/>
<path class="c0" d="M205.3 390.7l2.2-.5 2.1 .2 8.7 2.4 4.3-.3 4.3-1.8 10.9-7 4.3-1.1 4.3 .5 8.7 2.9 8.6 2 6.5 2.7 8.7 5.5 6.5 5.7 8.6 9.5 6.5 8.7 8.7 13.5 6.5 11.7 4.3 9.4 6.5 17.1 2.1 4.6 2.2 2.6 2.2 .5 2.1-1 2.2-1.6 8.6-8.4 2.2-1.3 2.2-.6 2.1 .2 2.2 1.1 2.2 1.7 6.5 7 2.1 1.8 2.2 1.2 2.2 .5 2.1-.2 2.9-1.1"/>
<path class="c1" d="M86.3 478l2.2-1.8 6.5-7.2 2.1-1.5 2.2-.5 2.1 .5 6.5 4.2 2.2 .6 2.2-.3 2.1-1.4 8.7-10 2.1-1.7 2.2-.9 2.2-.3 6.5 .4 2.1-.5 2.2-1.1 10.8-8.9 13-6.8 6.5-4.5 4.3-3.9 10.8-11.1 6.5-5.3 4.4-2.6 8.6-4.1 4.3-2.8 6.5-6 10.8-12"/>
<path class="c0" d="M226.9 388.5l4.4-3.7 4.3-2.2 2.2-.5 4.3-.4 10.8 .5 4.3-1.2 6.5-3 2.2-.5 2.2 0 4.3 1.3 6.5 4.4 6.5 6.9 4.3 6.1 4.3 7.2 4.3 8.4 6.5 14.7 4.4 11.2 4.3 12.9 6.5 21.8 2.1 4.1 2.2 1 2.2-1.7 2.1-3.2 6.5-12 2.2-2.8 2.2-1.5 2.1 .1 2.2 1.7 2.1 2.9 6.5 12.3 2.2 3.2 2.2 1.9 2.1 .4 2.2-1.3 2.2-2.8 6.5-13 5-8.4"/>
<path class="c1" d="M86.3 466.1l4.3-.1 8.7 1.5 4.3-.5 4.3-2.1 8.7-6.3 4.3-2.5 4.3-1.6 8.7-2 6.5-2.5 15.1-7.9 8.7-5 26-17.3 30.3-19.1 10.8-7.4"/>
<path class="c0" d="M231.3 393.3l15.1-10.9 8.7-5.5 8.6-4.5 8.7-3.5 6.5-1.4 8.6-.8 26 1.6 6.5 1.1 10.8 3.5 8.7 2 4.3 1.6 4.3 2.3 6.5 4.7 6.5 6.3 13 15.6 .7 1.4"/>
<path class="c1" d="M86.3 475.5l4.3-1.3 4.4-.4 8.6 2 4.3 0 4.4-1.7 10.8-7.6 2.1-.8 2.2-.2 2.2 .4 2.1 1 10.9 9 4.3 2.2 2.1 .2 2.2-.2 2.2-.7 8.6-4.3 4.4-1 4.3 .2 6.5 1.1 2.1-.1 2.2-.6 2.2-1.3 2.1-2 8.7-11.1 4.3-4.9 13-10.4 21.6-21.8 10.9-12.3 19.4-24.5 6.5-7 4.3-3.5 4.4-2.5 6.5-2.4 4.3-.6"/>
<path class="c0" d="M289.7 368.4l10.8 1.9 10.8 1.2 4.4 1 8.6 3.2 8.7 5 6.5 4.8 4.3 3.8 8.6 8.8 8.7 10.5 10.8 15 2.2 2.4 .7 1.5"/>
<path class="c1" d="M86.3 482.9l2.2-2 6.5-9.6 2.1-2.8 2.2-2 2.1-1.1 2.2-.1 2.2 .7 6.5 3.7 2.1 .5 2.2-.3 2.2-1.1 2.1-1.8 6.5-7.2 4.3-3.9 4.4-2 6.5-1.1 4.3-1.6 21.6-14.2 23.8-13.9"/>
<path class="c0" d="M192.3 423.1l10.8-7.9 17.4-14.6 6.4-4.4 6.5-3.2 2.2-.6 4.3-.5 13 1.3 6.5 .1 4.3-.3 10.8-2.1 4.4-.5 6.5 0 4.3 .7 4.3 1.2 4.3 1.9 8.7 5.5 8.7 7.8 8.6 10.2 8.7 12.5 8.6 14.9 4.3 9.1 6.5 16.7 2.2 4.4 2.2 2.8 2.1 1 2.2-.4 2.2-1.2 8.6-7.3 2.9-1.7"/>
<path class="c1" d="M86.3 474.5l6.5-5 2.2-1.1 2.1-.5 2.2 .1 6.5 1.2 2.1-.4 2.2-1.3 4.3-4.5 8.7-10.8 13-13.8 6.5-6.3 12.9-11.6 6.5-6.7 6.5-8 10.8-15 4.4-5.2"/>
<path class="c0" d="M183.7 385.6l2.1-2 4.4-2.4 4.3-1.1 6.5-.1 17.3 3.7 4.3 .4 6.5-.2 4.3 .4 4.4 1.5 6.5 4.1 6.4 6.4 4.4 5.4 4.3 6.5 4.3 7.4 8.7 17.9 4.3 10.6 8.7 23.3 2.1 4.8 2.2 3.2 2.2 .8 2.1-1.3 6.5-8.8 2.2-2 2.1-.6 2.2 .9 2.2 2.1 6.5 9.7 2.1 2.3 2.2 1 2.1-.4 2.2-1.8 6.5-9.2 2.2-2.3 2.1-1.1 2.2 .4 2.2 1.7 6.4 8.8 2.2 2.2 2.2 .9 2.1-.6 2.2-2 6.5-10.4 2.2-2.8 2.1-1.4 2.2 .1 2.2 1.5 4.3 4.9 .7 1.8"/>
<path class="c1" d="M86.3 470.8l8.7 5.7 2.1 .8 2.2 .1 2.1-.6 2.2-1.2 2.2-2 8.6-10.8 4.4-4 2.1-1.1 2.2-.5 10.8 1.1 2.2-.3 4.3-2 10.8-8.1 13-8 8.6-6.3 8.7-7.3 17.3-16.1 8.7-6.8 8.6-5.2 10.8-4.3"/>
<path class="c0" d="M226.9 393.9l19.5-3 6.5 .4 4.3 1.2 4.4 1.9 6.5 4 4.3 3.4 6.5 6.4 4.3 5 8.7 11.9 6.4 10.5 8.7 15.6 6.5 10.4 4.3 8.4 2.2 3.4 2.1 1.2 2.2-1.2 6.5-7.7 2.2-1 2.1 .4 2.2 1.8 6.5 9.2 2.1 2.2 2.2 1 2.2-.6 2.1-1.9 6.5-9.1 2.2-2 2.2-.8 2.1 .7 2.2 1.9 6.5 7.3 .7 1.3"/>
<path class="c1" d="M86.3 475.1l6.5-6.2 2.2-1.7 2.1-1.1 2.2-.3 2.1 .3 6.5 2 2.2 0 2.2-.6 2.1-1.2 13-12.3 4.3-2.6 10.9-5.4 6.4-4.1 4.4-3.3 6.5-6.1 15.1-17.7 6.5-6 6.5-4 13-4.4 6.5-2.8"/>
<path class="c0" d="M207.5 397.6l8.6-4.5 13-8 6.5-2.2 4.3-.1 4.4 .9 10.8 4.5 4.3 1.4 4.3 .6 8.7-.3 4.3 .9 4.3 2 6.5 4.9 6.5 7 6.5 9.3 8.7 15.7 4.3 9.5 8.6 21.5 4.4 9.1 2.1 3.3 2.2 1.6 2.2-.7 2.1-2.7 4.4-6.6 2.1-2 2.2-.5 2.1 1.3 2.2 2.6 4.3 6.6 2.2 2.5 2.2 1.2 2.1-.5 2.2-2 6.5-9.2 2.2-1.7 2.1-.5 2.2 .5 .7 .7"/>
</g>
<path d="M374.80 500.11V284.62" stroke="#000" stroke-width="3" stroke-dasharray="11.2 5.15" fill="none"/>
<path d="M86.30 259.51v-9.30M86.30 44.02v9.30M115.15 259.51v-4.70M115.15 44.02v4.70M144.00 259.51v-4.70M144.00 44.02v4.70M172.85 259.51v-4.70M172.85 44.02v4.70M201.70 259.51v-4.70M201.70 44.02v4.70M230.55 259.51v-9.30M230.55 44.02v9.30M259.40 259.51v-4.70M259.40 44.02v4.70M288.25 259.51v-4.70M288.25 44.02v4.70M317.10 259.51v-4.70M317.10 44.02v4.70M345.95 259.51v-4.70M345.95 44.02v4.70M374.80 259.51v-9.30M374.80 44.02v9.30M403.65 259.51v-4.70M403.65 44.02v4.70M432.50 259.51v-4.70M432.50 44.02v4.70M461.35 259.51v-4.70M461.35 44.02v4.70M490.20 259.51v-4.70M490.20 44.02v4.70M519.05 259.51v-9.30M519.05 44.02v9.30M547.90 259.51v-4.70M547.90 44.02v4.70M576.75 259.51v-4.70M576.75 44.02v4.70M605.60 259.51v-4.70M605.60 44.02v4.70M634.45 259.51v-4.70M634.45 44.02v4.70M663.30 259.51v-9.30M663.30 44.02v9.30M86.30 252.32h4.70M663.30 252.32h-4.70M86.30 237.96h4.70M663.30 237.96h-4.70M86.30 223.59h9.30M663.30 223.59h-9.30M86.30 209.23h4.70M663.30 209.23h-4.70M86.30 194.86h4.70M663.30 194.86h-4.70M86.30 180.49h4.70M663.30 180.49h-4.70M86.30 166.13h9.30M663.30 166.13h-9.30M86.30 151.76h4.70M663.30 151.76h-4.70M86.30 137.40h4.70M663.30 137.40h-4.70M86.30 123.03h4.70M663.30 123.03h-4.70M86.30 108.66h9.30M663.30 108.66h-9.30M86.30 94.30h4.70M663.30 94.30h-4.70M86.30 79.93h4.70M663.30 79.93h-4.70M86.30 65.57h4.70M663.30 65.57h-4.70M86.30 51.20h9.30M663.30 51.20h-9.30" stroke="#000" stroke-width="1.8" fill="none"/>
<rect x="86.30" y="44.02" width="577.00" height="215.49" fill="none" stroke="#000" stroke-width="2.7"/>
<text x="75.4" y="232.99" text-anchor="end" class="tl">1.6</text>
<text x="75.4" y="175.53" text-anchor="end" class="tl">2.4</text>
<text x="75.4" y="118.06" text-anchor="end" class="tl">3.2</text>
<text x="75.4" y="60.60" text-anchor="end" class="tl">4.0</text>
<path d="M86.30 500.11v-9.30M86.30 284.62v9.30M115.15 500.11v-4.70M115.15 284.62v4.70M144.00 500.11v-4.70M144.00 284.62v4.70M172.85 500.11v-4.70M172.85 284.62v4.70M201.70 500.11v-4.70M201.70 284.62v4.70M230.55 500.11v-9.30M230.55 284.62v9.30M259.40 500.11v-4.70M259.40 284.62v4.70M288.25 500.11v-4.70M288.25 284.62v4.70M317.10 500.11v-4.70M317.10 284.62v4.70M345.95 500.11v-4.70M345.95 284.62v4.70M374.80 500.11v-9.30M374.80 284.62v9.30M403.65 500.11v-4.70M403.65 284.62v4.70M432.50 500.11v-4.70M432.50 284.62v4.70M461.35 500.11v-4.70M461.35 284.62v4.70M490.20 500.11v-4.70M490.20 284.62v4.70M519.05 500.11v-9.30M519.05 284.62v9.30M547.90 500.11v-4.70M547.90 284.62v4.70M576.75 500.11v-4.70M576.75 284.62v4.70M605.60 500.11v-4.70M605.60 284.62v4.70M634.45 500.11v-4.70M634.45 284.62v4.70M663.30 500.11v-9.30M663.30 284.62v9.30M86.30 492.92h4.70M663.30 492.92h-4.70M86.30 478.56h4.70M663.30 478.56h-4.70M86.30 464.19h9.30M663.30 464.19h-9.30M86.30 449.83h4.70M663.30 449.83h-4.70M86.30 435.46h4.70M663.30 435.46h-4.70M86.30 421.09h4.70M663.30 421.09h-4.70M86.30 406.73h9.30M663.30 406.73h-9.30M86.30 392.36h4.70M663.30 392.36h-4.70M86.30 378.00h4.70M663.30 378.00h-4.70M86.30 363.63h4.70M663.30 363.63h-4.70M86.30 349.26h9.30M663.30 349.26h-9.30M86.30 334.90h4.70M663.30 334.90h-4.70M86.30 320.53h4.70M663.30 320.53h-4.70M86.30 306.17h4.70M663.30 306.17h-4.70M86.30 291.80h9.30M663.30 291.80h-9.30" stroke="#000" stroke-width="1.8" fill="none"/>
<rect x="86.30" y="284.62" width="577.00" height="215.49" fill="none" stroke="#000" stroke-width="2.7"/>
<text x="75.4" y="473.59" text-anchor="end" class="tl">1.6</text>
<text x="75.4" y="416.13" text-anchor="end" class="tl">2.4</text>
<text x="75.4" y="358.66" text-anchor="end" class="tl">3.2</text>
<text x="75.4" y="301.20" text-anchor="end" class="tl">4.0</text>
<text x="86.30" y="528.9" text-anchor="middle" class="tl">0</text>
<text x="230.55" y="528.9" text-anchor="middle" class="tl">100</text>
<text x="374.80" y="528.9" text-anchor="middle" class="tl">200</text>
<text x="519.05" y="528.9" text-anchor="middle" class="tl">300</text>
<text x="663.30" y="528.9" text-anchor="middle" class="tl">400</text>
<text x="374.6" y="563.6" text-anchor="middle" class="tl">Time [fs]</text>
<text transform="translate(23.6 152.06) rotate(-90)" text-anchor="middle" class="tl" style="font-size:24.8px">C-N bond length [Å]</text>
<text transform="translate(23.6 392.66) rotate(-90)" text-anchor="middle" class="tl" style="font-size:24.8px">C-N bond length [Å]</text>
<text x="113.8" y="83.8" style="font-size:31px;font-weight:bold">a</text>
<text x="148.3" y="83.6" class="tl">SP1mt: 42%</text>
<text x="112.8" y="328.3" style="font-size:31px;font-weight:bold">b</text>
<text x="149" y="328.3" class="tl">SP1mc: 95%</text>
<path d="M172.85 11.6H227.05" stroke="#2b3d9a" stroke-width="4" fill="none"/>
<text x="244.10" y="19.8" class="tl">S<tspan dx="0.6" dy="3.9" style="font-size:17.5px">0</tspan></text>
<path d="M322.85 11.6H376.60" stroke="#68c8bc" stroke-width="4" fill="none"/>
<text x="394.10" y="19.8" class="tl">S<tspan dx="0.6" dy="3.9" style="font-size:17.5px">1</tspan></text>
<path d="M472.10 11.6H526.60" stroke="#eaf03a" stroke-width="4" fill="none"/>
<text x="543.40" y="19.8" class="tl">S<tspan dx="0.6" dy="3.9" style="font-size:17.5px">2</tspan></text>
</svg>
</body></html>
